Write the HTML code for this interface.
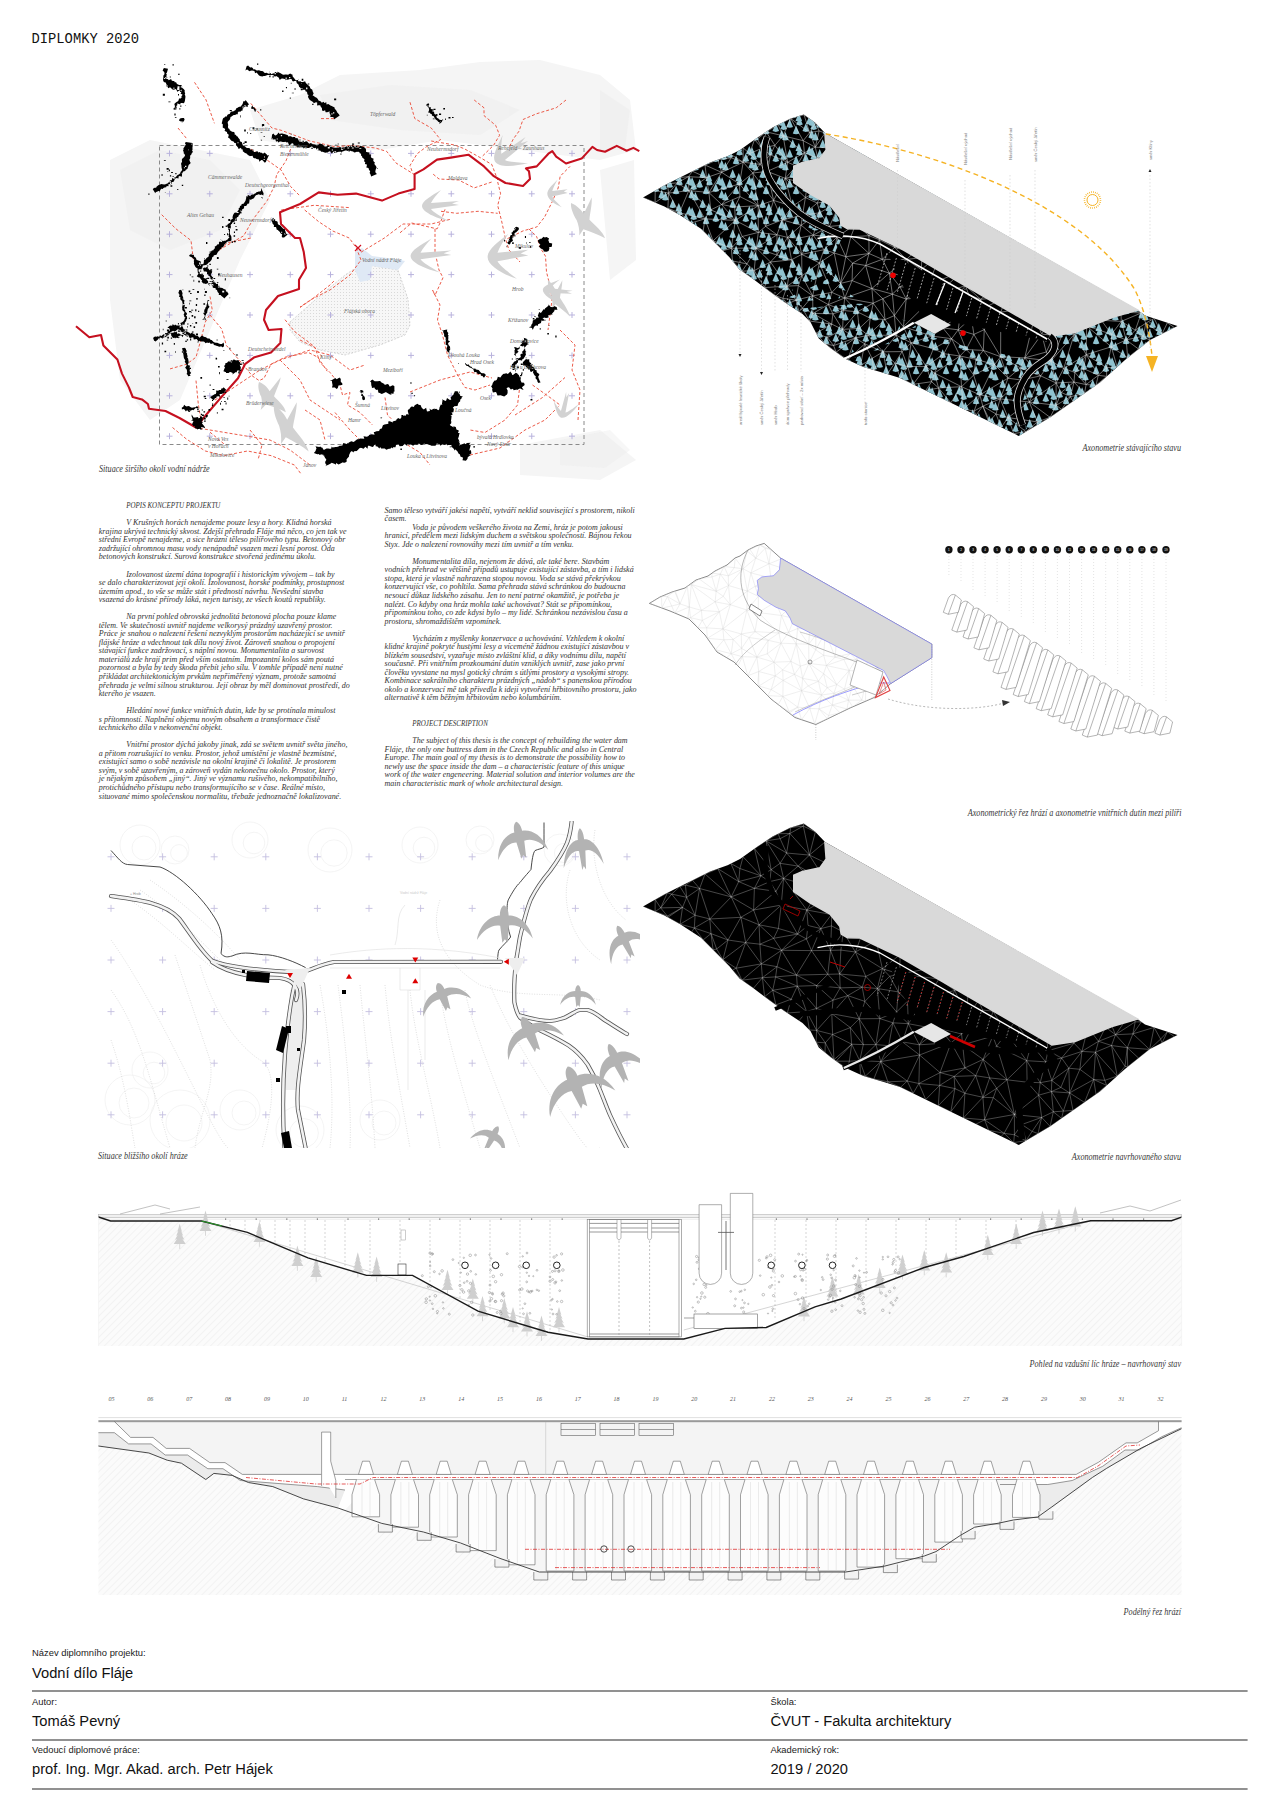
<!DOCTYPE html><html><head><meta charset="utf-8"><style>
html,body{margin:0;padding:0;background:#fff}
body{width:1280px;height:1812px;position:relative;overflow:hidden}
svg{position:absolute;left:0;top:0}
.t{font-family:"Liberation Serif",serif;font-style:italic;font-size:9.2px;fill:#333}
.cap{font-family:"Liberation Serif",serif;font-style:italic;font-size:9.4px;fill:#383838}
.lab{font-family:"Liberation Sans",sans-serif;font-size:9.4px;fill:#222}
.val{font-family:"Liberation Sans",sans-serif;font-size:14.7px;fill:#111}
</style></head><body>
<svg width="1280" height="1812" viewBox="0 0 1280 1812">
<text x="31.5" y="43.2" style="font-family:'Liberation Mono',monospace;font-size:13.8px;fill:#111">DIPLOMKY 2020</text>
<g fill="#f5f5f5">
<polygon points="250.0,110.0 300.0,95.0 340.0,75.0 420.0,70.0 480.0,62.0 540.0,60.0 600.0,75.0 630.0,100.0 636.0,150.0 600.0,160.0 520.0,150.0 440.0,140.0 380.0,150.0 320.0,150.0 260.0,140.0"/>
<polygon points="110.0,160.0 150.0,140.0 200.0,150.0 250.0,160.0 270.0,200.0 240.0,260.0 210.0,330.0 180.0,400.0 150.0,420.0 120.0,380.0 110.0,300.0"/>
<polygon points="600.0,170.0 634.0,160.0 636.0,260.0 610.0,280.0"/>
<polygon points="520.0,445.0 600.0,430.0 636.0,460.0 600.0,480.0 520.0,475.0"/>
</g>
<g fill="#ebebeb" opacity="0.4">
<polygon points="120.0,170.0 160.0,150.0 210.0,160.0 240.0,190.0 220.0,230.0 170.0,250.0 130.0,230.0"/>
<polygon points="320.0,95.0 390.0,85.0 470.0,90.0 520.0,110.0 480.0,135.0 400.0,130.0 330.0,120.0"/>
<polygon points="600.0,90.0 630.0,110.0 625.0,150.0 600.0,150.0"/>
<polygon points="560.0,440.0 610.0,430.0 630.0,450.0 605.0,468.0 560.0,465.0"/>
</g>
<defs><pattern id="dots" width="3" height="3" patternUnits="userSpaceOnUse"><rect width="3" height="3" fill="#f7f7f7"/><circle cx="1.5" cy="1.5" r="0.5" fill="#cfcfcf"/></pattern></defs>
<polygon points="290.0,322.0 315.0,300.0 345.0,275.0 362.0,264.0 398.0,270.0 408.0,299.0 410.0,325.0 405.0,335.0 380.0,345.0 345.0,355.0 320.0,350.0 300.0,342.0 290.0,330.0" fill="url(#dots)" stroke="#bbb" stroke-width="0.6" stroke-dasharray="2,1.5"/>
<polygon points="355.0,252.0 362.0,248.0 372.0,256.0 395.0,259.0 405.0,261.0 398.0,270.0 372.0,266.0 370.0,280.0 360.0,282.0 355.0,270.0" fill="#dfe9f5"/>
<g stroke="#b9b3dd" stroke-width="1">
<path d="M166.5,153.4h6M169.5,150.4v6"/>
<path d="M166.5,193.8h6M169.5,190.8v6"/>
<path d="M166.5,234.2h6M169.5,231.2v6"/>
<path d="M166.5,274.6h6M169.5,271.6v6"/>
<path d="M166.5,315.0h6M169.5,312.0v6"/>
<path d="M166.5,355.4h6M169.5,352.4v6"/>
<path d="M166.5,395.79999999999995h6M169.5,392.79999999999995v6"/>
<path d="M166.5,436.20000000000005h6M169.5,433.20000000000005v6"/>
<path d="M206.75,153.4h6M209.75,150.4v6"/>
<path d="M206.75,193.8h6M209.75,190.8v6"/>
<path d="M206.75,234.2h6M209.75,231.2v6"/>
<path d="M206.75,274.6h6M209.75,271.6v6"/>
<path d="M206.75,315.0h6M209.75,312.0v6"/>
<path d="M206.75,355.4h6M209.75,352.4v6"/>
<path d="M206.75,395.79999999999995h6M209.75,392.79999999999995v6"/>
<path d="M206.75,436.20000000000005h6M209.75,433.20000000000005v6"/>
<path d="M247.0,153.4h6M250.0,150.4v6"/>
<path d="M247.0,193.8h6M250.0,190.8v6"/>
<path d="M247.0,234.2h6M250.0,231.2v6"/>
<path d="M247.0,274.6h6M250.0,271.6v6"/>
<path d="M247.0,315.0h6M250.0,312.0v6"/>
<path d="M247.0,355.4h6M250.0,352.4v6"/>
<path d="M247.0,395.79999999999995h6M250.0,392.79999999999995v6"/>
<path d="M247.0,436.20000000000005h6M250.0,433.20000000000005v6"/>
<path d="M287.25,153.4h6M290.25,150.4v6"/>
<path d="M287.25,193.8h6M290.25,190.8v6"/>
<path d="M287.25,234.2h6M290.25,231.2v6"/>
<path d="M287.25,274.6h6M290.25,271.6v6"/>
<path d="M287.25,315.0h6M290.25,312.0v6"/>
<path d="M287.25,355.4h6M290.25,352.4v6"/>
<path d="M287.25,395.79999999999995h6M290.25,392.79999999999995v6"/>
<path d="M287.25,436.20000000000005h6M290.25,433.20000000000005v6"/>
<path d="M327.5,153.4h6M330.5,150.4v6"/>
<path d="M327.5,193.8h6M330.5,190.8v6"/>
<path d="M327.5,234.2h6M330.5,231.2v6"/>
<path d="M327.5,274.6h6M330.5,271.6v6"/>
<path d="M327.5,315.0h6M330.5,312.0v6"/>
<path d="M327.5,355.4h6M330.5,352.4v6"/>
<path d="M327.5,395.79999999999995h6M330.5,392.79999999999995v6"/>
<path d="M327.5,436.20000000000005h6M330.5,433.20000000000005v6"/>
<path d="M367.75,153.4h6M370.75,150.4v6"/>
<path d="M367.75,193.8h6M370.75,190.8v6"/>
<path d="M367.75,234.2h6M370.75,231.2v6"/>
<path d="M367.75,274.6h6M370.75,271.6v6"/>
<path d="M367.75,315.0h6M370.75,312.0v6"/>
<path d="M367.75,355.4h6M370.75,352.4v6"/>
<path d="M367.75,395.79999999999995h6M370.75,392.79999999999995v6"/>
<path d="M367.75,436.20000000000005h6M370.75,433.20000000000005v6"/>
<path d="M408.0,153.4h6M411.0,150.4v6"/>
<path d="M408.0,193.8h6M411.0,190.8v6"/>
<path d="M408.0,234.2h6M411.0,231.2v6"/>
<path d="M408.0,274.6h6M411.0,271.6v6"/>
<path d="M408.0,315.0h6M411.0,312.0v6"/>
<path d="M408.0,355.4h6M411.0,352.4v6"/>
<path d="M408.0,395.79999999999995h6M411.0,392.79999999999995v6"/>
<path d="M408.0,436.20000000000005h6M411.0,433.20000000000005v6"/>
<path d="M448.25,153.4h6M451.25,150.4v6"/>
<path d="M448.25,193.8h6M451.25,190.8v6"/>
<path d="M448.25,234.2h6M451.25,231.2v6"/>
<path d="M448.25,274.6h6M451.25,271.6v6"/>
<path d="M448.25,315.0h6M451.25,312.0v6"/>
<path d="M448.25,355.4h6M451.25,352.4v6"/>
<path d="M448.25,395.79999999999995h6M451.25,392.79999999999995v6"/>
<path d="M448.25,436.20000000000005h6M451.25,433.20000000000005v6"/>
<path d="M488.5,153.4h6M491.5,150.4v6"/>
<path d="M488.5,193.8h6M491.5,190.8v6"/>
<path d="M488.5,234.2h6M491.5,231.2v6"/>
<path d="M488.5,274.6h6M491.5,271.6v6"/>
<path d="M488.5,315.0h6M491.5,312.0v6"/>
<path d="M488.5,355.4h6M491.5,352.4v6"/>
<path d="M488.5,395.79999999999995h6M491.5,392.79999999999995v6"/>
<path d="M488.5,436.20000000000005h6M491.5,433.20000000000005v6"/>
<path d="M528.75,153.4h6M531.75,150.4v6"/>
<path d="M528.75,193.8h6M531.75,190.8v6"/>
<path d="M528.75,234.2h6M531.75,231.2v6"/>
<path d="M528.75,274.6h6M531.75,271.6v6"/>
<path d="M528.75,315.0h6M531.75,312.0v6"/>
<path d="M528.75,355.4h6M531.75,352.4v6"/>
<path d="M528.75,395.79999999999995h6M531.75,392.79999999999995v6"/>
<path d="M528.75,436.20000000000005h6M531.75,433.20000000000005v6"/>
<path d="M569.0,153.4h6M572.0,150.4v6"/>
<path d="M569.0,193.8h6M572.0,190.8v6"/>
<path d="M569.0,234.2h6M572.0,231.2v6"/>
<path d="M569.0,274.6h6M572.0,271.6v6"/>
<path d="M569.0,315.0h6M572.0,312.0v6"/>
<path d="M569.0,355.4h6M572.0,352.4v6"/>
<path d="M569.0,395.79999999999995h6M572.0,392.79999999999995v6"/>
<path d="M569.0,436.20000000000005h6M572.0,433.20000000000005v6"/>
</g>
<rect x="159.5" y="145.5" width="424.5" height="299" fill="none" stroke="#8a8a8a" stroke-width="1" stroke-dasharray="4,3"/>
<g fill="none" stroke="#ec5a48" stroke-width="1" stroke-dasharray="3,2">
<polyline points="194.5,82.3 206.0,99.8 214.4,123.3"/>
<polyline points="178.0,128.0 187.5,139.7"/>
<polyline points="250.8,103.4 271.9,128.0 281.2,130.3 309.4,140.9 335.0,146.7 351.5,145.5 375.0,147.9 386.7,151.4 396.0,163.0 405.5,169.0 414.8,174.8"/>
<polyline points="290.6,149.0 286.0,160.8 276.6,174.8 274.2,186.5 267.2,200.6 253.0,219.4 243.7,235.8 227.3,245.1 215.6,252.2"/>
<polyline points="250.8,149.0 264.8,158.4 281.2,170.1 290.6,186.5 300.0,196.0"/>
<polyline points="281.2,210.0 314.0,205.3 349.2,207.6"/>
<polyline points="304.7,210.0 318.7,221.7 332.8,231.0 349.2,238.0 356.2,247.5 361.0,260.0 350.0,275.0 330.0,290.0 312.0,299.0 300.0,307.0"/>
<polyline points="361.0,252.2 384.4,238.0 403.0,224.0 431.2,224.0 450.0,219.4"/>
<polyline points="410.0,102.2 414.8,118.6 431.2,128.0 440.6,139.7 426.5,146.7 417.2,153.7 410.0,165.5 412.5,172.5"/>
<polyline points="250.8,238.0 227.3,242.8 211.0,256.9"/>
<polyline points="161.7,214.7 175.8,228.7 191.0,240.5 193.4,260.0"/>
<polyline points="474.2,100.0 484.0,107.8 484.0,115.6 495.7,125.4 499.6,135.2 493.8,145.0 482.0,156.6"/>
<polyline points="566.0,100.0 556.2,107.8 536.7,113.7 523.0,119.5 519.0,131.2 513.3,139.0 509.4,146.9"/>
<polyline points="431.2,141.0 454.7,145.0 464.4,148.8 482.0,158.6 491.8,164.5 497.7,180.0"/>
<polyline points="433.2,174.2 439.0,179.0 458.6,180.0 474.2,187.9 491.8,182.0"/>
<polyline points="497.7,182.0 500.6,193.8 497.7,205.5 501.6,221.0 505.5,238.7 509.0,250.0 520.0,262.0"/>
<polyline points="441.0,211.3 456.6,213.3 478.1,211.3 497.7,213.3"/>
<polyline points="400.0,232.8 411.7,223.0 437.1,228.9 441.0,221.0 445.0,209.4"/>
<polyline points="435.0,228.9 435.0,252.3 439.0,270.0 443.0,277.7 435.0,295.3 432.5,290.0 440.0,305.0 437.5,320.0 442.5,335.0 447.5,355.0 457.5,375.0 465.0,387.5 475.0,390.0 490.0,385.0"/>
<polyline points="507.4,238.7 523.0,230.9 536.7,227.0 544.5,217.2 552.3,201.6 558.2,187.9 560.2,176.2 570.0,166.4"/>
<polyline points="528.9,228.9 536.7,236.7 540.6,248.4 545.5,256.2 546.5,271.9 550.4,287.5 552.0,300.0 548.0,330.0"/>
<polyline points="300.0,307.5 312.5,298.8 330.0,285.0 335.0,280.0"/>
<polyline points="300.0,340.0 315.0,347.5 320.0,362.5 330.0,372.5 340.0,385.0 342.5,395.0 350.0,392.5 347.5,405.0 360.0,412.5 372.5,425.0"/>
<polyline points="520.0,385.0 517.5,405.0 505.0,420.0 485.0,432.5 470.0,430.0"/>
<polyline points="515.0,415.0 542.5,397.5 565.0,377.5"/>
<polyline points="532.5,385.0 550.0,397.5 560.0,405.0"/>
<polyline points="385.0,397.5 387.5,415.0 392.5,420.0"/>
<polyline points="407.5,445.0 420.0,452.5 430.0,465.0"/>
<polyline points="305.0,410.0 320.0,420.0 325.0,440.0"/>
<polyline points="335.0,412.5 350.0,430.0 360.0,440.0"/>
<polyline points="195.0,427.5 240.0,435.0 270.0,440.0 290.0,450.0 310.0,465.0"/>
<polyline points="215.0,400.0 260.0,370.0 280.0,360.0 310.0,350.0 330.0,355.0 350.0,370.0 365.0,365.0"/>
<polyline points="280.0,360.0 300.0,380.0 310.0,400.0 340.0,420.0"/>
<polyline points="170.0,368.9 186.6,364.2 196.0,357.2 200.6,340.8 205.3,322.0 212.3,310.3 210.0,296.2"/>
<polyline points="196.0,380.6 198.3,404.0 200.6,418.1"/>
<polyline points="210.0,315.0 221.7,329.0 226.4,345.5 242.8,364.2 252.2,375.9 259.2,380.6 264.0,378.3 271.0,364.2 285.0,357.2 308.4,352.5 317.8,357.2 327.2,371.2"/>
<polyline points="285.0,319.7 294.4,331.4 313.0,345.5 322.5,357.2"/>
<polyline points="172.5,427.5 186.6,439.2 205.3,451.0 224.0,455.6 247.5,451.0 271.0,455.6 294.4,465.0 301.4,474.4"/>
<polyline points="210.0,432.2 224.0,443.9"/>
<polyline points="321.0,118.6 335.1,118.6"/>
<polyline points="410.0,392.0 440.0,380.0 470.0,372.0 492.0,378.0"/>
<polyline points="560.0,330.0 575.0,345.0 572.0,370.0 580.0,390.0 578.0,420.0"/>
<polyline points="470.0,455.0 500.0,448.0 525.0,430.0 545.0,420.0 560.0,405.0"/>
<polyline points="250.0,430.0 262.0,445.0 258.0,460.0"/>
</g>
<g>
<path d="M15,-16 C5,-10 -4,-5 -4,0 C-4,6 10,12 22.6,15 C14,10 7,6 5,3 L33,-1 L26,-2.5 L33,-5 L5,-3 C7,-7 11,-12 15,-16 Z" transform="translate(426,206) rotate(0) scale(1,1)" fill="#d2d2d2"/>
<path d="M15,-16 C5,-10 -4,-5 -4,0 C-4,6 10,12 22.6,15 C14,10 7,6 5,3 L33,-1 L26,-2.5 L33,-5 L5,-3 C7,-7 11,-12 15,-16 Z" transform="translate(415,256) rotate(0) scale(1.1,1.1)" fill="#d2d2d2"/>
<path d="M15,-16 C5,-10 -4,-5 -4,0 C-4,6 10,12 22.6,15 C14,10 7,6 5,3 L33,-1 L26,-2.5 L33,-5 L5,-3 C7,-7 11,-12 15,-16 Z" transform="translate(492,257) rotate(0) scale(1.1,1.45)" fill="#d2d2d2"/>
<path d="M15,-16 C5,-10 -4,-5 -4,0 C-4,6 10,12 22.6,15 C14,10 7,6 5,3 L33,-1 L26,-2.5 L33,-5 L5,-3 C7,-7 11,-12 15,-16 Z" transform="translate(498.6,159.4) rotate(-30) scale(1.05,1.2)" fill="#d2d2d2"/>
<path d="M15,-16 C5,-10 -4,-5 -4,0 C-4,6 10,12 22.6,15 C14,10 7,6 5,3 L33,-1 L26,-2.5 L33,-5 L5,-3 C7,-7 11,-12 15,-16 Z" transform="translate(549.5,193.8) rotate(0) scale(0.55,0.9)" fill="#d2d2d2"/>
<path d="M0,0 C3,4 6,12 6,20 L24,8 C20,16 12,24 8,30 C10,40 14,52 12,60 C8,52 2,44 -4,36 L-12,40 C-8,34 -6,28 -5,22 C-5,12 -3,4 0,0 Z" transform="translate(571,203) rotate(-32) scale(0.85,0.8)" fill="#d2d2d2"/>
<path d="M15,-16 C5,-10 -4,-5 -4,0 C-4,6 10,12 22.6,15 C14,10 7,6 5,3 L33,-1 L26,-2.5 L33,-5 L5,-3 C7,-7 11,-12 15,-16 Z" transform="translate(546,290) rotate(10) scale(0.8,0.8)" fill="#d2d2d2"/>
<path d="M0,0 C3,4 6,12 6,20 L24,8 C20,16 12,24 8,30 C10,40 14,52 12,60 C8,52 2,44 -4,36 L-12,40 C-8,34 -6,28 -5,22 C-5,12 -3,4 0,0 Z" transform="translate(548,280) rotate(-22) scale(0.55,0.7)" fill="#d2d2d2"/>
<path d="M0,0 C3,4 6,12 6,20 L24,8 C20,16 12,24 8,30 C10,40 14,52 12,60 C8,52 2,44 -4,36 L-12,40 C-8,34 -6,28 -5,22 C-5,12 -3,4 0,0 Z" transform="translate(259,382) rotate(-26) scale(0.9,0.65)" fill="#d2d2d2"/>
<path d="M0,0 C3,4 6,12 6,20 L24,8 C20,16 12,24 8,30 C10,40 14,52 12,60 C8,52 2,44 -4,36 L-12,40 C-8,34 -6,28 -5,22 C-5,12 -3,4 0,0 Z" transform="translate(274,405) rotate(-26) scale(0.9,0.95)" fill="#d2d2d2"/>
<path d="M15,-16 C5,-10 -4,-5 -4,0 C-4,6 10,12 22.6,15 C14,10 7,6 5,3 L33,-1 L26,-2.5 L33,-5 L5,-3 C7,-7 11,-12 15,-16 Z" transform="translate(562,415) rotate(-70) scale(0.7,0.8)" fill="#d2d2d2"/>
</g>
<polyline points="76.0,326.2 89.3,337.3 101.0,335.0 103.4,345.5 117.4,359.5 122.0,373.6 129.0,387.6 132.7,397.0 142.0,399.4 147.9,404.0 149.0,408.7 165.5,411.0 179.5,418.0 196.0,427.5 205.3,415.8 219.4,399.4 238.0,378.3 245.0,364.2 254.5,357.2 271.0,352.5 280.3,343.0 281.5,329.0 268.6,330.0 264.0,319.7 266.0,310.0 278.0,296.0 299.0,289.0 299.0,279.8 306.0,268.0 303.7,251.7 300.0,238.0 295.0,238.0 281.0,224.0 280.0,212.3 300.0,204.0 318.7,192.4 337.5,194.8 356.0,193.6 382.0,200.6 398.4,193.6 414.6,188.9 414.6,174.2 423.4,169.3 437.0,159.6 450.8,157.6 468.4,154.7 484.0,166.4 493.8,176.2 505.5,183.0 523.0,186.0 530.0,179.0 529.0,171.3 526.0,168.4 536.7,166.4 548.4,153.7 552.3,151.2 556.2,156.6 566.0,163.5 581.6,158.6 592.4,146.9 597.0,150.0 605.0,151.8 616.8,145.9 626.6,150.8 633.4,147.9 639.3,151.2" fill="none" stroke="#c5101f" stroke-width="2.1" stroke-linejoin="round"/>
<path d="M163.9,68.0L163.2,69.2L162.6,70.4L164.2,72.0L164.5,73.3L164.3,74.6L163.3,75.7L163.4,77.0L163.0,79.9L163.5,81.4L164.4,82.3L165.7,82.6L166.3,84.0L166.9,85.3L167.6,86.6L168.1,88.2L170.1,87.3L171.5,88.5L172.5,89.4L173.9,89.7L175.7,88.9L176.6,90.0L177.2,91.7L179.4,90.4L181.0,90.0L181.3,89.5L182.0,90.8L181.3,92.2L180.5,93.6L182.6,94.8L181.5,96.2L181.3,97.6L182.6,97.2L181.5,97.8L180.6,98.6L179.0,98.4L178.7,100.1L178.0,101.2L176.9,101.7L175.3,102.9L174.3,104.0L174.8,105.6L174.9,107.1L174.2,108.3L172.8,109.1L175.4,110.1L175.0,108.5L176.9,107.8L176.2,106.1L177.4,105.2L177.1,103.6L178.3,103.7L180.3,104.6L180.6,102.9L182.1,103.0L183.7,103.2L184.5,102.3L184.9,100.7L185.4,97.2L185.4,95.9L184.7,94.6L185.2,93.2L184.6,91.9L184.8,90.6L183.9,89.3L182.1,87.8L181.9,85.4L180.6,85.0L179.2,84.9L177.9,84.5L176.8,83.7L176.1,82.3L174.6,82.2L174.3,81.1L172.9,81.0L171.7,80.4L171.1,79.1L168.8,80.2L168.0,79.3L166.8,78.7L165.5,78.5L164.9,77.0L167.7,77.7L166.0,76.1L167.0,75.0L166.1,73.6L167.0,72.4L167.3,71.2L167.7,69.9L168.0,68.7ZM172.5,64.2h1.3v1.3h-1.3ZM164.4,64.1h0.8v0.8h-0.8ZM169.8,76.4h1.0v1.0h-1.0ZM164.0,78.0h0.9v0.9h-0.9ZM180.8,86.2h1.3v1.3h-1.3ZM166.5,85.2h1.2v1.2h-1.2ZM180.1,90.5h1.4v1.4h-1.4ZM185.0,105.4h0.6v0.6h-0.6ZM179.3,108.3h1.1v1.1h-1.1ZM180.2,105.6h1.2v1.2h-1.2ZM178.9,120.3L180.1,121.3L181.8,121.4L183.4,121.7L184.6,119.7L184.0,117.9L182.0,118.1L180.0,118.5ZM181.8,122.2h0.6v0.6h-0.6ZM245.4,70.4L247.0,69.4L248.1,70.0L249.1,71.3L250.6,70.7L252.0,70.4L253.2,70.7L254.4,71.1L255.1,73.2L256.6,72.6L257.6,73.8L258.8,75.3L259.9,76.0L261.1,76.2L262.3,76.5L263.6,75.9L264.9,75.9L266.2,75.5L267.6,75.0L268.8,75.0L270.0,75.5L271.3,74.9L272.5,75.1L273.7,75.4L274.9,76.7L276.2,76.1L277.4,76.7L278.6,77.6L279.8,79.9L281.1,78.8L282.3,78.5L283.6,78.8L284.8,79.1L286.0,80.3L285.2,80.4L286.9,79.8L288.5,79.5L290.0,79.1L291.5,78.9L292.1,80.5L293.0,81.4L294.5,81.1L296.1,80.7L296.6,82.4L297.0,83.4L298.1,84.0L298.7,85.3L299.1,86.8L300.1,87.6L300.9,88.5L302.0,89.1L303.0,89.9L303.2,89.7L305.3,89.8L305.4,91.2L306.8,91.8L307.3,92.9L307.3,94.3L308.6,95.0L307.9,96.9L308.6,97.9L309.0,99.1L309.9,99.9L311.0,100.7L313.0,102.0L313.8,103.3L315.9,102.3L317.2,102.6L317.1,105.4L318.7,105.3L320.2,105.3L320.9,107.1L321.9,107.9L322.1,110.4L323.3,111.0L325.1,110.3L325.6,112.2L327.1,112.2L328.8,111.7L329.4,111.0L329.5,112.5L329.9,113.9L330.6,115.1L330.3,117.0L332.5,117.1L334.0,117.7L333.9,119.4L339.7,115.4L338.9,114.3L338.0,113.3L337.1,112.2L336.6,111.0L335.8,109.8L334.8,108.9L334.6,107.4L331.7,105.9L330.4,105.5L329.4,104.7L328.3,103.9L326.5,104.6L326.3,102.2L324.4,103.0L323.5,101.7L321.8,102.7L320.9,101.5L319.7,101.0L318.5,100.5L317.8,99.1L316.8,98.1L315.8,97.3L316.3,97.5L314.9,96.9L314.0,96.0L312.6,95.4L313.7,93.3L313.0,92.3L312.6,91.1L312.3,89.8L311.3,89.0L310.2,88.2L310.0,86.9L309.2,86.0L307.3,84.5L306.4,83.6L305.6,82.6L305.1,81.2L303.0,81.9L301.4,81.9L300.3,81.2L298.6,81.4L297.8,80.1L296.4,80.2L295.3,79.7L294.4,78.6L293.6,77.5L292.7,76.6L292.4,74.5L291.2,74.2L290.2,73.5L288.1,74.8L286.3,74.5L285.1,74.4L283.8,74.7L282.6,74.6L281.4,73.7L280.2,72.9L278.9,72.4L277.7,71.8L276.4,72.2L275.2,72.1L274.2,73.3L272.8,73.6L271.5,74.3L270.5,73.0L269.1,73.8L267.9,73.6L266.8,72.7L265.5,73.1L264.3,72.8L263.3,71.5L262.1,71.1L260.9,71.1L259.7,70.6L258.7,70.2L257.2,70.6L256.0,70.3L255.0,69.2L253.6,69.4L252.7,68.1L251.6,67.3L250.2,67.6L249.1,66.6L248.1,65.5L246.6,66.2ZM257.0,63.4h1.3v1.3h-1.3ZM269.4,71.7h0.6v0.6h-0.6ZM274.6,73.1h1.2v1.2h-1.2ZM269.3,76.0h1.2v1.2h-1.2ZM272.5,76.3h1.3v1.3h-1.3ZM276.3,71.9h1.1v1.1h-1.1ZM289.1,77.1h1.2v1.2h-1.2ZM298.4,79.6h0.5v0.5h-0.5ZM301.3,83.1h0.5v0.5h-0.5ZM312.2,103.8h1.3v1.3h-1.3ZM333.0,112.3h1.3v1.3h-1.3ZM331.4,113.3h1.1v1.1h-1.1ZM245.6,99.9L245.0,101.2L243.3,101.2L243.0,102.8L242.5,104.3L241.6,105.3L241.0,106.5L239.5,106.8L238.2,107.2L237.2,107.9L236.0,108.4L235.7,109.9L234.7,110.6L233.6,111.2L232.3,111.5L230.8,111.6L230.2,112.9L229.6,113.9L228.3,114.3L227.3,115.0L226.8,116.4L225.2,116.5L224.5,117.5L223.3,118.1L222.7,119.3L221.7,123.5L222.8,124.3L222.8,125.9L222.7,127.5L224.0,128.2L225.2,128.9L224.6,130.7L225.8,131.4L227.0,132.1L227.1,133.6L228.4,134.2L228.7,135.6L228.0,137.5L229.4,138.2L230.1,139.2L231.4,140.8L232.7,141.2L233.9,141.8L234.4,143.1L236.1,143.2L235.9,145.1L236.8,146.0L238.0,147.6L238.6,149.0L241.0,147.7L241.4,149.2L242.7,149.5L242.9,151.4L244.0,151.9L244.8,152.9L246.1,153.2L247.0,154.1L247.9,154.9L249.8,156.0L251.1,156.0L252.6,155.7L253.1,157.6L254.1,158.3L255.5,158.2L256.5,159.0L257.7,159.2L259.0,159.4L259.2,161.8L261.3,160.0L262.6,160.3L263.5,161.3L264.3,162.5L265.7,162.3L269.0,154.9L267.3,155.6L266.6,154.3L265.6,153.4L264.8,152.4L262.9,153.7L261.9,152.7L260.6,152.7L259.6,151.9L258.1,152.4L257.3,151.1L255.5,152.1L254.2,152.1L253.3,151.0L252.6,149.7L251.7,149.7L250.4,149.4L249.7,148.2L248.3,148.1L246.9,147.9L245.8,147.3L245.0,146.3L243.8,145.9L242.8,145.2L242.3,143.7L241.9,142.2L241.0,141.8L239.9,141.2L239.8,139.5L238.9,138.6L238.1,137.6L237.6,136.4L236.3,135.9L236.2,135.1L234.6,134.6L234.7,133.0L234.0,132.0L232.0,131.8L231.0,131.0L229.7,130.3L229.5,128.9L228.2,128.2L228.0,126.8L228.2,125.0L227.9,123.7L227.7,122.2L227.5,120.8L225.2,120.8L225.8,123.2L227.2,123.0L227.9,121.8L228.7,120.8L229.6,119.9L230.2,118.7L230.5,117.0L231.6,116.5L232.6,115.7L233.7,115.1L235.2,115.0L236.2,114.2L237.8,114.3L237.8,112.4L238.8,111.6L240.4,111.7L241.3,110.8L242.6,110.4L242.6,108.6L243.8,108.1L244.4,106.8L245.5,106.2L247.7,106.9L247.8,104.9L249.1,104.5ZM242.5,106.6h1.1v1.1h-1.1ZM237.5,142.2h1.0v1.0h-1.0ZM243.3,142.8h1.2v1.2h-1.2ZM252.3,149.6h1.1v1.1h-1.1ZM263.6,158.9h1.1v1.1h-1.1ZM264.0,156.6h1.0v1.0h-1.0ZM185.8,142.1L184.9,143.3L185.9,144.7L184.9,145.8L184.4,147.0L183.4,148.2L183.5,149.4L183.0,150.7L183.8,152.0L183.6,153.3L184.5,154.1L185.1,155.6L184.3,156.8L183.4,157.8L182.2,158.8L181.8,160.1L182.1,161.5L181.5,162.7L181.0,163.7L181.4,165.2L181.5,166.7L181.6,168.1L182.2,169.8L181.5,171.0L180.5,172.0L180.3,173.3L179.7,173.7L178.8,174.6L177.6,175.0L176.6,175.9L176.0,177.1L175.2,178.2L174.1,178.9L172.0,178.1L171.9,180.2L170.3,180.1L169.5,181.1L168.7,182.3L168.0,183.3L166.6,183.7L165.5,184.2L164.2,184.6L162.6,184.3L161.0,184.1L160.0,184.8L158.7,185.1L157.7,185.7L156.7,186.4L156.1,187.7L154.6,187.7L153.6,188.3L152.8,189.3L155.3,193.3L155.9,192.0L157.2,191.8L158.1,191.0L159.8,191.3L160.4,189.9L161.1,188.7L162.6,188.9L163.5,188.0L164.5,187.4L166.2,187.3L166.7,186.0L168.5,186.2L168.5,184.1L170.1,184.2L171.6,184.1L171.7,182.1L173.2,182.0L174.1,181.1L174.5,179.4L175.5,178.7L176.6,178.1L178.5,178.6L178.6,176.5L179.7,175.9L181.9,176.7L182.0,174.0L182.5,172.8L183.2,171.6L185.2,171.0L185.8,169.8L187.4,169.0L187.7,167.7L188.2,166.5L188.6,164.9L189.8,163.9L190.7,162.9L189.8,161.2L189.3,159.7L190.1,158.5L190.2,157.2L190.1,155.8L191.5,154.2L191.8,153.0L193.0,151.9L192.1,150.5L192.6,149.3L192.4,148.0L192.6,146.7L192.7,145.5L192.6,144.2L192.5,142.9ZM191.2,143.8h0.7v0.7h-0.7ZM188.0,149.6h0.6v0.6h-0.6ZM183.9,167.3h1.0v1.0h-1.0ZM185.0,165.7h1.4v1.4h-1.4ZM181.6,173.2h0.5v0.5h-0.5ZM175.3,173.0h1.2v1.2h-1.2ZM167.4,171.3h0.8v0.8h-0.8ZM177.2,189.0h1.1v1.1h-1.1ZM164.9,192.4h0.7v0.7h-0.7ZM148.3,193.5h1.2v1.2h-1.2ZM271.5,139.3L272.7,139.0L273.9,139.7L275.2,139.1L276.1,141.7L277.4,141.1L278.4,142.5L279.8,141.5L281.1,141.4L281.6,141.7L282.8,142.0L284.2,141.9L285.5,141.8L286.6,142.5L288.0,142.3L288.7,144.4L289.6,145.5L291.5,143.6L293.0,143.2L293.7,145.0L294.8,145.6L296.0,146.0L297.7,147.4L299.0,146.7L300.2,146.8L301.5,146.7L302.6,147.3L303.7,148.4L305.1,147.2L306.2,147.7L307.4,147.9L308.6,147.9L309.9,147.4L311.3,146.6L312.5,146.7L313.0,147.6L314.1,148.2L315.7,147.8L316.5,149.3L317.6,150.2L318.9,150.4L320.2,150.5L321.2,151.7L322.6,151.7L325.2,152.8L326.5,152.6L327.7,152.6L328.9,151.4L330.2,151.2L331.6,153.4L332.8,152.5L333.9,151.2L335.2,152.2L336.5,152.5L337.7,152.0L339.0,151.8L340.2,151.8L341.5,151.8L342.7,151.4L344.0,151.1L345.2,150.5L346.4,150.5L347.7,151.1L348.9,150.0L349.5,150.1L350.6,151.0L351.8,151.2L353.1,151.6L354.2,152.4L355.5,152.2L356.8,151.7L358.1,151.3L359.3,152.0L359.2,150.4L359.3,151.9L359.7,153.2L361.1,153.8L361.0,155.5L362.0,156.3L362.4,157.7L363.5,158.5L364.6,159.3L364.2,160.0L364.2,161.4L365.3,162.3L364.9,163.9L366.9,164.4L366.8,165.8L366.3,167.4L368.5,167.9L368.8,169.2L369.3,170.3L370.2,171.3L369.6,173.0L370.3,174.0L370.8,175.2L371.1,176.4L377.0,173.9L375.9,173.0L375.3,171.9L375.5,170.4L375.9,168.9L376.6,167.2L375.9,166.1L375.2,165.0L374.3,164.0L374.9,162.4L373.7,161.5L373.2,160.3L373.7,158.7L371.9,158.1L370.9,157.2L370.9,154.6L369.1,154.3L369.6,152.4L367.6,152.2L366.0,151.8L366.1,150.1L365.8,148.7L364.8,147.8L363.7,147.0L360.3,145.8L358.8,147.3L357.7,145.9L356.3,146.9L355.0,147.4L354.0,145.8L352.7,146.0L351.3,146.9L350.2,145.8L348.7,146.9L347.5,147.0L346.2,146.2L345.0,147.2L343.7,147.3L342.5,147.4L341.2,147.4L339.9,146.9L338.7,147.6L337.5,147.6L336.2,147.8L335.0,147.8L333.7,147.6L332.4,147.3L331.1,146.5L329.9,146.9L328.6,145.6L327.3,145.6L326.1,146.7L324.8,146.2L324.5,146.4L323.4,145.6L322.5,144.3L321.2,143.9L320.0,143.4L318.1,144.8L317.1,144.0L315.4,144.8L314.2,144.3L312.8,144.3L311.8,143.4L310.6,143.1L309.3,143.7L308.2,142.8L307.1,141.5L305.9,141.2L304.6,142.1L303.4,141.8L302.1,142.3L301.0,141.4L299.7,141.8L298.7,140.5L298.1,139.1L297.2,137.9L295.8,138.2L294.8,137.1L293.5,136.9L292.1,137.2L291.1,136.3L289.8,136.3L288.4,136.5L287.6,135.0L286.4,134.7L285.2,134.3L284.0,133.9L282.2,133.6L280.9,133.5L279.7,133.9L278.6,132.6L277.1,134.6L275.7,135.4L274.5,135.0L273.5,133.5L272.1,134.5ZM276.7,138.4h1.0v1.0h-1.0ZM272.0,138.4h0.9v0.9h-0.9ZM280.8,135.0h1.3v1.3h-1.3ZM290.8,133.7h0.8v0.8h-0.8ZM299.4,139.5h1.1v1.1h-1.1ZM302.5,140.8h1.4v1.4h-1.4ZM299.4,146.6h0.9v0.9h-0.9ZM316.2,144.2h1.3v1.3h-1.3ZM311.4,147.7h1.3v1.3h-1.3ZM331.8,149.4h1.2v1.2h-1.2ZM335.6,144.6h0.7v0.7h-0.7ZM341.3,151.8h0.7v0.7h-0.7ZM352.2,145.1h0.9v0.9h-0.9ZM376.9,168.0h0.8v0.8h-0.8ZM261.0,187.9L261.0,190.7L260.1,191.5L258.7,191.5L257.6,192.1L256.4,192.3L255.6,193.3L254.4,193.7L253.5,194.6L252.1,194.6L251.0,195.1L250.2,196.2L248.3,195.1L246.3,196.4L246.2,197.9L245.9,199.3L245.6,200.6L244.9,201.7L244.2,202.8L243.5,203.8L241.7,204.0L241.3,205.4L239.9,205.9L240.0,207.6L238.7,208.1L238.8,209.8L237.9,210.7L237.4,211.8L236.1,212.4L234.5,212.8L233.8,213.7L233.2,214.8L232.8,215.9L232.5,217.2L232.8,218.8L231.5,219.4L230.4,220.1L230.6,221.7L230.1,222.8L228.0,224.0L227.1,225.3L227.3,226.5L228.0,227.8L228.0,229.1L229.0,230.4L229.0,231.6L229.4,232.9L228.4,234.2L228.8,235.5L228.6,236.7L229.5,237.8L228.4,238.3L227.6,239.4L226.6,240.1L225.5,240.8L223.9,240.8L222.8,241.5L221.9,242.3L220.8,242.9L220.1,244.1L218.5,244.2L217.2,244.5L216.2,246.0L214.7,246.4L215.0,248.3L213.9,249.0L213.4,250.2L211.9,250.5L211.1,251.5L210.5,252.6L209.6,253.4L208.8,254.3L208.8,256.0L208.2,257.0L207.1,257.6L206.1,258.4L205.5,259.5L204.0,259.7L203.9,261.4L203.7,262.9L203.2,264.2L201.3,264.1L201.0,265.5L199.9,266.2L198.7,266.8L200.7,268.7L201.7,267.9L202.5,267.0L202.8,265.5L204.4,265.3L205.7,264.9L207.0,264.4L207.9,263.5L208.7,262.5L209.8,261.9L210.6,261.0L211.6,259.8L212.0,258.5L212.2,257.2L213.5,256.6L213.8,255.2L215.5,255.0L216.8,254.5L217.2,253.2L217.8,252.2L218.6,251.2L219.4,250.2L219.6,248.8L221.1,249.3L221.4,247.6L222.6,247.2L223.6,246.5L224.1,245.1L224.9,244.1L225.8,243.2L226.7,242.2L227.6,241.4L229.2,241.3L230.6,241.1L231.5,240.2L231.4,236.7L230.8,235.5L230.0,234.2L230.0,232.9L230.0,231.6L230.0,230.4L230.0,229.1L230.8,227.8L230.9,226.5L230.6,225.3L231.4,224.0L231.8,223.9L232.3,222.8L233.1,222.0L234.7,221.6L234.8,220.2L236.3,219.7L236.5,218.4L237.0,217.3L238.3,216.8L238.6,215.5L239.6,214.7L240.0,213.6L241.8,213.3L241.1,211.4L242.1,210.8L242.2,209.3L243.6,208.7L244.1,207.5L244.2,206.0L246.1,205.9L246.9,204.9L247.5,203.7L249.1,203.4L249.3,202.0L249.5,200.4L249.8,199.1L250.7,200.0L251.7,199.3L252.8,198.7L253.9,198.3L254.6,196.9L255.4,195.7L256.4,195.0L257.6,194.8L258.7,194.2L260.4,194.9L261.5,194.5L263.3,195.4L263.6,193.2ZM261.5,197.1h0.9v0.9h-0.9ZM262.2,198.0h0.6v0.6h-0.6ZM247.0,195.7h0.7v0.7h-0.7ZM240.4,210.6h1.0v1.0h-1.0ZM233.7,222.5h1.4v1.4h-1.4ZM228.7,231.3h0.5v0.5h-0.5ZM224.1,234.0h1.0v1.0h-1.0ZM220.6,238.9h0.5v0.5h-0.5ZM209.6,251.4h1.3v1.3h-1.3ZM209.4,263.7h1.4v1.4h-1.4ZM204.1,258.3h0.7v0.7h-0.7ZM201.6,267.3h1.2v1.2h-1.2ZM251.3,106.9L251.4,109.0L253.6,108.8L254.1,110.4L255.4,111.1L256.4,110.1L255.3,109.1L254.5,107.8L253.2,107.0L252.4,105.7ZM254.7,110.9h0.9v0.9h-0.9ZM426.2,104.7L426.7,105.9L427.7,106.6L428.5,107.6L429.0,108.8L429.1,110.2L428.1,112.5L429.8,112.8L430.5,113.8L431.8,114.3L432.0,115.7L433.6,116.0L434.1,117.2L434.9,118.1L435.4,119.2L436.4,120.1L437.5,120.7L438.1,121.8L439.6,122.2L439.4,123.9L441.8,122.1L442.6,119.9L440.6,119.9L439.1,119.5L438.4,118.5L437.1,117.9L436.5,116.9L436.5,115.4L435.7,114.4L434.4,113.9L434.2,112.4L433.6,111.4L433.6,109.8L432.3,109.3L430.7,109.0L430.9,107.3L429.0,107.2L428.4,106.1L429.3,103.9L428.1,103.3ZM427.1,105.2h0.6v0.6h-0.6ZM426.8,114.7h0.9v0.9h-0.9ZM440.1,121.0h0.6v0.6h-0.6ZM271.4,219.5L271.4,221.1L272.2,222.0L272.5,223.4L273.2,224.3L274.0,225.3L273.8,227.0L275.9,226.9L276.4,228.1L276.6,229.5L277.9,230.0L278.7,230.9L279.7,231.7L280.2,232.8L281.0,233.8L282.2,234.3L281.7,236.3L282.3,237.5L284.1,237.5L287.7,234.6L286.6,234.0L285.9,232.9L285.5,231.6L285.0,230.4L284.8,229.1L283.2,228.8L282.4,227.8L281.6,226.9L280.9,226.0L279.9,225.2L278.6,224.7L277.8,223.7L277.7,222.2L277.1,221.2L275.2,221.1L275.2,219.5L273.8,219.1L273.5,217.8ZM272.6,219.3h1.2v1.2h-1.2ZM281.1,231.7h1.1v1.1h-1.1ZM284.3,233.1h1.3v1.3h-1.3ZM284.8,233.0h0.9v0.9h-0.9ZM213.7,255.4L214.7,254.6L214.4,252.5L215.3,251.6L216.1,250.6L217.7,250.4L219.6,250.5L220.0,249.1L220.9,248.2L221.7,247.2L222.3,246.0L223.1,245.0L224.0,244.1L224.4,242.7L221.6,239.9L222.2,242.3L219.7,241.6L218.9,242.6L219.0,244.5L217.8,245.1L217.0,246.1L215.8,246.7L215.5,248.2L215.1,249.6L214.0,250.3L212.3,250.4L212.6,252.5L211.2,252.9ZM221.1,246.2h0.7v0.7h-0.7ZM189.1,255.3L189.7,256.4L191.2,256.9L192.3,257.7L193.2,258.5L194.2,259.4L193.8,261.1L194.1,262.4L193.8,264.0L194.5,265.0L195.0,266.2L195.7,267.2L196.6,268.1L198.0,268.7L198.7,269.7L198.4,271.3L199.7,272.0L199.6,273.4L201.0,274.8L201.9,275.7L203.2,276.1L203.3,277.6L204.5,278.2L205.7,278.8L206.4,279.7L207.5,280.4L208.2,281.4L208.0,283.4L209.8,283.3L210.9,283.9L211.9,284.6L212.7,285.5L212.6,287.3L213.7,288.0L215.5,287.9L215.7,289.5L217.0,289.9L217.3,291.3L218.0,292.4L218.9,293.2L218.8,295.0L220.6,295.0L221.5,295.9L222.4,296.7L223.4,297.5L224.2,298.4L228.7,293.9L227.8,293.0L227.4,291.7L225.9,291.5L225.8,289.8L224.6,289.3L223.4,288.7L222.4,287.9L220.9,287.7L219.4,287.5L218.9,286.2L218.0,285.5L218.0,283.7L216.1,283.9L215.5,282.8L214.2,282.3L214.1,280.7L213.1,280.0L211.7,279.6L210.5,279.1L210.4,277.5L209.8,276.3L208.7,275.7L208.3,274.4L207.0,274.0L207.1,272.2L206.1,271.4L204.3,271.5L203.4,271.1L204.1,269.2L202.8,268.5L202.9,267.0L201.4,266.5L200.2,265.8L200.1,264.4L200.8,262.5L200.5,261.3L199.0,260.8L197.5,260.2L196.3,259.6L196.1,258.2L195.3,257.2L194.0,256.6L194.0,255.2L192.9,254.4L192.1,253.5ZM191.6,254.0h1.1v1.1h-1.1ZM200.4,264.1h0.6v0.6h-0.6ZM197.9,265.2h0.9v0.9h-0.9ZM212.8,281.0h1.1v1.1h-1.1ZM217.9,286.4h1.1v1.1h-1.1ZM218.1,285.7h1.3v1.3h-1.3ZM229.5,297.5h0.7v0.7h-0.7ZM154.1,340.8L155.7,341.5L156.7,340.6L157.7,339.8L158.6,338.6L159.6,337.7L160.9,337.6L162.7,338.8L163.1,336.4L164.3,336.1L166.1,337.4L166.7,335.4L168.1,335.6L168.9,334.3L170.1,333.9L171.4,333.8L172.4,333.0L173.6,332.6L174.8,332.1L176.2,332.3L176.9,331.3L177.3,334.1L178.9,333.2L179.9,334.0L181.0,334.8L182.2,335.0L183.7,334.5L184.8,335.0L185.9,335.7L187.1,335.8L188.6,335.2L189.2,337.6L190.3,338.1L191.8,337.5L193.2,337.2L193.8,339.4L195.2,339.2L196.6,338.9L197.5,340.0L198.4,341.4L199.9,340.7L200.9,341.6L202.2,341.4L203.5,341.6L204.6,342.1L205.5,343.3L207.1,342.4L208.2,343.0L209.6,342.4L210.5,343.7L211.8,343.7L213.2,343.3L213.9,345.1L215.1,345.3L216.3,345.7L217.4,346.0L218.6,346.4L219.8,346.8L221.2,346.3L222.2,347.2L223.5,347.1L224.1,345.2L223.6,342.5L221.9,343.9L220.6,344.1L219.4,343.8L218.3,343.2L217.2,342.8L215.9,342.7L214.7,342.4L213.6,342.0L212.6,341.0L211.6,340.0L210.4,339.8L209.5,338.6L208.3,338.4L207.0,338.2L206.1,337.2L204.8,337.1L203.6,336.8L202.8,335.4L201.3,336.0L199.5,337.7L198.5,336.7L197.7,335.4L196.4,335.4L195.1,335.3L194.3,333.7L193.0,333.7L192.1,332.6L190.4,333.8L189.4,332.7L188.3,332.3L187.2,331.5L185.9,331.4L184.8,330.9L183.6,330.5L182.4,330.3L181.0,330.6L179.9,329.9L178.8,329.4L177.4,329.6L175.7,331.1L174.5,331.4L173.0,330.8L171.9,331.4L170.7,331.9L169.9,333.3L168.7,333.5L167.5,333.9L166.4,334.5L165.2,335.0L163.7,334.3L162.6,334.9L161.7,336.1L160.1,335.5L159.3,336.9L157.8,336.3L156.6,336.7L155.2,336.5L154.1,337.0L153.1,338.0ZM163.2,336.6h1.1v1.1h-1.1ZM181.9,335.1h0.6v0.6h-0.6ZM186.8,339.2h1.3v1.3h-1.3ZM197.5,341.6h1.0v1.0h-1.0ZM216.6,339.5h1.0v1.0h-1.0ZM223.6,387.2L222.9,388.3L221.4,388.6L221.0,390.0L219.3,390.1L218.1,390.7L216.1,390.6L216.3,392.5L215.8,393.9L214.5,394.3L213.4,395.1L212.2,395.7L211.1,396.4L210.0,397.1L213.2,400.3L214.4,399.6L214.8,398.3L216.2,397.9L216.7,396.6L218.3,396.3L220.2,396.4L219.5,394.0L221.4,394.0L222.7,393.5L224.0,393.0L224.5,391.7L225.4,390.8L226.4,390.0ZM212.1,403.6h1.1v1.1h-1.1ZM181.9,409.4L183.2,408.9L184.5,409.6L185.9,411.6L187.1,409.9L188.5,412.1L189.6,410.6L190.9,410.7L192.1,409.8L193.4,410.2L194.6,408.9L195.8,408.1L197.1,408.2L198.4,408.4L198.3,407.3L196.9,406.0L195.7,407.3L194.5,407.2L193.2,407.6L192.0,407.7L190.7,407.2L189.3,406.3L188.1,406.0L186.8,406.4L185.5,406.1L184.2,404.7L183.1,407.1L181.8,407.5ZM189.2,411.1h0.9v0.9h-0.9ZM197.2,408.8h1.4v1.4h-1.4ZM182.0,348.2L182.4,349.4L182.6,350.6L182.8,351.8L183.0,353.0L183.3,354.3L183.5,355.5L183.7,356.7L183.9,357.9L184.4,359.1L185.4,360.2L184.7,361.6L185.4,362.7L186.0,363.9L186.8,365.0L186.0,366.4L185.1,367.8L186.4,368.9L186.9,370.1L187.0,371.3L187.2,372.5L186.6,373.9L187.8,374.9L188.0,376.2L190.7,375.7L189.6,374.6L191.2,373.1L190.4,372.0L189.6,370.9L189.9,369.5L189.7,368.3L189.6,367.1L190.3,365.7L187.7,364.9L188.3,363.5L188.7,362.2L188.5,360.9L188.3,359.7L188.1,358.5L187.2,357.4L187.7,356.0L187.1,354.9L187.1,353.6L186.2,352.5L186.8,351.1L186.1,350.0L185.9,348.8L184.5,347.7ZM189.7,367.7h1.3v1.3h-1.3ZM443.2,330.3L443.2,331.5L443.4,332.7L444.0,333.8L444.2,335.0L444.0,336.2L445.5,337.2L445.8,338.4L445.6,339.6L445.9,340.8L445.6,342.1L445.8,343.3L445.6,344.5L447.3,345.4L447.3,346.6L446.6,348.0L446.6,349.2L446.7,350.4L447.4,351.5L448.5,352.5L450.1,352.3L449.0,351.2L449.9,349.9L450.6,348.5L450.0,347.4L449.8,346.2L448.7,345.2L448.2,344.1L448.1,342.9L450.1,341.3L448.2,340.4L448.2,339.2L448.4,338.0L448.2,336.8L448.6,335.5L447.8,334.4L448.4,333.1L447.4,332.0L447.0,330.9L447.2,329.6ZM442.3,329.9h0.7v0.7h-0.7ZM445.2,338.8h0.9v0.9h-0.9ZM449.8,348.2h0.8v0.8h-0.8ZM464.8,364.1L465.9,364.7L466.6,366.0L468.0,366.0L468.9,366.9L469.9,367.5L471.2,368.0L472.2,368.6L473.3,369.3L473.8,370.7L474.3,372.3L475.9,372.1L477.0,372.7L477.6,374.0L479.2,373.9L480.6,373.9L480.9,375.8L482.4,375.8L483.2,376.9L484.0,377.8L485.9,374.9L485.0,373.9L484.0,373.2L482.5,373.3L481.3,372.9L480.3,372.1L479.5,371.0L478.7,369.9L477.4,369.7L476.0,369.5L475.2,368.5L473.6,368.8L472.5,368.1L471.5,367.4L470.6,366.5L469.5,365.9L468.9,364.6L467.3,364.8L466.2,364.1L465.5,363.0ZM458.1,363.0h0.7v0.7h-0.7ZM471.1,366.8h0.6v0.6h-0.6ZM523.7,337.8L524.2,339.3L523.5,340.4L522.3,341.2L521.4,342.2L522.0,343.8L520.7,344.6L520.1,345.7L519.7,346.9L519.8,348.3L518.8,349.2L517.1,349.9L518.6,351.8L517.4,352.7L517.2,353.3L515.5,353.7L516.1,355.5L515.8,356.7L515.5,358.0L516.5,360.0L516.0,361.1L514.4,361.5L513.5,362.4L513.1,363.6L511.8,364.3L512.3,366.0L510.2,366.1L514.8,368.9L514.9,367.5L515.3,366.4L515.1,364.8L516.6,364.3L517.0,363.1L518.1,362.4L517.9,360.8L517.8,359.4L518.4,358.3L519.8,357.7L520.9,356.9L520.4,355.2L520.7,354.0L522.8,353.4L521.9,351.7L523.2,350.9L523.7,349.8L524.8,348.8L524.3,347.3L525.8,346.6L526.4,345.5L527.3,344.5L528.1,343.4L527.3,341.8L527.5,340.6L527.1,339.1ZM522.0,339.8h0.5v0.5h-0.5ZM524.8,340.6h1.1v1.1h-1.1ZM527.2,343.6h1.1v1.1h-1.1ZM525.7,357.4h0.8v0.8h-0.8ZM511.8,358.5h1.1v1.1h-1.1ZM522.8,362.2L523.1,363.8L523.1,365.5L525.0,365.4L525.8,366.5L526.7,367.4L527.6,368.3L528.3,369.4L530.0,369.5L530.1,371.3L531.2,372.0L533.6,370.6L532.9,372.2L533.4,373.3L534.0,374.4L534.7,375.4L535.8,376.3L535.5,377.7L535.9,378.9L537.1,379.7L537.3,381.0L537.6,382.1L538.5,383.1L540.7,382.2L539.8,381.3L539.4,380.1L538.9,379.0L538.5,377.8L538.2,376.6L539.4,374.8L538.9,373.7L537.7,372.9L536.6,372.0L536.8,370.6L535.3,369.9L534.4,368.8L534.1,367.3L532.5,367.1L532.0,365.7L531.4,364.5L531.0,363.1L529.8,362.4L529.2,361.3L529.3,359.3L527.4,359.4L526.0,359.0ZM534.7,368.5h0.5v0.5h-0.5ZM532.3,368.0h0.8v0.8h-0.8ZM360.4,390.2L359.3,391.8L361.2,392.7L361.6,393.9L360.9,395.4L362.5,396.3L362.1,397.8L362.3,399.0L363.0,400.2L364.8,399.7L365.0,398.3L364.7,397.1L364.0,396.0L362.8,394.9L362.9,393.6L363.4,392.1L363.2,390.8L361.5,389.9ZM359.5,391.0h0.9v0.9h-0.9ZM361.7,392.6h1.4v1.4h-1.4ZM509.7,244.6L510.4,243.6L510.8,242.3L512.1,241.5L513.0,240.5L512.2,238.8L512.7,237.6L513.2,236.5L515.3,236.0L514.4,234.2L514.7,233.0L516.2,232.2L517.2,231.3L518.2,230.3L518.9,229.2L518.8,227.8L516.6,226.8L515.0,227.5L514.7,228.8L514.8,230.2L512.9,230.8L512.8,232.1L511.3,232.8L512.3,234.7L510.5,235.3L510.1,236.5L509.7,237.7L509.3,238.9L508.7,240.0L508.6,241.4L507.3,242.2L508.0,243.9ZM509.4,239.9h0.6v0.6h-0.6ZM514.1,227.9h1.4v1.4h-1.4ZM179.1,290.2L178.9,291.5L178.3,292.9L179.2,294.0L179.5,295.2L178.9,296.6L180.5,297.5L180.2,298.9L180.8,300.0L182.1,301.0L182.3,302.2L182.6,303.5L182.8,304.7L182.4,306.0L182.1,307.4L182.3,308.6L182.3,309.9L183.2,311.0L184.4,312.0L184.3,313.3L183.6,314.7L184.2,315.8L184.3,317.1L185.6,317.7L184.6,318.5L184.4,319.8L183.8,320.8L182.9,321.7L181.7,322.4L180.3,322.9L181.1,324.8L180.4,325.8L179.5,326.7L178.7,327.5L177.3,328.1L177.2,329.5L178.3,330.2L178.9,329.2L180.3,328.6L180.7,327.4L181.4,326.5L181.6,325.2L182.2,324.2L184.8,324.4L184.7,322.9L185.3,321.9L186.2,321.0L186.3,319.7L187.1,318.7L187.0,316.5L185.9,315.5L187.2,313.9L186.5,312.8L185.3,311.8L185.3,310.5L184.5,309.4L184.3,308.2L184.6,306.8L185.0,305.5L184.6,304.3L184.1,303.1L184.2,301.8L184.6,300.5L183.3,299.5L183.2,298.2L183.1,297.0L182.4,295.8L182.3,294.6L182.6,293.3L182.1,292.1L181.8,290.9L181.1,289.8ZM182.5,289.4h0.8v0.8h-0.8ZM182.7,298.5h0.8v0.8h-0.8ZM183.2,303.9h1.3v1.3h-1.3ZM188.8,317.7h1.1v1.1h-1.1ZM207.7,299.9L207.5,301.2L207.2,302.4L207.0,303.7L206.5,304.9L206.5,306.2L205.6,307.3L205.3,308.6L204.4,309.7L204.2,310.9L204.2,312.2L203.2,313.3L204.4,314.9L204.5,316.2L204.2,317.4L203.6,318.6L202.2,319.6L205.5,320.3L205.8,319.1L204.9,317.6L205.6,316.4L205.8,315.2L206.1,313.9L207.2,312.8L207.3,311.6L207.6,310.3L207.8,309.1L208.6,307.9L209.6,306.8L208.2,305.2L208.0,303.9L207.8,302.6L208.1,301.3L209.6,300.3ZM207.9,304.5h0.7v0.7h-0.7ZM204.3,311.9h0.6v0.6h-0.6ZM204.6,315.5h0.9v0.9h-0.9ZM203.7,318.6h1.1v1.1h-1.1ZM207.2,268.2h1.0v1.9h-1.0ZM211.8,281.0h1.5v1.6h-1.5ZM211.9,283.9h1.4v2.0h-1.4ZM224.8,278.6h0.9v1.9h-0.9ZM189.8,274.3h0.9v1.1h-0.9ZM216.9,282.2h1.5v0.9h-1.5ZM206.2,278.1h0.9v1.5h-0.9ZM193.5,279.8h0.7v1.9h-0.7ZM218.0,273.5h1.8v2.0h-1.8ZM212.4,280.0h0.7v1.9h-0.7ZM201.3,274.1h1.3v1.8h-1.3ZM201.1,273.7h2.1v0.7h-2.1ZM216.9,257.0h1.8v2.1h-1.8ZM199.5,273.9h1.4v1.8h-1.4ZM205.9,267.2h2.1v0.7h-2.1ZM202.7,275.1h1.2v2.2h-1.2ZM222.2,290.7h2.0v1.7h-2.0ZM213.5,278.1h1.7v0.8h-1.7ZM204.0,278.4h1.9v2.1h-1.9ZM216.8,268.8h1.5v0.7h-1.5ZM191.6,276.6h1.8v0.6h-1.8ZM208.4,275.2h2.1v0.8h-2.1ZM198.0,280.8h2.0v0.8h-2.0ZM204.0,288.7h0.7v0.9h-0.7ZM224.9,278.2h1.0v1.4h-1.0ZM188.6,290.6h1.7v1.6h-1.7ZM198.7,275.4h1.9v0.8h-1.9ZM200.2,270.4h1.0v1.3h-1.0ZM209.0,284.9h0.7v0.6h-0.7ZM207.2,277.7h2.0v1.4h-2.0ZM199.0,262.5h0.9v2.1h-0.9ZM198.4,280.9h1.4v1.7h-1.4ZM205.6,269.8h1.9v1.3h-1.9ZM204.9,291.0h2.0v2.0h-2.0ZM197.1,290.9h1.8v2.2h-1.8ZM206.0,242.1h1.4v1.8h-1.4ZM206.9,265.4h1.4v1.2h-1.4ZM210.3,269.3h1.8v1.5h-1.8ZM203.2,268.4h0.7v1.7h-0.7ZM209.6,281.0h1.9v0.7h-1.9ZM193.6,326.3h1.5v1.7h-1.5ZM182.4,332.6h1.8v1.5h-1.8ZM165.7,320.6h1.0v0.9h-1.0ZM184.2,331.5h1.4v1.6h-1.4ZM184.9,331.1h1.7v0.7h-1.7ZM164.0,335.2h2.0v0.7h-2.0ZM179.9,327.5h1.2v2.2h-1.2ZM182.8,329.4h0.6v0.7h-0.6ZM180.6,329.8h1.9v1.9h-1.9ZM191.6,314.9h1.6v1.9h-1.6ZM162.8,328.8h0.7v1.5h-0.7ZM191.9,331.5h1.7v0.9h-1.7ZM165.1,333.1h1.8v1.1h-1.8ZM172.4,333.0h1.5v2.1h-1.5ZM166.7,339.7h1.5v0.9h-1.5ZM177.3,326.8h1.6v2.2h-1.6ZM173.8,343.1h1.1v1.6h-1.1ZM185.1,340.8h1.9v0.9h-1.9ZM174.8,336.5h0.9v1.7h-0.9ZM187.2,323.5h1.3v1.1h-1.3ZM181.9,351.1h1.4v1.7h-1.4ZM178.7,336.8h0.6v1.1h-0.6ZM167.3,336.7h1.6v1.7h-1.6ZM195.4,321.9h1.7v1.9h-1.7ZM166.9,329.6h2.1v2.0h-2.1ZM161.8,342.6h1.3v1.8h-1.3ZM195.9,333.6h2.1v1.3h-2.1ZM192.5,323.2h0.6v0.7h-0.6ZM164.5,350.7h1.7v1.6h-1.7ZM187.1,326.3h0.8v1.3h-0.8ZM186.0,329.4h1.4v1.1h-1.4ZM176.7,334.8h2.1v1.0h-2.1ZM181.8,327.2h1.3v0.6h-1.3ZM167.8,327.0h1.3v0.9h-1.3ZM177.9,330.4h2.1v1.4h-2.1ZM170.3,326.6h0.6v0.6h-0.6ZM177.9,322.9h1.0v1.5h-1.0ZM189.9,325.1h1.4v1.5h-1.4ZM182.1,330.6h1.7v1.5h-1.7ZM178.5,327.3h1.9v1.9h-1.9ZM175.0,351.2h0.7v1.5h-0.7ZM186.6,334.7h1.6v1.7h-1.6ZM171.1,332.8h1.5v1.3h-1.5ZM170.8,337.5h1.3v1.2h-1.3ZM190.1,338.5h1.1v1.9h-1.1ZM242.7,362.3h1.1v1.4h-1.1ZM229.6,360.7h1.9v0.7h-1.9ZM240.0,363.5h1.8v1.6h-1.8ZM234.9,359.9h0.7v0.9h-0.7ZM229.4,347.8h1.0v1.4h-1.0ZM231.3,360.0h1.0v1.8h-1.0ZM235.4,368.6h1.6v1.4h-1.6ZM238.7,362.8h1.3v0.9h-1.3ZM231.0,363.2h0.6v1.2h-0.6ZM232.1,360.7h1.3v0.7h-1.3ZM226.5,379.0h2.0v0.8h-2.0ZM238.6,363.1h0.8v1.2h-0.8ZM234.9,364.1h1.8v2.1h-1.8ZM241.6,359.9h2.1v0.8h-2.1ZM223.1,350.5h1.4v0.6h-1.4ZM227.8,371.3h1.3v1.8h-1.3ZM230.4,365.6h1.7v2.2h-1.7ZM218.0,365.9h1.7v1.7h-1.7ZM230.5,363.6h1.7v1.3h-1.7ZM219.1,372.1h0.8v2.1h-0.8ZM235.8,354.5h2.1v0.9h-2.1ZM215.6,357.8h1.5v1.7h-1.5ZM239.4,370.4h0.6v1.4h-0.6ZM236.8,365.9h0.8v1.0h-0.8ZM238.3,371.6h1.4v1.8h-1.4ZM203.5,411.2h1.6v1.4h-1.6ZM200.8,413.7h1.2v1.2h-1.2ZM204.1,420.6h1.6v1.2h-1.6ZM197.6,421.2h0.8v2.0h-0.8ZM201.8,414.6h2.1v1.5h-2.1ZM200.0,416.5h2.1v1.3h-2.1ZM201.4,421.7h0.7v0.6h-0.7ZM201.8,409.5h1.0v1.1h-1.0ZM203.7,417.7h2.0v1.9h-2.0ZM194.4,423.6h1.2v1.2h-1.2ZM197.4,411.3h2.2v0.8h-2.2ZM197.3,426.9h1.9v2.2h-1.9ZM201.1,417.6h1.8v0.9h-1.8ZM197.9,421.0h0.6v1.3h-0.6ZM203.6,416.6h0.6v1.7h-0.6ZM199.5,422.5h0.9v2.0h-0.9ZM205.7,415.9h1.4v1.7h-1.4ZM196.7,424.9h1.8v1.7h-1.8ZM205.9,414.9h1.9v1.9h-1.9ZM200.7,428.6h1.5v0.9h-1.5ZM191.1,309.8h2.1v0.7h-2.1ZM204.3,294.5h1.2v1.6h-1.2ZM189.4,302.8h0.6v1.8h-0.6ZM190.9,311.8h1.1v0.6h-1.1ZM184.8,307.0h2.1v1.4h-2.1ZM196.0,298.2h1.9v1.4h-1.9ZM203.4,303.2h1.7v1.5h-1.7ZM189.3,300.5h2.0v0.7h-2.0ZM198.1,310.8h1.1v1.1h-1.1ZM189.0,311.1h1.9v1.1h-1.9ZM195.2,309.3h1.2v2.0h-1.2ZM195.8,304.0h1.3v1.9h-1.3ZM194.1,316.3h1.5v1.9h-1.5ZM192.5,288.9h1.8v0.8h-1.8ZM190.1,293.1h1.5v0.9h-1.5ZM224.6,391.7h1.6v1.4h-1.6ZM212.6,388.9h1.8v1.2h-1.8ZM200.4,376.9h1.7v1.8h-1.7ZM203.7,395.8h2.1v1.4h-2.1ZM223.4,397.1h1.4v0.6h-1.4ZM225.6,402.5h0.9v2.1h-0.9ZM221.2,400.9h0.7v1.2h-0.7ZM228.7,395.8h0.8v0.8h-0.8ZM212.0,398.9h1.0v2.1h-1.0ZM208.5,409.1h1.7v1.7h-1.7ZM204.7,398.1h1.6v0.8h-1.6ZM219.5,396.3h0.6v1.3h-0.6ZM224.2,400.9h1.5v1.0h-1.5ZM209.6,384.4h1.1v1.4h-1.1ZM227.3,397.6h0.9v2.1h-0.9ZM203.5,390.9h0.9v0.7h-0.9ZM220.1,402.8h0.9v2.0h-0.9ZM211.9,405.0h1.2v1.2h-1.2ZM221.6,408.7h1.9v1.5h-1.9ZM216.9,412.0h0.7v1.7h-0.7ZM341.0,149.0h2.2v0.7h-2.2ZM340.6,153.3h0.7v1.8h-0.7ZM359.3,148.0h2.0v0.7h-2.0ZM356.1,146.3h1.2v1.1h-1.2ZM337.7,143.4h0.9v1.0h-0.9ZM317.0,148.6h1.4v1.6h-1.4ZM357.8,142.4h2.0v1.2h-2.0ZM349.2,146.2h0.9v0.7h-0.9ZM355.6,146.0h1.4v1.1h-1.4ZM348.5,150.1h1.3v1.4h-1.3ZM327.8,146.9h2.0v1.5h-2.0ZM341.0,147.3h1.2v1.1h-1.2ZM347.8,146.0h1.4v1.0h-1.4ZM357.2,146.4h1.5v1.1h-1.5ZM347.4,147.5h1.8v1.1h-1.8ZM334.0,151.3h2.1v1.5h-2.1ZM343.6,147.7h0.9v0.9h-0.9ZM351.8,147.4h1.9v1.1h-1.9ZM352.0,143.5h2.1v1.2h-2.1ZM357.3,151.3h1.6v0.8h-1.6ZM240.3,115.2h0.6v2.2h-0.6ZM244.6,141.3h2.1v1.6h-2.1ZM262.2,124.1h2.0v1.8h-2.0ZM244.2,129.6h1.6v1.9h-1.6ZM263.6,136.2h1.3v0.9h-1.3ZM260.8,139.8h1.3v0.7h-1.3ZM250.2,133.1h1.0v0.9h-1.0ZM247.2,132.0h0.6v1.7h-0.6ZM261.9,124.3h0.8v2.1h-0.8ZM260.1,109.2h1.2v1.4h-1.2ZM229.7,110.0h2.1v1.1h-2.1ZM260.6,131.9h1.8v0.7h-1.8ZM252.6,127.3h1.7v1.9h-1.7ZM256.4,128.6h1.4v0.8h-1.4ZM244.0,105.4h2.1v0.6h-2.1ZM334.1,98.5h2.1v1.8h-2.1ZM301.7,78.7h1.6v2.0h-1.6ZM285.9,86.9h1.1v1.3h-1.1ZM290.8,82.8h0.8v1.0h-0.8ZM306.1,87.4h1.3v1.8h-1.3ZM282.1,90.5h1.4v1.5h-1.4ZM307.7,83.5h1.6v1.1h-1.6ZM291.8,92.7h2.2v0.6h-2.2ZM289.8,97.5h0.9v1.3h-0.9ZM300.8,88.2h1.7v2.0h-1.7ZM285.6,77.5h1.1v2.0h-1.1ZM294.3,88.6h1.6v0.9h-1.6ZM177.5,86.2h2.0v1.6h-2.0ZM178.0,93.9h1.0v1.6h-1.0ZM175.4,107.8h1.0v1.7h-1.0ZM178.0,73.8h1.7v0.9h-1.7ZM174.9,117.2h1.6v0.8h-1.6ZM172.9,87.8h1.8v0.7h-1.8ZM177.2,87.8h2.2v2.1h-2.2ZM174.4,113.5h1.2v2.1h-1.2ZM168.4,101.5h2.1v0.7h-2.1ZM162.8,93.7h2.1v2.1h-2.1ZM433.5,108.8h2.0v1.3h-2.0ZM448.5,117.0h2.0v1.4h-2.0ZM439.0,113.6h2.1v1.4h-2.1ZM442.1,119.4h1.0v1.2h-1.0ZM432.8,118.5h1.9v0.7h-1.9ZM432.4,110.4h1.1v1.1h-1.1ZM445.2,118.4h0.8v1.6h-0.8ZM452.0,117.0h1.6v0.9h-1.6ZM436.1,114.1h1.3v1.9h-1.3ZM443.3,107.9h1.7v1.5h-1.7ZM540.0,245.2h0.8v1.8h-0.8ZM504.1,239.7h1.0v1.8h-1.0ZM524.9,236.0h1.1v2.0h-1.1ZM512.2,242.3h1.5v1.8h-1.5ZM543.0,241.3h1.3v0.6h-1.3ZM512.7,235.7h1.2v1.5h-1.2ZM529.9,246.1h1.1v1.7h-1.1ZM518.8,246.9h2.2v1.9h-2.2ZM514.6,234.8h0.8v1.6h-0.8ZM506.6,245.7h0.6v1.5h-0.6ZM529.3,241.9h1.2v1.2h-1.2ZM526.2,242.4h0.8v1.0h-0.8ZM540.3,313.7h2.0v1.2h-2.0ZM544.1,319.8h1.5v0.8h-1.5ZM538.6,315.4h1.2v2.0h-1.2ZM539.8,328.1h0.8v1.7h-0.8ZM532.8,317.9h1.6v1.6h-1.6ZM553.0,307.0h1.6v1.6h-1.6ZM540.2,320.2h0.8v1.5h-0.8ZM545.7,309.3h1.2v1.0h-1.2ZM541.8,318.9h2.1v1.9h-2.1ZM547.3,333.1h1.6v1.3h-1.6ZM555.3,335.6h1.3v1.8h-1.3ZM548.7,325.3h0.8v0.8h-0.8ZM538.6,309.5h1.4v0.6h-1.4ZM545.7,308.8h0.6v1.2h-0.6ZM534.3,316.0h1.3v0.8h-1.3ZM520.8,363.6h2.0v1.3h-2.0ZM522.8,368.9h1.0v1.8h-1.0ZM521.0,373.7h1.2v1.9h-1.2ZM516.4,357.9h1.4v1.4h-1.4ZM517.6,378.0h1.0v1.5h-1.0ZM530.5,364.3h2.1v1.0h-2.1ZM512.5,368.9h2.0v1.0h-2.0ZM515.3,369.6h0.6v2.0h-0.6ZM517.2,375.8h2.0v0.8h-2.0ZM521.2,372.6h1.6v1.0h-1.6ZM530.5,399.1h1.9v1.3h-1.9ZM517.1,366.4h1.7v1.8h-1.7ZM509.4,375.7h1.1v0.7h-1.1ZM520.0,375.0h1.6v1.2h-1.6ZM520.6,359.7h1.5v0.8h-1.5ZM401.4,414.9h1.6v2.2h-1.6ZM411.3,392.8h1.6v1.0h-1.6ZM443.5,429.0h0.8v0.6h-0.8ZM473.3,446.3h1.7v1.3h-1.7ZM410.1,425.5h1.4v1.5h-1.4ZM427.9,421.8h1.0v1.3h-1.0ZM458.9,391.4h0.7v1.9h-0.7ZM422.8,438.3h1.9v1.3h-1.9ZM414.0,395.3h1.1v1.0h-1.1ZM449.7,416.7h1.0v0.7h-1.0ZM393.2,426.9h1.9v0.8h-1.9ZM428.2,412.0h1.5v2.2h-1.5ZM401.9,423.2h1.5v0.7h-1.5ZM446.0,435.7h1.1v1.5h-1.1ZM413.4,442.3h0.7v0.7h-0.7ZM418.2,438.2h1.6v1.7h-1.6ZM426.4,431.6h1.9v2.0h-1.9ZM380.5,417.4h1.6v0.9h-1.6ZM426.4,414.1h0.8v1.8h-0.8ZM444.0,403.5h1.8v1.1h-1.8ZM390.6,437.1h1.2v0.8h-1.2ZM417.5,427.0h1.1v1.0h-1.1ZM414.1,426.2h2.1v0.8h-2.1ZM400.4,448.5h1.5v1.4h-1.5ZM410.4,382.3h1.1v1.5h-1.1ZM456.3,441.0h1.3v0.8h-1.3ZM445.7,441.0h1.8v0.8h-1.8ZM454.9,445.2h1.5v2.0h-1.5ZM456.6,435.5h0.7v0.9h-0.7ZM456.4,443.8h0.8v1.0h-0.8ZM466.2,454.0h2.2v1.6h-2.2ZM461.3,445.7h2.2v2.0h-2.2ZM448.0,440.9h2.1v1.7h-2.1ZM452.2,431.5h1.2v1.3h-1.2ZM449.7,446.5h1.7v0.7h-1.7ZM235.4,218.6h1.5v2.1h-1.5ZM227.1,234.1h0.9v1.1h-0.9ZM225.7,225.6h1.2v1.5h-1.2ZM236.4,212.0h2.2v1.0h-2.2ZM235.3,226.3h1.4v0.7h-1.4ZM228.3,218.9h1.8v2.0h-1.8ZM233.6,235.2h1.5v1.5h-1.5ZM231.6,241.3h1.2v1.8h-1.2ZM227.0,233.1h0.9v0.7h-0.9ZM228.4,227.9h1.3v0.9h-1.3ZM222.1,216.7h1.5v1.4h-1.5ZM234.0,240.7h1.7v1.6h-1.7ZM222.1,226.1h1.3v1.9h-1.3ZM235.7,229.1h1.8v1.3h-1.8ZM233.9,231.5h1.1v1.5h-1.1ZM174.6,176.9h0.8v1.9h-0.8ZM169.4,180.7h1.4v1.7h-1.4ZM166.6,168.1h2.1v1.7h-2.1ZM163.9,159.9h1.9v0.9h-1.9ZM181.8,184.7h1.4v1.4h-1.4ZM172.5,176.0h1.3v0.8h-1.3ZM161.6,174.1h0.9v1.8h-0.9ZM170.0,182.7h1.1v1.8h-1.1ZM171.1,172.1h1.8v1.0h-1.8ZM170.5,185.3h1.8v1.5h-1.8ZM168.8,169.5h1.1v1.7h-1.1ZM169.9,175.2h1.3v1.4h-1.3ZM315.3,445.8L315.2,446.2L319.3,446.9L320.2,446.5L321.4,447.5L322.2,447.6L323.8,449.9L326.5,448.4L328.8,448.6L328.8,448.8L331.1,448.7L331.7,446.5L332.5,447.5L335.7,447.1L336.4,447.1L339.0,446.4L338.3,446.0L342.5,445.4L342.5,444.7L343.4,443.1L346.8,444.0L348.2,442.4L348.3,443.8L348.9,442.6L351.3,441.2L353.7,441.9L354.0,441.7L357.2,439.2L358.7,439.2L358.5,438.5L358.8,439.0L360.4,438.6L364.3,438.7L363.5,436.3L367.0,436.8L368.9,435.8L369.0,435.4L369.0,435.1L371.8,434.2L374.6,434.7L373.7,432.1L374.8,432.0L376.4,431.2L379.4,430.9L379.2,430.0L380.6,428.8L381.8,428.4L382.2,427.2L382.9,425.2L384.5,424.5L385.9,424.3L388.4,423.8L388.2,421.4L389.8,421.2L393.0,422.4L392.6,421.6L396.1,420.4L396.8,418.9L398.5,418.0L399.2,418.7L400.5,418.8L402.3,415.7L404.7,415.6L405.7,415.8L406.6,414.1L408.7,414.7L407.7,410.8L408.5,409.3L409.0,409.4L411.0,406.8L412.2,406.6L413.8,407.0L414.7,405.2L417.4,403.8L418.7,404.8L420.9,405.2L420.9,406.1L421.9,408.1L423.8,409.6L426.1,407.8L427.0,411.4L429.9,411.1L429.6,408.5L431.1,410.1L434.9,408.2L434.1,409.2L436.2,408.7L438.2,410.3L439.2,409.5L439.5,407.4L440.8,404.5L442.6,404.9L441.9,404.3L442.5,400.2L442.0,399.2L445.5,401.0L446.2,400.5L447.0,398.0L449.9,399.9L451.3,399.5L450.6,397.8L450.6,397.6L453.7,394.2L453.9,392.9L454.2,392.9L454.8,391.2L457.5,391.2L458.3,392.3L458.1,392.8L460.3,395.1L459.9,395.7L462.9,396.4L461.5,397.8L461.6,398.6L460.3,399.5L460.1,401.6L459.1,402.0L458.2,403.6L457.5,405.9L454.1,406.2L454.0,406.7L452.8,407.4L453.9,409.0L453.4,412.2L451.4,412.4L452.8,414.2L450.4,415.9L451.6,416.0L451.4,418.0L450.9,421.4L451.4,421.3L451.2,423.3L449.7,425.1L450.9,425.8L453.8,427.6L453.2,426.2L455.8,426.9L456.4,429.5L458.8,430.6L458.6,431.6L457.9,432.9L459.6,433.1L459.1,435.1L458.6,437.4L457.9,437.9L459.7,441.9L458.4,441.3L459.9,443.3L459.0,445.6L462.0,444.2L463.5,443.8L464.5,443.2L465.5,444.3L466.9,443.0L470.7,442.7L469.0,444.2L470.8,445.4L470.4,446.3L469.4,449.9L469.7,450.7L470.9,450.0L471.4,453.4L469.1,454.7L470.8,455.1L468.6,456.4L466.9,458.5L468.2,458.1L465.9,460.8L462.5,460.3L463.2,457.1L463.2,457.8L460.4,456.6L460.0,454.4L458.0,453.2L458.7,453.7L457.2,451.0L455.0,449.3L454.7,450.7L453.7,448.7L451.5,446.8L451.4,444.7L450.9,445.0L448.2,445.1L447.8,445.6L446.0,443.8L445.1,444.9L442.4,444.2L440.4,445.7L439.7,444.2L436.8,443.6L435.0,446.4L435.6,445.8L431.9,445.7L431.1,445.7L431.2,445.6L429.1,444.8L427.7,444.3L425.5,444.0L423.4,443.6L424.0,443.8L421.9,445.0L420.4,444.8L419.0,443.6L417.1,444.7L415.3,444.5L414.4,444.8L413.1,445.8L410.2,443.9L409.6,444.4L407.4,444.1L407.2,446.1L404.5,443.7L402.7,446.1L402.7,446.1L399.7,446.2L398.5,444.4L396.1,444.8L395.5,447.2L392.8,447.2L393.2,448.4L391.3,447.4L390.4,448.7L388.9,448.7L386.2,449.7L385.4,448.9L384.7,448.5L381.1,448.5L380.2,447.0L379.4,448.5L377.4,446.6L375.6,446.2L375.6,444.3L374.3,444.9L373.0,447.1L371.7,446.7L369.2,445.8L368.0,445.8L367.5,448.7L365.4,446.7L363.6,448.7L360.9,447.8L358.9,448.4L359.0,448.8L356.5,451.2L356.3,450.9L354.1,451.3L353.3,452.6L351.9,450.9L350.5,451.9L349.1,455.1L349.0,456.6L348.6,457.1L346.3,459.6L346.7,459.6L346.6,461.7L345.2,462.6L343.3,463.1L343.4,462.0L341.5,463.0L338.6,464.4L336.1,463.1L335.8,464.8L334.9,463.9L331.7,462.7L331.4,463.1L330.7,463.4L328.9,464.4L325.1,466.2L326.5,465.1L325.5,463.8L325.1,461.9L326.4,459.7L325.2,458.1L324.3,456.5L323.9,454.2L323.5,456.0L322.2,454.2L318.9,454.9L319.3,454.1L317.3,454.3L313.9,453.0L316.2,450.2L315.4,450.8L316.5,448.5ZM492.7,382.9L494.2,380.9L494.6,380.5L495.9,380.4L497.0,379.4L497.8,376.8L500.4,377.4L502.4,374.4L503.0,375.1L502.8,374.0L505.9,373.4L505.7,373.0L507.9,374.0L510.3,371.5L512.3,374.2L511.9,374.9L513.0,375.1L515.8,372.7L517.9,373.8L517.2,373.7L518.8,374.9L520.0,377.8L521.0,376.8L520.5,380.1L521.5,382.4L524.1,382.7L524.2,383.3L524.7,384.9L521.9,387.2L523.6,389.9L521.6,389.2L520.3,388.6L519.2,388.7L516.7,390.2L517.1,389.5L513.6,390.2L513.0,388.8L510.8,389.4L509.0,387.2L507.6,387.5L506.5,388.4L507.6,390.2L507.6,393.0L507.0,394.5L504.2,396.4L503.6,396.7L504.3,396.6L502.7,396.0L500.6,395.2L497.5,395.4L496.7,393.6L496.5,392.7L495.7,392.0L492.9,392.4L492.1,389.7L492.5,388.4L491.0,386.0L492.0,385.5L492.7,383.3ZM371.4,380.1L371.8,380.3L372.4,379.4L374.7,381.3L377.5,381.2L379.7,380.9L380.5,381.1L380.7,381.9L384.4,384.0L384.7,385.1L387.4,384.1L388.6,384.4L389.6,386.5L390.1,386.5L392.7,385.3L394.3,386.1L394.4,386.7L394.4,390.3L394.8,391.6L393.9,391.2L393.5,393.4L396.4,395.1L394.1,393.7L390.6,393.5L391.7,394.7L390.0,394.6L386.5,392.5L386.0,392.0L384.0,392.9L381.8,393.9L379.7,393.1L378.3,392.5L377.9,389.3L377.2,390.3L375.0,388.9L374.4,387.5L371.9,388.1L371.9,387.0L371.3,385.2L371.1,382.2L370.1,381.7ZM329.6,380.4L331.6,380.3L335.3,377.9L335.5,378.2L336.7,379.2L339.5,377.4L340.1,378.6L340.8,378.6L340.7,381.5L342.8,384.2L342.5,384.3L341.8,384.9L338.5,385.5L337.8,388.1L336.6,389.0L334.9,387.5L331.9,387.4L332.5,385.7L332.5,384.7L332.1,382.8L331.9,381.1ZM528.9,327.3L531.9,326.1L530.9,325.5L531.9,324.0L532.5,323.3L532.8,320.6L536.3,318.8L535.5,317.8L536.3,317.7L538.9,317.6L537.8,315.8L539.0,312.6L539.3,312.0L540.9,313.1L543.4,309.4L544.0,309.1L544.3,309.9L545.0,308.5L548.7,305.4L548.1,306.8L548.6,304.6L550.7,306.9L553.9,307.3L553.8,306.1L557.2,307.2L556.6,307.5L557.5,309.8L554.5,309.8L554.4,311.1L552.0,313.7L552.7,315.1L552.3,314.3L548.3,315.2L548.6,317.6L546.0,318.1L544.0,317.5L543.3,318.2L541.8,319.4L541.1,322.2L541.0,323.1L538.1,324.2L537.7,325.7L537.3,326.1L536.1,325.2L534.1,326.8L532.9,329.7L532.2,328.9L532.1,328.1ZM538.0,240.2L540.8,238.5L540.8,239.2L543.6,236.7L544.8,237.4L546.6,237.0L548.2,237.9L549.1,238.6L547.8,241.3L548.6,240.3L549.1,242.8L552.2,243.6L551.8,246.7L549.0,247.2L549.5,249.3L549.2,249.1L548.6,251.0L546.4,251.7L543.6,251.6L543.4,250.0L542.4,249.3L541.3,248.7L540.8,248.5L538.6,246.0L540.9,245.5L539.6,244.0L538.1,241.8ZM196.8,268.1L197.7,269.0L199.4,269.2L201.5,269.3L204.3,267.6L206.5,267.9L208.0,268.2L209.5,270.0L210.3,270.5L211.9,271.2L212.3,271.7L210.8,274.8L212.3,277.0L213.3,276.8L212.5,278.7L212.7,281.6L215.1,282.1L212.5,281.1L211.8,283.3L208.3,284.7L207.7,283.1L206.0,284.1L203.5,283.3L203.9,284.0L201.6,281.7L202.1,280.1L201.5,280.0L199.6,277.6L198.1,277.2L196.8,276.3L198.6,273.5L197.9,273.0L197.6,270.5L197.4,268.3ZM170.4,325.4L172.1,325.8L172.8,324.1L174.2,325.6L175.1,324.5L176.6,325.5L179.7,325.5L181.7,324.9L183.1,322.6L182.1,324.7L182.4,326.5L183.7,329.3L183.7,329.3L186.0,329.8L184.0,331.2L186.8,334.8L184.9,333.7L183.9,334.1L182.6,337.2L181.2,335.2L178.2,336.2L178.7,338.2L175.7,337.4L173.1,337.9L172.1,336.8L171.3,335.8L171.0,333.5L167.0,334.3L166.9,333.6L167.6,332.3L169.9,330.2L168.6,326.4ZM225.1,363.4L227.1,362.7L228.3,361.3L231.6,362.5L233.2,360.8L232.5,360.9L233.8,359.2L235.7,360.6L238.6,359.9L238.9,361.2L240.4,362.8L239.9,363.5L240.0,366.5L240.9,366.5L240.5,369.9L241.8,369.5L240.6,371.2L239.1,370.4L237.3,370.5L236.5,372.5L235.9,372.1L232.4,374.6L232.8,373.1L230.5,372.0L229.4,372.3L226.0,373.0L226.1,372.2L223.4,371.3L224.8,367.7L225.0,367.2L223.9,366.1L225.3,365.0ZM191.7,414.5L193.6,417.5L195.1,417.4L198.3,417.0L198.0,418.3L201.9,417.4L202.1,416.9L202.8,420.0L201.2,422.1L203.3,421.8L201.9,423.2L205.0,427.2L205.0,428.0L201.4,427.1L200.7,429.7L198.9,428.2L197.4,429.7L197.3,429.1L194.8,428.0L194.8,426.1L193.7,426.5L192.0,424.2L193.5,421.1L191.0,420.3L192.8,419.4L191.6,416.3ZM514.2,347.1L514.9,346.9L517.6,348.1L519.1,347.4L520.1,345.8L523.1,346.5L523.0,344.4L523.2,345.8L524.9,347.2L525.4,350.9L526.4,352.0L525.4,352.5L526.0,354.4L525.1,356.3L524.8,356.7L523.1,359.2L523.9,358.6L521.8,359.7L519.1,360.2L517.0,359.9L516.0,360.0L515.6,359.0L515.8,356.6L516.5,356.2L513.9,354.6L514.7,353.9L514.5,349.8L515.2,350.2Z" fill="#000"/>
<path d="M355,245 l6,6 M361,245 l-6,6" stroke="#d01020" stroke-width="1.2"/>
<g style="font-family:'Liberation Serif',serif;font-style:italic;font-size:5.5px;fill:#666">
<text x="370" y="116">Töpferwald</text>
<text x="249" y="131">Clausnitz</text>
<text x="280" y="148">Reichenberg</text>
<text x="280" y="156">Bienenmühle</text>
<text x="427" y="151">Neuhermsdorf</text>
<text x="498" y="150">Rehefeld – Zaunhaus</text>
<text x="208" y="179">Cämmerswalde</text>
<text x="245" y="187">Deutschgeorgenthal</text>
<text x="187" y="217">Altes Gehau</text>
<text x="240" y="222">Neuwernsdorf</text>
<text x="318" y="212">Český Jiřetín</text>
<text x="218" y="277">Neuhausen</text>
<text x="344" y="313">Flájská obora</text>
<text x="448" y="357">Dlouhá Louka</text>
<text x="470" y="364">Hrad Osek</text>
<text x="510" y="343">Domaslavice</text>
<text x="510" y="369">Háj u Duchcova</text>
<text x="508" y="322">Křižanov</text>
<text x="512" y="291">Hrob</text>
<text x="515" y="248">Mikulov</text>
<text x="320" y="359">Klíny</text>
<text x="383" y="372">Meziboří</text>
<text x="355" y="407">Šumná</text>
<text x="381" y="410">Litvínov</text>
<text x="455" y="412">Loučná</text>
<text x="480" y="400">Osek</text>
<text x="248" y="351">Deutscheinsiedel</text>
<text x="248" y="371">Brandov</text>
<text x="246" y="405">Brüderwiese</text>
<text x="208" y="441">Nová Ves</text>
<text x="208" y="448">v Horách</text>
<text x="210" y="457">Mikulovice</text>
<text x="348" y="422">Hamr</text>
<text x="303" y="467">Janov</text>
<text x="407" y="458">Louka u Litvínova</text>
<text x="477" y="439">bývalá Hrdlovka</text>
<text x="487" y="446">Nový Dvůr</text>
<text x="448" y="180">Moldava</text>
<text x="362" y="262">Vodní nádrž Fláje</text>
</g>
<defs><clipPath id="siteclip"><rect x="100" y="821" width="540" height="327"/></clipPath></defs><g clip-path="url(#siteclip)">
<g fill="none" stroke="#efefef" stroke-width="0.7">
<circle cx="140" cy="845" r="20"/><circle cx="144" cy="848" r="12.0"/>
<circle cx="175" cy="850" r="14"/><circle cx="179" cy="853" r="8.4"/>
<circle cx="250" cy="840" r="18"/><circle cx="254" cy="843" r="10.8"/>
<circle cx="330" cy="850" r="22"/><circle cx="334" cy="853" r="13.2"/>
<circle cx="420" cy="845" r="18"/><circle cx="424" cy="848" r="10.8"/>
<circle cx="480" cy="840" r="14"/><circle cx="484" cy="843" r="8.4"/>
<circle cx="560" cy="850" r="16"/><circle cx="564" cy="853" r="9.6"/>
<circle cx="130" cy="1100" r="25"/><circle cx="134" cy="1103" r="15.0"/>
<circle cx="180" cy="1120" r="30"/><circle cx="184" cy="1123" r="18.0"/>
<circle cx="240" cy="1110" r="20"/><circle cx="244" cy="1113" r="12.0"/>
<circle cx="300" cy="1130" r="24"/><circle cx="304" cy="1133" r="14.4"/>
<circle cx="380" cy="1120" r="20"/><circle cx="384" cy="1123" r="12.0"/>
<circle cx="150" cy="1070" r="18"/><circle cx="154" cy="1073" r="10.8"/>
</g>
<g fill="none" stroke="#c9c9c9" stroke-width="0.6" stroke-dasharray="1,1.5">
<path d="M111,940 C140,980 170,1040 200,1100 S230,1150 240,1150"/>
<path d="M111,990 C140,1030 150,1080 170,1148"/>
<path d="M111,1040 C125,1080 130,1120 135,1148"/>
<path d="M200,965 C210,1000 230,1040 260,1060 C280,1070 270,1120 262,1148"/>
<path d="M175,955 C190,1000 200,1030 210,1060 C215,1090 200,1110 195,1148"/>
<path d="M320,985 C330,1040 335,1100 330,1148"/>
<path d="M338,985 C345,1040 352,1100 350,1148"/>
<path d="M360,985 C365,1040 372,1090 375,1148"/>
<path d="M385,985 C390,1040 400,1090 410,1148"/>
<path d="M410,990 C415,1040 430,1090 440,1148"/>
<path d="M440,990 C445,1030 460,1080 480,1148"/>
<path d="M465,990 C470,1020 490,1070 520,1148"/>
<path d="M490,985 C500,1010 520,1050 560,1110 S590,1148 600,1148"/>
<path d="M440,900 C430,930 440,960 480,985 C520,1000 560,990 600,1000"/>
<path d="M570,870 C560,900 570,940 600,960"/>
<path d="M595,830 C590,860 600,900 626,920"/>
<path d="M150,880 C180,900 215,930 240,960"/>
<path d="M140,890 C170,910 200,940 225,965"/>
<path d="M130,900 C160,920 190,950 215,970"/>
</g>
<g stroke="#c4c0e0" stroke-width="0.9">
<path d="M107.5,856.8h7M111.0,853.3v7"/>
<path d="M107.5,908.4h7M111.0,904.9v7"/>
<path d="M107.5,960.0h7M111.0,956.5v7"/>
<path d="M107.5,1011.6h7M111.0,1008.1v7"/>
<path d="M107.5,1063.2h7M111.0,1059.7v7"/>
<path d="M107.5,1114.8h7M111.0,1111.3v7"/>
<path d="M159.1,856.8h7M162.6,853.3v7"/>
<path d="M159.1,908.4h7M162.6,904.9v7"/>
<path d="M159.1,960.0h7M162.6,956.5v7"/>
<path d="M159.1,1011.6h7M162.6,1008.1v7"/>
<path d="M159.1,1063.2h7M162.6,1059.7v7"/>
<path d="M159.1,1114.8h7M162.6,1111.3v7"/>
<path d="M210.7,856.8h7M214.2,853.3v7"/>
<path d="M210.7,908.4h7M214.2,904.9v7"/>
<path d="M210.7,960.0h7M214.2,956.5v7"/>
<path d="M210.7,1011.6h7M214.2,1008.1v7"/>
<path d="M210.7,1063.2h7M214.2,1059.7v7"/>
<path d="M210.7,1114.8h7M214.2,1111.3v7"/>
<path d="M262.3,856.8h7M265.8,853.3v7"/>
<path d="M262.3,908.4h7M265.8,904.9v7"/>
<path d="M262.3,960.0h7M265.8,956.5v7"/>
<path d="M262.3,1011.6h7M265.8,1008.1v7"/>
<path d="M262.3,1063.2h7M265.8,1059.7v7"/>
<path d="M262.3,1114.8h7M265.8,1111.3v7"/>
<path d="M313.9,856.8h7M317.4,853.3v7"/>
<path d="M313.9,908.4h7M317.4,904.9v7"/>
<path d="M313.9,960.0h7M317.4,956.5v7"/>
<path d="M313.9,1011.6h7M317.4,1008.1v7"/>
<path d="M313.9,1063.2h7M317.4,1059.7v7"/>
<path d="M313.9,1114.8h7M317.4,1111.3v7"/>
<path d="M365.5,856.8h7M369.0,853.3v7"/>
<path d="M365.5,908.4h7M369.0,904.9v7"/>
<path d="M365.5,960.0h7M369.0,956.5v7"/>
<path d="M365.5,1011.6h7M369.0,1008.1v7"/>
<path d="M365.5,1063.2h7M369.0,1059.7v7"/>
<path d="M365.5,1114.8h7M369.0,1111.3v7"/>
<path d="M417.1,856.8h7M420.6,853.3v7"/>
<path d="M417.1,908.4h7M420.6,904.9v7"/>
<path d="M417.1,960.0h7M420.6,956.5v7"/>
<path d="M417.1,1011.6h7M420.6,1008.1v7"/>
<path d="M417.1,1063.2h7M420.6,1059.7v7"/>
<path d="M417.1,1114.8h7M420.6,1111.3v7"/>
<path d="M468.7,856.8h7M472.2,853.3v7"/>
<path d="M468.7,908.4h7M472.2,904.9v7"/>
<path d="M468.7,960.0h7M472.2,956.5v7"/>
<path d="M468.7,1011.6h7M472.2,1008.1v7"/>
<path d="M468.7,1063.2h7M472.2,1059.7v7"/>
<path d="M468.7,1114.8h7M472.2,1111.3v7"/>
<path d="M520.3,856.8h7M523.8,853.3v7"/>
<path d="M520.3,908.4h7M523.8,904.9v7"/>
<path d="M520.3,960.0h7M523.8,956.5v7"/>
<path d="M520.3,1011.6h7M523.8,1008.1v7"/>
<path d="M520.3,1063.2h7M523.8,1059.7v7"/>
<path d="M520.3,1114.8h7M523.8,1111.3v7"/>
<path d="M571.9,856.8h7M575.4,853.3v7"/>
<path d="M571.9,908.4h7M575.4,904.9v7"/>
<path d="M571.9,960.0h7M575.4,956.5v7"/>
<path d="M571.9,1011.6h7M575.4,1008.1v7"/>
<path d="M571.9,1063.2h7M575.4,1059.7v7"/>
<path d="M571.9,1114.8h7M575.4,1111.3v7"/>
<path d="M623.5,856.8h7M627.0,853.3v7"/>
<path d="M623.5,908.4h7M627.0,904.9v7"/>
<path d="M623.5,960.0h7M627.0,956.5v7"/>
<path d="M623.5,1011.6h7M627.0,1008.1v7"/>
<path d="M623.5,1063.2h7M627.0,1059.7v7"/>
<path d="M623.5,1114.8h7M627.0,1111.3v7"/>
</g>
<path d="M111,850.5 C118,858 122,864 127.5,864.5 L160,867 C175,872 200,895 212,913.7 C220,925 224,935 221,953.6 C225,958 228,957 232,956 C245,950 255,955 268,954.8 C280,956 295,962 305.6,967.6" fill="none" stroke="#333" stroke-width="0.9"/>
<path d="M497.5,959.4 C498,955 498,952 499,950 C503,945 508,941 510.6,937 C508,930 507,920 507,912 C507,905 507.5,901 508.75,899 C512,893 516,886 520,882.5 C525,876 529,872 531,869.4 C532,860 533,853 535,850.6 C538,849 542,849 544,847 C544,838 544,830 544,822.5" fill="none" stroke="#333" stroke-width="0.9"/>
<path d="M290,990 C288,1030 284,1070 286,1090 L298,1090 C300,1060 306,1030 303,990Z" fill="#eeeeee"/>
<g fill="none" stroke-linecap="round">
<path d="M111,896 C140,900 165,903 179,918.4 C188,930 200,950 212,960.6 C230,968 270,971 301,972.3 C312,970 318,965 334,962 L501,961.8" stroke="#555" stroke-width="4.2"/>
<path d="M516,961 C518,950 519,942 520,937 C524,920 527,908 531,899 C538,885 544,878 550,871 C558,860 564,850 567,843 C570,835 571,828 571.6,822" stroke="#555" stroke-width="4.2"/>
<path d="M516,961 C514,980 514,995 514.4,1002.5 C516,1010 518,1015 520,1017.5 C528,1024 535,1028 540.6,1030.6 C552,1036 560,1040 568.75,1045.6 C578,1052 583,1058 587.5,1064.4 C592,1072 596,1080 598.75,1087 C603,1097 606,1106 610,1115 C616,1128 622,1140 627,1148.75" stroke="#555" stroke-width="4.2"/>
<path d="M520,1015.6 C535,1020 545,1021 550,1021 C556,1021 560,1019 565,1017.5 C572,1014 577,1010 580,1010 L587.5,1010 C595,1012 600,1017 606,1021 C614,1026 620,1030 627,1034" stroke="#555" stroke-width="4.2"/>
<path d="M296,979 C290,1000 287,1030 285,1054 C283,1080 282,1110 284.5,1148" stroke="#555" stroke-width="4.2"/>
<path d="M303,984 C305,1000 305.6,1020 304,1040 C300,1070 296,1090 298,1110 L305.6,1148" stroke="#555" stroke-width="4.2"/>
<path d="M212,962 C230,975 260,978 280,978 C295,980 300,990 296,1000" stroke="#555" stroke-width="4.2"/>
<path d="M111,896 C140,900 165,903 179,918.4 C188,930 200,950 212,960.6 C230,968 270,971 301,972.3 C312,970 318,965 334,962 L501,961.8" stroke="#f2f2f2" stroke-width="2.6"/>
<path d="M516,961 C518,950 519,942 520,937 C524,920 527,908 531,899 C538,885 544,878 550,871 C558,860 564,850 567,843 C570,835 571,828 571.6,822" stroke="#f2f2f2" stroke-width="2.6"/>
<path d="M516,961 C514,980 514,995 514.4,1002.5 C516,1010 518,1015 520,1017.5 C528,1024 535,1028 540.6,1030.6 C552,1036 560,1040 568.75,1045.6 C578,1052 583,1058 587.5,1064.4 C592,1072 596,1080 598.75,1087 C603,1097 606,1106 610,1115 C616,1128 622,1140 627,1148.75" stroke="#f2f2f2" stroke-width="2.6"/>
<path d="M520,1015.6 C535,1020 545,1021 550,1021 C556,1021 560,1019 565,1017.5 C572,1014 577,1010 580,1010 L587.5,1010 C595,1012 600,1017 606,1021 C614,1026 620,1030 627,1034" stroke="#f2f2f2" stroke-width="2.6"/>
<path d="M296,979 C290,1000 287,1030 285,1054 C283,1080 282,1110 284.5,1148" stroke="#f2f2f2" stroke-width="2.6"/>
<path d="M303,984 C305,1000 305.6,1020 304,1040 C300,1070 296,1090 298,1110 L305.6,1148" stroke="#f2f2f2" stroke-width="2.6"/>
<path d="M212,962 C230,975 260,978 280,978 C295,980 300,990 296,1000" stroke="#f2f2f2" stroke-width="2.6"/>
</g>
<path d="M285,970 L310,968 L300,990 Z M505,958 L525,958 L517,975Z" fill="#eee"/>
<g fill="none" stroke="#ddd" stroke-width="0.6">
<path d="M330,968 L500,968 M400,968 V990 M420,968 V990 M400,990 H420 M408,990 V1090 M425,990 V1060"/>
<path d="M330,955 C360,950 420,942 500,958 M395,945 C400,930 395,915 405,905"/>
</g>
<g fill="#000">
<polygon points="247,971 270,973 269,983 246,981"/>
<rect x="242" y="970" width="3" height="3"/>
<polygon points="282,1026 289,1029 283,1053 276,1050"/>
<rect x="286" y="1026" width="5" height="7"/>
<rect x="297" y="1048" width="3" height="3"/>
<rect x="276" y="1078" width="4" height="4"/>
<polygon points="281,1133 289,1131 292,1148 284,1148"/>
<rect x="342" y="990" width="4" height="4"/>
</g>
<g fill="#d00">
<path d="M-3,-2 L3,-2 L0,3Z" transform="translate(290,975) rotate(0)"/>
<path d="M-3,-2 L3,-2 L0,3Z" transform="translate(349,976.7) rotate(180)"/>
<path d="M-3,-2 L3,-2 L0,3Z" transform="translate(415.3,959.5) rotate(0)"/>
<path d="M-3,-2 L3,-2 L0,3Z" transform="translate(415.3,981.3) rotate(180)"/>
<path d="M-3,-2 L3,-2 L0,3Z" transform="translate(506.8,961.8) rotate(90)"/>
</g>
<g>
<path d="M0,-22 C4,-20 5,-14 5,-10 C15,-10 28,-2 32,18 C24,6 14,0 5,2 L3,22 L0,18 L-3,22 L-5,2 C-14,0 -24,6 -32,18 C-28,-2 -15,-10 -5,-10 C-5,-14 -4,-20 0,-22 Z" transform="translate(520,840) rotate(-12) scale(0.8,0.85)" fill="#b3b3b3"/>
<path d="M0,-22 C4,-20 5,-14 5,-10 C15,-10 28,-2 32,18 C24,6 14,0 5,2 L3,22 L0,18 L-3,22 L-5,2 C-14,0 -24,6 -32,18 C-28,-2 -15,-10 -5,-10 C-5,-14 -4,-20 0,-22 Z" transform="translate(582,849) rotate(-6) scale(0.63,0.95)" fill="#b3b3b3"/>
<path d="M0,-22 C4,-20 5,-14 5,-10 C15,-10 28,-2 32,18 C24,6 14,0 5,2 L3,22 L0,18 L-3,22 L-5,2 C-14,0 -24,6 -32,18 C-28,-2 -15,-10 -5,-10 C-5,-14 -4,-20 0,-22 Z" transform="translate(504.5,924) rotate(-1.5) scale(0.875,0.85)" fill="#b3b3b3"/>
<path d="M0,-22 C4,-20 5,-14 5,-10 C15,-10 28,-2 32,18 C24,6 14,0 5,2 L3,22 L0,18 L-3,22 L-5,2 C-14,0 -24,6 -32,18 C-28,-2 -15,-10 -5,-10 C-5,-14 -4,-20 0,-22 Z" transform="translate(625,941.5) rotate(-26) scale(0.7,0.8)" fill="#b3b3b3"/>
<path d="M0,-22 C4,-20 5,-14 5,-10 C15,-10 28,-2 32,18 C24,6 14,0 5,2 L3,22 L0,18 L-3,22 L-5,2 C-14,0 -24,6 -32,18 C-28,-2 -15,-10 -5,-10 C-5,-14 -4,-20 0,-22 Z" transform="translate(443,996.5) rotate(-21) scale(0.8,0.66)" fill="#b3b3b3"/>
<path d="M0,-22 C4,-20 5,-14 5,-10 C15,-10 28,-2 32,18 C24,6 14,0 5,2 L3,22 L0,18 L-3,22 L-5,2 C-14,0 -24,6 -32,18 C-28,-2 -15,-10 -5,-10 C-5,-14 -4,-20 0,-22 Z" transform="translate(578,996) rotate(0) scale(0.56,0.5)" fill="#b3b3b3"/>
<path d="M0,-22 C4,-20 5,-14 5,-10 C15,-10 28,-2 32,18 C24,6 14,0 5,2 L3,22 L0,18 L-3,22 L-5,2 C-14,0 -24,6 -32,18 C-28,-2 -15,-10 -5,-10 C-5,-14 -4,-20 0,-22 Z" transform="translate(530,1034) rotate(-24) scale(0.95,0.85)" fill="#b3b3b3"/>
<path d="M0,-22 C4,-20 5,-14 5,-10 C15,-10 28,-2 32,18 C24,6 14,0 5,2 L3,22 L0,18 L-3,22 L-5,2 C-14,0 -24,6 -32,18 C-28,-2 -15,-10 -5,-10 C-5,-14 -4,-20 0,-22 Z" transform="translate(617.5,1063) rotate(-25) scale(0.8,0.95)" fill="#b3b3b3"/>
<path d="M0,-22 C4,-20 5,-14 5,-10 C15,-10 28,-2 32,18 C24,6 14,0 5,2 L3,22 L0,18 L-3,22 L-5,2 C-14,0 -24,6 -32,18 C-28,-2 -15,-10 -5,-10 C-5,-14 -4,-20 0,-22 Z" transform="translate(576,1087) rotate(-22) scale(1.1,1.0)" fill="#b3b3b3"/>
<path d="M0,-22 C4,-20 5,-14 5,-10 C15,-10 28,-2 32,18 C24,6 14,0 5,2 L3,22 L0,18 L-3,22 L-5,2 C-14,0 -24,6 -32,18 C-28,-2 -15,-10 -5,-10 C-5,-14 -4,-20 0,-22 Z" transform="translate(492,1138) rotate(28) scale(0.6,0.6)" fill="#b3b3b3"/>
</g>
<g style="font-family:'Liberation Sans',sans-serif;font-size:3.5px;fill:#888"><text x="130" y="895">+ Hrob</text><text x="400" y="894" fill="#ccc">Vodní nádrž Fláje</text></g>
</g>
<defs><pattern id="hatch" width="5" height="5" patternUnits="userSpaceOnUse" patternTransform="rotate(-45)"><rect width="5" height="5" fill="#fbfbfb"/><path d="M0,0.5H5" stroke="#ececec" stroke-width="0.6"/></pattern></defs>
<polygon points="98.5,1217.0 110.6,1221.0 201.4,1221.0 247.4,1232.4 308.0,1257.8 366.5,1275.4 412.5,1275.4 478.0,1311.2 548.0,1332.2 588.0,1339.0 683.8,1339.0 725.0,1328.4 766.2,1327.5 815.0,1306.9 841.2,1299.0 924.3,1267.5 963.7,1256.5 1033.7,1232.5 1090.6,1220.7 1171.5,1220.7 1181.6,1217.2 1181.6,1346.0 98.5,1346.0" fill="url(#hatch)"/>
<rect x="98.5" y="1214.3" width="1083" height="3.4" fill="#f0f0f0" stroke="#aaa" stroke-width="0.5"/>
<path d="M98.5,1219.2H1181.6" stroke="#ddd" stroke-width="0.6"/>
<path d="M120,1214 L155,1205 L170,1209 M160,1214 L200,1207 M1100,1213 L1130,1206 L1150,1211 L1181,1200" stroke="#999" stroke-width="0.6" fill="none"/>
<g fill="#666">
<rect x="225.0" y="1218.5" width="1.2" height="1.2"/>
<rect x="255.6" y="1218.5" width="1.2" height="1.2"/>
<rect x="286.2" y="1218.5" width="1.2" height="1.2"/>
<rect x="316.8" y="1218.5" width="1.2" height="1.2"/>
<rect x="347.4" y="1218.5" width="1.2" height="1.2"/>
<rect x="378.0" y="1218.5" width="1.2" height="1.2"/>
<rect x="408.6" y="1218.5" width="1.2" height="1.2"/>
<rect x="439.2" y="1218.5" width="1.2" height="1.2"/>
<rect x="469.8" y="1218.5" width="1.2" height="1.2"/>
<rect x="500.4" y="1218.5" width="1.2" height="1.2"/>
<rect x="531.0" y="1218.5" width="1.2" height="1.2"/>
<rect x="561.6" y="1218.5" width="1.2" height="1.2"/>
<rect x="775.8" y="1218.5" width="1.2" height="1.2"/>
<rect x="806.4" y="1218.5" width="1.2" height="1.2"/>
<rect x="837.0" y="1218.5" width="1.2" height="1.2"/>
<rect x="867.6" y="1218.5" width="1.2" height="1.2"/>
<rect x="898.2" y="1218.5" width="1.2" height="1.2"/>
<rect x="928.8" y="1218.5" width="1.2" height="1.2"/>
<rect x="959.4" y="1218.5" width="1.2" height="1.2"/>
<rect x="990.0" y="1218.5" width="1.2" height="1.2"/>
<rect x="1020.6" y="1218.5" width="1.2" height="1.2"/>
<rect x="1051.2" y="1218.5" width="1.2" height="1.2"/>
<rect x="1081.8" y="1218.5" width="1.2" height="1.2"/>
<rect x="1112.4" y="1218.5" width="1.2" height="1.2"/>
<rect x="1143.0" y="1218.5" width="1.2" height="1.2"/>
</g>
<g stroke="#bbb" stroke-width="0.6" stroke-dasharray="2,2">
<path d="M230,1220V1228"/>
<path d="M245,1220V1232"/>
<path d="M260,1220V1238"/>
<path d="M275,1220V1244"/>
<path d="M290,1220V1250"/>
<path d="M305,1220V1256"/>
<path d="M325,1220V1262"/>
<path d="M345,1220V1268"/>
<path d="M370,1220V1274"/>
<path d="M400,1220V1274"/>
<path d="M430,1220V1285"/>
<path d="M460,1220V1300"/>
<path d="M490,1220V1312"/>
<path d="M520,1220V1322"/>
<path d="M550,1220V1332"/>
<path d="M775,1220V1320"/>
<path d="M806,1220V1310"/>
<path d="M836,1220V1298"/>
<path d="M866,1220V1290"/>
<path d="M896,1220V1278"/>
<path d="M926,1220V1266"/>
<path d="M956,1220V1258"/>
<path d="M986,1220V1248"/>
<path d="M1016,1220V1238"/>
</g>
<path d="M201.4,1221 L588,1337 M683.75,1330 L1090.6,1221" stroke="#aaa" stroke-width="0.5" fill="none"/>
<g>
<polygon points="179.7,1223.7 180.9,1227.8 180.4,1226.6 182.1,1231.9 181.0,1230.7 183.3,1235.9 181.7,1234.7 184.5,1240.0 182.3,1238.8 185.7,1244.1 185.7,1244.1 173.7,1244.1 173.7,1244.1 177.1,1238.8 174.9,1240.0 177.7,1234.7 176.1,1235.9 178.4,1230.7 177.3,1231.9 179.0,1226.6 178.5,1227.8" fill="#cfcfcf"/><path d="M179.7,1244.1000000000001v4.8" stroke="#cfcfcf" stroke-width="0.8"/>
<polygon points="205.5,1210.6 206.7,1214.7 206.2,1213.5 207.9,1218.8 206.8,1217.6 209.1,1222.8 207.5,1221.6 210.3,1226.9 208.1,1225.7 211.5,1231.0 211.5,1231.0 199.5,1231.0 199.5,1231.0 202.9,1225.7 200.7,1226.9 203.5,1221.6 201.9,1222.8 204.2,1217.6 203.1,1218.8 204.8,1213.5 204.3,1214.7" fill="#cfcfcf"/><path d="M205.5,1231.0v4.8" stroke="#cfcfcf" stroke-width="0.8"/>
<polygon points="259.4,1221.6 260.6,1225.7 260.1,1224.5 261.8,1229.8 260.7,1228.6 263.0,1233.8 261.4,1232.6 264.2,1237.9 262.0,1236.7 265.4,1242.0 265.4,1242.0 253.4,1242.0 253.4,1242.0 256.8,1236.7 254.6,1237.9 257.4,1232.6 255.8,1233.8 258.1,1228.6 257.0,1229.8 258.7,1224.5 258.2,1225.7" fill="#cfcfcf"/><path d="M259.4,1242.0v4.8" stroke="#cfcfcf" stroke-width="0.8"/>
<polygon points="297.4,1245.6 298.6,1249.7 298.1,1248.5 299.8,1253.8 298.7,1252.6 301.0,1257.8 299.4,1256.6 302.2,1261.9 300.0,1260.7 303.4,1266.0 303.4,1266.0 291.4,1266.0 291.4,1266.0 294.8,1260.7 292.6,1261.9 295.4,1256.6 293.8,1257.8 296.1,1252.6 295.0,1253.8 296.7,1248.5 296.2,1249.7" fill="#cfcfcf"/><path d="M297.4,1266.0v4.8" stroke="#cfcfcf" stroke-width="0.8"/>
<polygon points="316.2,1256.6 317.4,1260.7 316.9,1259.5 318.6,1264.8 317.5,1263.6 319.8,1268.8 318.2,1267.6 321.0,1272.9 318.8,1271.7 322.2,1277.0 322.2,1277.0 310.2,1277.0 310.2,1277.0 313.6,1271.7 311.4,1272.9 314.2,1267.6 312.6,1268.8 314.9,1263.6 313.8,1264.8 315.5,1259.5 315.0,1260.7" fill="#cfcfcf"/><path d="M316.2,1277.0v4.8" stroke="#cfcfcf" stroke-width="0.8"/>
<polygon points="357.8,1252.2 359.0,1256.3 358.5,1255.1 360.2,1260.4 359.1,1259.2 361.4,1264.4 359.8,1263.2 362.6,1268.5 360.4,1267.3 363.8,1272.6 363.8,1272.6 351.8,1272.6 351.8,1272.6 355.2,1267.3 353.0,1268.5 355.8,1263.2 354.2,1264.4 356.5,1259.2 355.4,1260.4 357.1,1255.1 356.6,1256.3" fill="#cfcfcf"/><path d="M357.8,1272.6000000000001v4.8" stroke="#cfcfcf" stroke-width="0.8"/>
<polygon points="376.6,1256.6 377.8,1260.7 377.3,1259.5 379.0,1264.8 377.9,1263.6 380.2,1268.8 378.6,1267.6 381.4,1272.9 379.2,1271.7 382.6,1277.0 382.6,1277.0 370.6,1277.0 370.6,1277.0 374.0,1271.7 371.8,1272.9 374.6,1267.6 373.0,1268.8 375.3,1263.6 374.2,1264.8 375.9,1259.5 375.4,1260.7" fill="#cfcfcf"/><path d="M376.6,1277.0v4.8" stroke="#cfcfcf" stroke-width="0.8"/>
<polygon points="447.5,1269.7 448.7,1273.8 448.2,1272.6 449.9,1277.9 448.8,1276.7 451.1,1281.9 449.5,1280.7 452.3,1286.0 450.1,1284.8 453.5,1290.1 453.5,1290.1 441.5,1290.1 441.5,1290.1 444.9,1284.8 442.7,1286.0 445.5,1280.7 443.9,1281.9 446.2,1276.7 445.1,1277.9 446.8,1272.6 446.3,1273.8" fill="#cfcfcf"/><path d="M447.5,1290.1000000000001v4.8" stroke="#cfcfcf" stroke-width="0.8"/>
<polygon points="472.8,1278.4 474.0,1282.5 473.5,1281.3 475.2,1286.6 474.1,1285.4 476.4,1290.6 474.8,1289.4 477.6,1294.7 475.4,1293.5 478.8,1298.8 478.8,1298.8 466.8,1298.8 466.8,1298.8 470.2,1293.5 468.0,1294.7 470.8,1289.4 469.2,1290.6 471.5,1285.4 470.4,1286.6 472.1,1281.3 471.6,1282.5" fill="#cfcfcf"/><path d="M472.8,1298.8000000000002v4.8" stroke="#cfcfcf" stroke-width="0.8"/>
<polygon points="482.5,1295.9 483.7,1300.0 483.2,1298.8 484.9,1304.1 483.8,1302.9 486.1,1308.1 484.5,1306.9 487.3,1312.2 485.1,1311.0 488.5,1316.3 488.5,1316.3 476.5,1316.3 476.5,1316.3 479.9,1311.0 477.7,1312.2 480.5,1306.9 478.9,1308.1 481.2,1302.9 480.1,1304.1 481.8,1298.8 481.3,1300.0" fill="#cfcfcf"/><path d="M482.5,1316.3000000000002v4.8" stroke="#cfcfcf" stroke-width="0.8"/>
<polygon points="504.3,1298.1 505.5,1302.2 505.0,1301.0 506.7,1306.3 505.6,1305.1 507.9,1310.3 506.3,1309.1 509.1,1314.4 506.9,1313.2 510.3,1318.5 510.3,1318.5 498.3,1318.5 498.3,1318.5 501.7,1313.2 499.5,1314.4 502.3,1309.1 500.7,1310.3 503.0,1305.1 501.9,1306.3 503.6,1301.0 503.1,1302.2" fill="#cfcfcf"/><path d="M504.3,1318.5v4.8" stroke="#cfcfcf" stroke-width="0.8"/>
<polygon points="513.0,1306.9 514.2,1311.0 513.7,1309.8 515.4,1315.1 514.3,1313.9 516.6,1319.1 515.0,1317.9 517.8,1323.2 515.6,1322.0 519.0,1327.3 519.0,1327.3 507.0,1327.3 507.0,1327.3 510.4,1322.0 508.2,1323.2 511.0,1317.9 509.4,1319.1 511.7,1313.9 510.6,1315.1 512.3,1309.8 511.8,1311.0" fill="#cfcfcf"/><path d="M513,1327.3000000000002v4.8" stroke="#cfcfcf" stroke-width="0.8"/>
<polygon points="527.0,1311.2 528.2,1315.3 527.7,1314.1 529.4,1319.4 528.3,1318.2 530.6,1323.4 529.0,1322.2 531.8,1327.5 529.6,1326.3 533.0,1331.6 533.0,1331.6 521.0,1331.6 521.0,1331.6 524.4,1326.3 522.2,1327.5 525.0,1322.2 523.4,1323.4 525.7,1318.2 524.6,1319.4 526.3,1314.1 525.8,1315.3" fill="#cfcfcf"/><path d="M527,1331.6000000000001v4.8" stroke="#cfcfcf" stroke-width="0.8"/>
<polygon points="541.5,1315.6 542.7,1319.7 542.2,1318.5 543.9,1323.8 542.8,1322.6 545.1,1327.8 543.5,1326.6 546.3,1331.9 544.1,1330.7 547.5,1336.0 547.5,1336.0 535.5,1336.0 535.5,1336.0 538.9,1330.7 536.7,1331.9 539.5,1326.6 537.9,1327.8 540.2,1322.6 539.1,1323.8 540.8,1318.5 540.3,1319.7" fill="#cfcfcf"/><path d="M541.5,1336.0v4.8" stroke="#cfcfcf" stroke-width="0.8"/>
<polygon points="559.0,1306.9 560.2,1311.0 559.7,1309.8 561.4,1315.1 560.3,1313.9 562.6,1319.1 561.0,1317.9 563.8,1323.2 561.6,1322.0 565.0,1327.3 565.0,1327.3 553.0,1327.3 553.0,1327.3 556.4,1322.0 554.2,1323.2 557.0,1317.9 555.4,1319.1 557.7,1313.9 556.6,1315.1 558.3,1309.8 557.8,1311.0" fill="#cfcfcf"/><path d="M559,1327.3000000000002v4.8" stroke="#cfcfcf" stroke-width="0.8"/>
<polygon points="804.0,1296.0 805.2,1300.1 804.7,1298.9 806.4,1304.2 805.3,1303.0 807.6,1308.2 806.0,1307.0 808.8,1312.3 806.6,1311.1 810.0,1316.4 810.0,1316.4 798.0,1316.4 798.0,1316.4 801.4,1311.1 799.2,1312.3 802.0,1307.0 800.4,1308.2 802.7,1303.0 801.6,1304.2 803.3,1298.9 802.8,1300.1" fill="#cfcfcf"/><path d="M804,1316.4v4.8" stroke="#cfcfcf" stroke-width="0.8"/>
<polygon points="832.5,1276.0 833.7,1280.1 833.2,1278.9 834.9,1284.2 833.8,1283.0 836.1,1288.2 834.5,1287.0 837.3,1292.3 835.1,1291.1 838.5,1296.4 838.5,1296.4 826.5,1296.4 826.5,1296.4 829.9,1291.1 827.7,1292.3 830.5,1287.0 828.9,1288.2 831.2,1283.0 830.1,1284.2 831.8,1278.9 831.3,1280.1" fill="#cfcfcf"/><path d="M832.5,1296.4v4.8" stroke="#cfcfcf" stroke-width="0.8"/>
<polygon points="858.7,1274.0 859.9,1278.1 859.4,1276.9 861.1,1282.2 860.0,1281.0 862.3,1286.2 860.7,1285.0 863.5,1290.3 861.3,1289.1 864.7,1294.4 864.7,1294.4 852.7,1294.4 852.7,1294.4 856.1,1289.1 853.9,1290.3 856.7,1285.0 855.1,1286.2 857.4,1281.0 856.3,1282.2 858.0,1276.9 857.5,1278.1" fill="#cfcfcf"/><path d="M858.7,1294.4v4.8" stroke="#cfcfcf" stroke-width="0.8"/>
<polygon points="879.7,1267.5 880.9,1271.6 880.4,1270.4 882.1,1275.7 881.0,1274.5 883.3,1279.7 881.7,1278.5 884.5,1283.8 882.3,1282.6 885.7,1287.9 885.7,1287.9 873.7,1287.9 873.7,1287.9 877.1,1282.6 874.9,1283.8 877.7,1278.5 876.1,1279.7 878.4,1274.5 877.3,1275.7 879.0,1270.4 878.5,1271.6" fill="#cfcfcf"/><path d="M879.7,1287.9v4.8" stroke="#cfcfcf" stroke-width="0.8"/>
<polygon points="902.5,1254.4 903.7,1258.5 903.2,1257.3 904.9,1262.6 903.8,1261.4 906.1,1266.6 904.5,1265.4 907.3,1270.7 905.1,1269.5 908.5,1274.8 908.5,1274.8 896.5,1274.8 896.5,1274.8 899.9,1269.5 897.7,1270.7 900.5,1265.4 898.9,1266.6 901.2,1261.4 900.1,1262.6 901.8,1257.3 901.3,1258.5" fill="#cfcfcf"/><path d="M902.5,1274.8000000000002v4.8" stroke="#cfcfcf" stroke-width="0.8"/>
<polygon points="924.3,1250.0 925.5,1254.1 925.0,1252.9 926.7,1258.2 925.6,1257.0 927.9,1262.2 926.3,1261.0 929.1,1266.3 926.9,1265.1 930.3,1270.4 930.3,1270.4 918.3,1270.4 918.3,1270.4 921.7,1265.1 919.5,1266.3 922.3,1261.0 920.7,1262.2 923.0,1257.0 921.9,1258.2 923.6,1252.9 923.1,1254.1" fill="#cfcfcf"/><path d="M924.3,1270.4v4.8" stroke="#cfcfcf" stroke-width="0.8"/>
<polygon points="946.2,1252.2 947.4,1256.3 946.9,1255.1 948.6,1260.4 947.5,1259.2 949.8,1264.4 948.2,1263.2 951.0,1268.5 948.8,1267.3 952.2,1272.6 952.2,1272.6 940.2,1272.6 940.2,1272.6 943.6,1267.3 941.4,1268.5 944.2,1263.2 942.6,1264.4 944.9,1259.2 943.8,1260.4 945.5,1255.1 945.0,1256.3" fill="#cfcfcf"/><path d="M946.2,1272.6000000000001v4.8" stroke="#cfcfcf" stroke-width="0.8"/>
<polygon points="987.8,1234.7 989.0,1238.8 988.5,1237.6 990.2,1242.9 989.1,1241.7 991.4,1246.9 989.8,1245.7 992.6,1251.0 990.4,1249.8 993.8,1255.1 993.8,1255.1 981.8,1255.1 981.8,1255.1 985.2,1249.8 983.0,1251.0 985.8,1245.7 984.2,1246.9 986.5,1241.7 985.4,1242.9 987.1,1237.6 986.6,1238.8" fill="#cfcfcf"/><path d="M987.8,1255.1000000000001v4.8" stroke="#cfcfcf" stroke-width="0.8"/>
<polygon points="1016.2,1223.7 1017.4,1227.8 1016.9,1226.6 1018.6,1231.9 1017.5,1230.7 1019.8,1235.9 1018.2,1234.7 1021.0,1240.0 1018.8,1238.8 1022.2,1244.1 1022.2,1244.1 1010.2,1244.1 1010.2,1244.1 1013.6,1238.8 1011.4,1240.0 1014.2,1234.7 1012.6,1235.9 1014.9,1230.7 1013.8,1231.9 1015.5,1226.6 1015.0,1227.8" fill="#cfcfcf"/><path d="M1016.2,1244.1000000000001v4.8" stroke="#cfcfcf" stroke-width="0.8"/>
<polygon points="1042.5,1210.6 1043.7,1214.7 1043.2,1213.5 1044.9,1218.8 1043.8,1217.6 1046.1,1222.8 1044.5,1221.6 1047.3,1226.9 1045.1,1225.7 1048.5,1231.0 1048.5,1231.0 1036.5,1231.0 1036.5,1231.0 1039.9,1225.7 1037.7,1226.9 1040.5,1221.6 1038.9,1222.8 1041.2,1217.6 1040.1,1218.8 1041.8,1213.5 1041.3,1214.7" fill="#cfcfcf"/><path d="M1042.5,1231.0v4.8" stroke="#cfcfcf" stroke-width="0.8"/>
<polygon points="1059.0,1208.4 1060.2,1212.5 1059.7,1211.3 1061.4,1216.6 1060.3,1215.4 1062.6,1220.6 1061.0,1219.4 1063.8,1224.7 1061.6,1223.5 1065.0,1228.8 1065.0,1228.8 1053.0,1228.8 1053.0,1228.8 1056.4,1223.5 1054.2,1224.7 1057.0,1219.4 1055.4,1220.6 1057.7,1215.4 1056.6,1216.6 1058.3,1211.3 1057.8,1212.5" fill="#cfcfcf"/><path d="M1059,1228.8000000000002v4.8" stroke="#cfcfcf" stroke-width="0.8"/>
<polygon points="1075.3,1206.2 1076.5,1210.3 1076.0,1209.1 1077.7,1214.4 1076.6,1213.2 1078.9,1218.4 1077.3,1217.2 1080.1,1222.5 1077.9,1221.3 1081.3,1226.6 1081.3,1226.6 1069.3,1226.6 1069.3,1226.6 1072.7,1221.3 1070.5,1222.5 1073.3,1217.2 1071.7,1218.4 1074.0,1213.2 1072.9,1214.4 1074.6,1209.1 1074.1,1210.3" fill="#cfcfcf"/><path d="M1075.3,1226.6000000000001v4.8" stroke="#cfcfcf" stroke-width="0.8"/>
</g>
<g fill="none" stroke="#888" stroke-width="0.5">
<circle cx="426.1" cy="1302.3" r="1.3"/>
<circle cx="426.3" cy="1298.9" r="1.2"/>
<circle cx="437.5" cy="1311.5" r="1.1"/>
<circle cx="433.0" cy="1308.9" r="0.7"/>
<circle cx="428.3" cy="1286.7" r="1.0"/>
<circle cx="432.7" cy="1253.8" r="0.8"/>
<circle cx="429.9" cy="1300.5" r="0.7"/>
<circle cx="442.9" cy="1302.4" r="0.7"/>
<circle cx="430.1" cy="1253.1" r="1.2"/>
<circle cx="430.2" cy="1266.0" r="0.8"/>
<circle cx="442.1" cy="1270.9" r="1.3"/>
<circle cx="430.9" cy="1286.4" r="1.1"/>
<circle cx="435.3" cy="1295.8" r="1.3"/>
<circle cx="443.4" cy="1308.4" r="0.8"/>
<circle cx="430.1" cy="1262.0" r="0.6"/>
<circle cx="434.3" cy="1271.7" r="1.0"/>
<circle cx="439.5" cy="1273.9" r="0.8"/>
<circle cx="432.2" cy="1303.7" r="0.9"/>
<circle cx="429.7" cy="1296.7" r="0.6"/>
<circle cx="437.2" cy="1313.5" r="0.6"/>
<circle cx="432.0" cy="1254.1" r="1.2"/>
<circle cx="422.3" cy="1275.7" r="1.0"/>
<circle cx="466.5" cy="1264.2" r="1.3"/>
<circle cx="465.1" cy="1265.2" r="1.1"/>
<circle cx="475.8" cy="1274.4" r="0.8"/>
<circle cx="459.9" cy="1285.5" r="1.1"/>
<circle cx="471.5" cy="1302.4" r="1.2"/>
<circle cx="470.2" cy="1255.3" r="1.3"/>
<circle cx="468.8" cy="1290.9" r="1.2"/>
<circle cx="467.5" cy="1274.1" r="1.2"/>
<circle cx="460.8" cy="1272.6" r="0.7"/>
<circle cx="463.8" cy="1257.8" r="0.7"/>
<circle cx="458.7" cy="1263.0" r="0.6"/>
<circle cx="449.3" cy="1314.2" r="1.0"/>
<circle cx="461.9" cy="1289.8" r="1.2"/>
<circle cx="467.1" cy="1281.3" r="0.9"/>
<circle cx="475.5" cy="1255.0" r="0.9"/>
<circle cx="468.8" cy="1305.0" r="0.7"/>
<circle cx="463.6" cy="1292.1" r="1.2"/>
<circle cx="452.9" cy="1259.6" r="0.9"/>
<circle cx="470.7" cy="1271.3" r="0.9"/>
<circle cx="472.8" cy="1315.0" r="1.2"/>
<circle cx="470.4" cy="1283.3" r="1.1"/>
<circle cx="464.2" cy="1282.7" r="0.8"/>
<circle cx="493.3" cy="1276.4" r="1.3"/>
<circle cx="497.2" cy="1312.5" r="1.0"/>
<circle cx="491.1" cy="1258.5" r="0.8"/>
<circle cx="495.6" cy="1301.5" r="1.2"/>
<circle cx="489.9" cy="1301.0" r="1.1"/>
<circle cx="502.3" cy="1294.2" r="1.1"/>
<circle cx="490.5" cy="1270.4" r="0.9"/>
<circle cx="501.5" cy="1300.7" r="1.1"/>
<circle cx="492.3" cy="1293.3" r="1.0"/>
<circle cx="507.2" cy="1253.7" r="1.0"/>
<circle cx="495.6" cy="1281.7" r="1.2"/>
<circle cx="503.1" cy="1293.1" r="1.2"/>
<circle cx="491.5" cy="1298.7" r="1.2"/>
<circle cx="501.5" cy="1274.7" r="1.2"/>
<circle cx="500.8" cy="1313.5" r="1.3"/>
<circle cx="490.0" cy="1285.1" r="1.0"/>
<circle cx="500.4" cy="1311.1" r="0.9"/>
<circle cx="503.8" cy="1295.9" r="1.1"/>
<circle cx="495.2" cy="1301.4" r="1.0"/>
<circle cx="492.6" cy="1294.3" r="0.9"/>
<circle cx="489.4" cy="1292.5" r="1.1"/>
<circle cx="489.5" cy="1254.7" r="0.7"/>
<circle cx="519.4" cy="1266.6" r="1.1"/>
<circle cx="528.8" cy="1292.1" r="0.6"/>
<circle cx="522.7" cy="1256.4" r="0.7"/>
<circle cx="526.8" cy="1272.7" r="0.7"/>
<circle cx="526.7" cy="1281.9" r="0.9"/>
<circle cx="527.5" cy="1290.9" r="1.0"/>
<circle cx="527.0" cy="1253.0" r="0.9"/>
<circle cx="537.0" cy="1270.3" r="0.9"/>
<circle cx="533.3" cy="1276.2" r="0.6"/>
<circle cx="532.4" cy="1291.0" r="0.7"/>
<circle cx="521.8" cy="1289.0" r="1.3"/>
<circle cx="524.9" cy="1303.7" r="0.9"/>
<circle cx="529.0" cy="1275.9" r="0.7"/>
<circle cx="519.6" cy="1289.9" r="1.0"/>
<circle cx="538.8" cy="1290.7" r="0.8"/>
<circle cx="522.7" cy="1308.4" r="0.6"/>
<circle cx="531.2" cy="1291.1" r="0.7"/>
<circle cx="530.3" cy="1292.0" r="1.2"/>
<circle cx="522.4" cy="1267.0" r="0.8"/>
<circle cx="529.9" cy="1313.3" r="0.9"/>
<circle cx="536.9" cy="1289.9" r="0.8"/>
<circle cx="523.5" cy="1313.8" r="0.9"/>
<circle cx="553.0" cy="1314.0" r="0.9"/>
<circle cx="559.0" cy="1270.8" r="0.9"/>
<circle cx="561.8" cy="1280.5" r="0.8"/>
<circle cx="561.6" cy="1301.5" r="1.2"/>
<circle cx="562.9" cy="1270.0" r="1.3"/>
<circle cx="557.3" cy="1301.5" r="0.8"/>
<circle cx="556.5" cy="1314.3" r="0.8"/>
<circle cx="559.7" cy="1290.7" r="0.9"/>
<circle cx="552.6" cy="1299.1" r="0.7"/>
<circle cx="551.4" cy="1300.1" r="0.8"/>
<circle cx="552.4" cy="1271.4" r="1.0"/>
<circle cx="555.9" cy="1281.8" r="0.9"/>
<circle cx="556.6" cy="1255.3" r="0.8"/>
<circle cx="550.1" cy="1281.2" r="1.2"/>
<circle cx="561.6" cy="1253.9" r="1.1"/>
<circle cx="552.7" cy="1279.5" r="1.0"/>
<circle cx="555.0" cy="1282.9" r="1.2"/>
<circle cx="550.0" cy="1276.9" r="0.9"/>
<circle cx="558.8" cy="1271.4" r="1.2"/>
<circle cx="554.1" cy="1257.1" r="1.2"/>
<circle cx="555.0" cy="1270.8" r="1.1"/>
<circle cx="551.8" cy="1309.5" r="0.7"/>
<circle cx="693.7" cy="1283.9" r="0.8"/>
<circle cx="700.9" cy="1262.5" r="1.0"/>
<circle cx="700.7" cy="1267.3" r="1.2"/>
<circle cx="698.3" cy="1302.1" r="1.1"/>
<circle cx="707.9" cy="1313.7" r="1.3"/>
<circle cx="701.3" cy="1296.5" r="0.6"/>
<circle cx="701.9" cy="1293.0" r="1.3"/>
<circle cx="697.1" cy="1297.2" r="0.7"/>
<circle cx="697.0" cy="1262.3" r="1.0"/>
<circle cx="710.8" cy="1278.7" r="0.7"/>
<circle cx="698.9" cy="1259.7" r="0.9"/>
<circle cx="699.0" cy="1257.5" r="0.6"/>
<circle cx="692.7" cy="1307.5" r="0.7"/>
<circle cx="696.2" cy="1279.8" r="0.8"/>
<circle cx="695.3" cy="1311.2" r="0.9"/>
<circle cx="696.6" cy="1256.5" r="1.1"/>
<circle cx="704.1" cy="1284.4" r="1.2"/>
<circle cx="705.7" cy="1287.4" r="1.0"/>
<circle cx="699.5" cy="1268.8" r="1.1"/>
<circle cx="706.3" cy="1285.1" r="0.7"/>
<circle cx="700.5" cy="1298.7" r="0.7"/>
<circle cx="704.8" cy="1297.2" r="1.1"/>
<circle cx="747.4" cy="1258.7" r="0.7"/>
<circle cx="744.8" cy="1289.8" r="0.8"/>
<circle cx="745.1" cy="1273.0" r="1.2"/>
<circle cx="737.0" cy="1254.8" r="1.1"/>
<circle cx="743.7" cy="1312.0" r="1.1"/>
<circle cx="741.9" cy="1266.8" r="0.7"/>
<circle cx="748.3" cy="1303.9" r="0.7"/>
<circle cx="739.7" cy="1291.7" r="0.8"/>
<circle cx="741.4" cy="1291.1" r="0.8"/>
<circle cx="745.5" cy="1276.9" r="0.7"/>
<circle cx="744.5" cy="1302.9" r="0.9"/>
<circle cx="734.7" cy="1305.8" r="1.0"/>
<circle cx="735.5" cy="1298.9" r="0.9"/>
<circle cx="737.4" cy="1259.0" r="0.6"/>
<circle cx="741.4" cy="1308.1" r="0.9"/>
<circle cx="742.4" cy="1300.1" r="0.6"/>
<circle cx="730.7" cy="1291.4" r="0.9"/>
<circle cx="743.0" cy="1281.9" r="0.7"/>
<circle cx="742.7" cy="1276.2" r="0.9"/>
<circle cx="743.4" cy="1307.6" r="0.7"/>
<circle cx="740.9" cy="1263.0" r="0.8"/>
<circle cx="745.0" cy="1267.6" r="0.9"/>
<circle cx="782.3" cy="1275.9" r="1.3"/>
<circle cx="773.5" cy="1295.6" r="1.1"/>
<circle cx="759.3" cy="1260.3" r="1.1"/>
<circle cx="773.3" cy="1271.0" r="1.1"/>
<circle cx="770.8" cy="1265.5" r="0.6"/>
<circle cx="768.2" cy="1267.3" r="0.7"/>
<circle cx="760.2" cy="1275.6" r="0.8"/>
<circle cx="779.0" cy="1282.0" r="0.8"/>
<circle cx="770.3" cy="1263.1" r="0.8"/>
<circle cx="763.3" cy="1294.7" r="1.3"/>
<circle cx="768.0" cy="1313.5" r="0.6"/>
<circle cx="767.0" cy="1256.8" r="1.1"/>
<circle cx="769.9" cy="1287.0" r="1.3"/>
<circle cx="772.0" cy="1285.2" r="0.8"/>
<circle cx="772.8" cy="1308.7" r="0.9"/>
<circle cx="772.3" cy="1311.0" r="0.6"/>
<circle cx="771.3" cy="1277.6" r="0.6"/>
<circle cx="772.8" cy="1268.8" r="0.9"/>
<circle cx="770.6" cy="1255.3" r="1.3"/>
<circle cx="772.7" cy="1264.1" r="1.0"/>
<circle cx="766.2" cy="1258.2" r="0.8"/>
<circle cx="774.7" cy="1259.7" r="1.0"/>
<circle cx="807.8" cy="1306.1" r="0.8"/>
<circle cx="798.7" cy="1254.1" r="1.0"/>
<circle cx="795.4" cy="1276.4" r="1.0"/>
<circle cx="802.4" cy="1298.0" r="1.2"/>
<circle cx="800.0" cy="1304.2" r="0.8"/>
<circle cx="807.0" cy="1260.2" r="0.8"/>
<circle cx="809.2" cy="1303.8" r="0.8"/>
<circle cx="806.4" cy="1261.0" r="0.7"/>
<circle cx="802.0" cy="1279.6" r="1.0"/>
<circle cx="804.0" cy="1268.2" r="0.6"/>
<circle cx="801.4" cy="1265.4" r="0.8"/>
<circle cx="800.4" cy="1276.2" r="0.7"/>
<circle cx="798.1" cy="1299.6" r="1.0"/>
<circle cx="804.0" cy="1308.6" r="1.1"/>
<circle cx="802.3" cy="1280.4" r="1.2"/>
<circle cx="795.4" cy="1293.6" r="1.3"/>
<circle cx="800.8" cy="1269.6" r="1.2"/>
<circle cx="794.2" cy="1276.7" r="0.7"/>
<circle cx="804.7" cy="1269.3" r="1.1"/>
<circle cx="803.1" cy="1270.7" r="0.6"/>
<circle cx="802.5" cy="1254.7" r="0.6"/>
<circle cx="795.5" cy="1261.1" r="0.9"/>
<circle cx="840.3" cy="1290.9" r="0.8"/>
<circle cx="823.1" cy="1279.6" r="0.9"/>
<circle cx="832.1" cy="1289.2" r="1.2"/>
<circle cx="833.2" cy="1298.1" r="0.7"/>
<circle cx="829.5" cy="1297.0" r="0.9"/>
<circle cx="831.9" cy="1311.2" r="1.2"/>
<circle cx="835.7" cy="1309.7" r="0.9"/>
<circle cx="835.5" cy="1279.9" r="0.9"/>
<circle cx="833.8" cy="1286.0" r="1.3"/>
<circle cx="820.8" cy="1290.0" r="0.7"/>
<circle cx="834.5" cy="1256.2" r="1.3"/>
<circle cx="827.7" cy="1255.0" r="1.0"/>
<circle cx="822.2" cy="1277.3" r="0.8"/>
<circle cx="833.7" cy="1270.2" r="0.7"/>
<circle cx="828.2" cy="1299.6" r="0.8"/>
<circle cx="830.7" cy="1274.8" r="0.8"/>
<circle cx="842.0" cy="1305.7" r="1.0"/>
<circle cx="831.4" cy="1277.9" r="0.7"/>
<circle cx="835.3" cy="1255.3" r="0.7"/>
<circle cx="827.4" cy="1259.1" r="1.1"/>
<circle cx="835.2" cy="1302.4" r="0.8"/>
<circle cx="830.5" cy="1295.3" r="1.2"/>
<circle cx="855.6" cy="1276.3" r="0.6"/>
<circle cx="855.7" cy="1284.7" r="1.0"/>
<circle cx="864.0" cy="1272.7" r="0.6"/>
<circle cx="866.6" cy="1272.3" r="0.9"/>
<circle cx="854.3" cy="1277.7" r="1.3"/>
<circle cx="863.2" cy="1303.6" r="1.2"/>
<circle cx="859.4" cy="1286.3" r="1.2"/>
<circle cx="855.0" cy="1275.5" r="1.0"/>
<circle cx="859.4" cy="1270.6" r="0.7"/>
<circle cx="856.5" cy="1258.4" r="0.8"/>
<circle cx="854.6" cy="1297.3" r="0.8"/>
<circle cx="857.9" cy="1310.6" r="0.8"/>
<circle cx="861.6" cy="1299.7" r="1.1"/>
<circle cx="860.1" cy="1312.3" r="1.2"/>
<circle cx="858.4" cy="1298.8" r="1.0"/>
<circle cx="853.2" cy="1265.9" r="1.0"/>
<circle cx="864.9" cy="1313.4" r="1.0"/>
<circle cx="859.8" cy="1277.4" r="0.6"/>
<circle cx="859.6" cy="1293.5" r="1.2"/>
<circle cx="864.0" cy="1309.4" r="1.0"/>
<circle cx="860.2" cy="1295.7" r="1.0"/>
<circle cx="863.6" cy="1297.3" r="0.9"/>
<circle cx="894.6" cy="1271.9" r="0.8"/>
<circle cx="889.7" cy="1291.6" r="1.2"/>
<circle cx="895.5" cy="1300.5" r="0.8"/>
<circle cx="898.1" cy="1256.9" r="1.0"/>
<circle cx="897.0" cy="1298.1" r="0.9"/>
<circle cx="883.0" cy="1279.4" r="1.0"/>
<circle cx="895.5" cy="1270.4" r="1.0"/>
<circle cx="889.6" cy="1312.9" r="0.7"/>
<circle cx="894.4" cy="1287.9" r="1.0"/>
<circle cx="892.5" cy="1264.4" r="0.7"/>
<circle cx="886.0" cy="1295.8" r="1.1"/>
<circle cx="888.0" cy="1256.8" r="0.9"/>
<circle cx="898.4" cy="1272.7" r="1.2"/>
<circle cx="881.2" cy="1293.0" r="1.2"/>
<circle cx="893.0" cy="1305.1" r="0.9"/>
<circle cx="899.7" cy="1259.2" r="0.7"/>
<circle cx="893.2" cy="1262.4" r="1.0"/>
<circle cx="893.8" cy="1259.5" r="1.1"/>
<circle cx="891.2" cy="1302.8" r="1.1"/>
<circle cx="882.8" cy="1310.3" r="1.3"/>
<circle cx="882.8" cy="1259.4" r="0.7"/>
<circle cx="882.8" cy="1257.0" r="0.7"/>
</g>
<g fill="#fff" stroke="#222" stroke-width="1">
<circle cx="465" cy="1265.3" r="3.3"/>
<circle cx="495.6" cy="1265.3" r="3.3"/>
<circle cx="526.2" cy="1265.3" r="3.3"/>
<circle cx="556.8" cy="1265.3" r="3.3"/>
<circle cx="771.2" cy="1265.3" r="3.3"/>
<circle cx="801.9" cy="1265.3" r="3.3"/>
<circle cx="832.5" cy="1265.3" r="3.3"/>
</g>
<rect x="401" y="1230" width="4.5" height="10" fill="none" stroke="#999" stroke-width="0.5"/><rect x="398" y="1264" width="8" height="11" fill="#fff" stroke="#333" stroke-width="0.6"/>
<g fill="#fff" stroke="#777" stroke-width="0.6">
<rect x="587.2" y="1219.7" width="94.3" height="117.2"/>
<rect x="589.6" y="1219.7" width="89.4" height="117.2" fill="none"/>
</g>
<path d="M589.6,1223.4H679 M589.6,1228H679 M589.6,1232H679 M589.6,1334H679" stroke="#555" stroke-width="0.6"/>
<path d="M619,1241V1335 M649.6,1241V1335" stroke="#999" stroke-width="0.6" stroke-dasharray="2,2"/>
<path d="M617,1220V1238Q619,1242 621,1238V1220 M647.6,1220V1238Q649.6,1242 651.6,1238V1220" stroke="#777" stroke-width="0.5" fill="#fff"/>
<path d="M699.1,1204.7H721.6V1273.2A11.25,11.25 0 0 1 699.1,1273.2Z M730.3,1193.4H752.8V1273.2A11.25,11.25 0 0 1 730.3,1273.2Z" fill="#fff" stroke="#777" stroke-width="0.6"/>
<path d="M726,1221V1270 M718,1232.4H734" stroke="#555" stroke-width="0.8"/>
<rect x="694" y="1314" width="63.3" height="14.4" fill="#fff" stroke="#666" stroke-width="0.6"/><path d="M684,1318H694" stroke="#666" stroke-width="0.6"/>
<polyline points="98.5,1217.0 110.6,1221.0 201.4,1221.0 247.4,1232.4 308.0,1257.8 366.5,1275.4 412.5,1275.4 478.0,1311.2 548.0,1332.2 588.0,1339.0 683.8,1339.0 725.0,1328.4 766.2,1327.5 815.0,1306.9 841.2,1299.0 924.3,1267.5 963.7,1256.5 1033.7,1232.5 1090.6,1220.7 1171.5,1220.7 1181.6,1217.2" fill="none" stroke="#1a1a1a" stroke-width="1.4"/>
<path d="M201.4,1221 L222,1226" stroke="#2a9a2a" stroke-width="1.2"/>
<path d="M98.5,1217V1346 M1181.6,1217V1346" stroke="#eee" stroke-width="0.5"/>
<g style="font-family:'Liberation Serif',serif;font-style:italic;font-size:6px;fill:#555" text-anchor="middle">
<text x="111.5" y="1400.8">05</text>
<text x="150.3" y="1400.8">06</text>
<text x="189.2" y="1400.8">07</text>
<text x="228.1" y="1400.8">08</text>
<text x="266.9" y="1400.8">09</text>
<text x="305.8" y="1400.8">10</text>
<text x="344.6" y="1400.8">11</text>
<text x="383.4" y="1400.8">12</text>
<text x="422.3" y="1400.8">13</text>
<text x="461.2" y="1400.8">14</text>
<text x="500.0" y="1400.8">15</text>
<text x="538.9" y="1400.8">16</text>
<text x="577.7" y="1400.8">17</text>
<text x="616.5" y="1400.8">18</text>
<text x="655.4" y="1400.8">19</text>
<text x="694.2" y="1400.8">20</text>
<text x="733.1" y="1400.8">21</text>
<text x="772.0" y="1400.8">22</text>
<text x="810.8" y="1400.8">23</text>
<text x="849.6" y="1400.8">24</text>
<text x="888.5" y="1400.8">25</text>
<text x="927.4" y="1400.8">26</text>
<text x="966.2" y="1400.8">27</text>
<text x="1005.1" y="1400.8">28</text>
<text x="1043.9" y="1400.8">29</text>
<text x="1082.8" y="1400.8">30</text>
<text x="1121.6" y="1400.8">31</text>
<text x="1160.5" y="1400.8">32</text>
</g>
<polygon points="98.4,1446.0 148.9,1453.0 167.2,1460.2 181.4,1463.2 205.8,1479.5 213.9,1473.4 232.2,1475.4 248.4,1482.5 272.8,1486.6 293.1,1494.7 303.3,1498.8 338.0,1508.0 381.8,1523.4 423.4,1532.0 460.6,1543.0 500.0,1558.4 539.3,1572.0 845.6,1572.0 885.0,1566.0 924.3,1556.0 936.0,1551.6 960.5,1535.3 974.7,1527.2 999.0,1523.1 1013.3,1520.0 1037.7,1517.0 1051.9,1506.9 1092.5,1477.4 1106.7,1468.3 1141.3,1448.0 1181.5,1428.7 1181.6,1595.0 98.4,1595.0" fill="url(#hatch)"/>
<polygon points="98.4,1421.5 1181.6,1421.5 1158.5,1421.5 1158.5,1430.7 1137.2,1442.9 1126.0,1442.9 1098.6,1462.2 1076.2,1474.4 1035.6,1474.4 373.0,1474.4 321.6,1474.4 242.3,1474.4 225.0,1462.6 209.8,1462.6 189.5,1448.4 166.2,1448.4 153.0,1437.4 130.6,1437.4 114.4,1421.5" fill="#f4f4f4"/>
<polygon points="98.4,1432.7 114.4,1432.7 128.6,1443.9 151.0,1443.9 165.2,1455.0 187.5,1455.0 207.8,1468.7 223.0,1468.7 240.3,1480.5 317.5,1486.6 345.0,1490.0 338.0,1508.0 303.3,1498.8 293.1,1494.7 272.8,1486.6 248.4,1482.5 232.2,1475.4 213.9,1473.4 205.8,1479.5 181.4,1463.2 167.2,1460.2 148.9,1453.0 98.4,1446.0" fill="#ececec"/>
<polygon points="1181.5,1427.7 1161.6,1436.8 1139.2,1450.0 1125.0,1450.0 1102.7,1466.3 1072.2,1480.5 1047.8,1484.5 1000.0,1484.5 1000.0,1523.1 1013.3,1520.0 1037.7,1517.0 1051.9,1506.9 1092.5,1477.4 1106.7,1468.3 1141.3,1448.0 1181.5,1428.7" fill="#ececec"/>
<polygon points="373.0,1480.0 1035.0,1480.0 1035.0,1517.0 1013.3,1520.0 999.0,1523.1 974.7,1527.2 960.5,1535.3 936.0,1551.6 924.3,1556.0 885.0,1566.0 845.6,1572.0 539.3,1572.0 500.0,1558.4 460.6,1543.0 423.4,1532.0 381.8,1523.4 345.0,1510.0" fill="#f6f6f6"/>
<path d="M98.4,1417.6H1181.6" stroke="#d8d8d8" stroke-width="0.8"/>
<rect x="98.4" y="1420.2" width="1083.2" height="2" fill="#9a9a9a"/>
<polyline points="114.4,1421.5 130.6,1437.4 153,1437.4 166.2,1448.4 189.5,1448.4 209.8,1462.6 225,1462.6 242.3,1474.4 321.6,1474.4" fill="none" stroke="#555" stroke-width="0.6"/>
<polyline points="98.4,1432.7 114.4,1432.7 128.6,1443.9 151.0,1443.9 165.2,1455.0 187.5,1455.0 207.8,1468.7 223.0,1468.7 240.3,1480.5 317.5,1486.6 345.0,1490.0" fill="none" stroke="#555" stroke-width="0.6"/>
<polyline points="1158.5,1421.5 1158.5,1430.7 1137.2,1442.9 1126,1442.9 1098.6,1462.2 1076.2,1474.4 1035.6,1474.4" fill="none" stroke="#555" stroke-width="0.6"/>
<polyline points="1181.5,1427.7 1161.6,1436.8 1139.2,1450.0 1125.0,1450.0 1102.7,1466.3 1072.2,1480.5 1047.8,1484.5 1000.0,1484.5" fill="none" stroke="#555" stroke-width="0.6"/>
<path d="M330,1474.4H1036 M345,1479.5H1036" stroke="#666" stroke-width="0.6"/>
<g fill="#fff" stroke="#555" stroke-width="0.55">
<polygon points="358.5,1474.4 362.5,1461.2 369.5,1461.2 373.5,1474.4"/>
<polygon points="397.4,1474.4 401.4,1461.2 408.4,1461.2 412.4,1474.4"/>
<polygon points="436.2,1474.4 440.2,1461.2 447.2,1461.2 451.2,1474.4"/>
<polygon points="475.1,1474.4 479.1,1461.2 486.1,1461.2 490.1,1474.4"/>
<polygon points="513.9,1474.4 517.9,1461.2 524.9,1461.2 528.9,1474.4"/>
<polygon points="552.8,1474.4 556.8,1461.2 563.8,1461.2 567.8,1474.4"/>
<polygon points="591.6,1474.4 595.6,1461.2 602.6,1461.2 606.6,1474.4"/>
<polygon points="630.5,1474.4 634.5,1461.2 641.5,1461.2 645.5,1474.4"/>
<polygon points="669.3,1474.4 673.3,1461.2 680.3,1461.2 684.3,1474.4"/>
<polygon points="708.2,1474.4 712.2,1461.2 719.2,1461.2 723.2,1474.4"/>
<polygon points="747.0,1474.4 751.0,1461.2 758.0,1461.2 762.0,1474.4"/>
<polygon points="785.9,1474.4 789.9,1461.2 796.9,1461.2 800.9,1474.4"/>
<polygon points="824.7,1474.4 828.7,1461.2 835.7,1461.2 839.7,1474.4"/>
<polygon points="863.5,1474.4 867.5,1461.2 874.5,1461.2 878.5,1474.4"/>
<polygon points="902.4,1474.4 906.4,1461.2 913.4,1461.2 917.4,1474.4"/>
<polygon points="941.2,1474.4 945.2,1461.2 952.2,1461.2 956.2,1474.4"/>
<polygon points="980.1,1474.4 984.1,1461.2 991.1,1461.2 995.1,1474.4"/>
<polygon points="1019.0,1474.4 1023.0,1461.2 1030.0,1461.2 1034.0,1474.4"/>
</g>
<g fill="#fdfdfd" stroke="#555" stroke-width="0.55">
<path d="M356.5,1479.5 L352.0,1494.7 V1516.8 H379.6 V1494.7 L374.6,1479.5"/>
<path d="M395.4,1479.5 L390.9,1494.7 V1527.2 H418.5 V1494.7 L413.5,1479.5"/>
<path d="M434.2,1479.5 L429.7,1494.7 V1537.0 H457.3 V1494.7 L452.3,1479.5"/>
<path d="M473.1,1479.5 L468.6,1494.7 V1550.6 H496.2 V1494.7 L491.2,1479.5"/>
<path d="M511.9,1479.5 L507.4,1494.7 V1564.8 H535.0 V1494.7 L530.0,1479.5"/>
<path d="M550.8,1479.5 L546.2,1494.7 V1571.0 H573.9 V1494.7 L568.9,1479.5"/>
<path d="M589.6,1479.5 L585.1,1494.7 V1571.0 H612.7 V1494.7 L607.7,1479.5"/>
<path d="M628.5,1479.5 L624.0,1494.7 V1571.0 H651.6 V1494.7 L646.6,1479.5"/>
<path d="M667.3,1479.5 L662.8,1494.7 V1571.0 H690.4 V1494.7 L685.4,1479.5"/>
<path d="M706.2,1479.5 L701.7,1494.7 V1571.0 H729.3 V1494.7 L724.3,1479.5"/>
<path d="M745.0,1479.5 L740.5,1494.7 V1571.0 H768.1 V1494.7 L763.1,1479.5"/>
<path d="M783.9,1479.5 L779.4,1494.7 V1571.0 H807.0 V1494.7 L802.0,1479.5"/>
<path d="M822.7,1479.5 L818.2,1494.7 V1571.0 H845.8 V1494.7 L840.8,1479.5"/>
<path d="M861.5,1479.5 L857.0,1494.7 V1567.1 H884.6 V1494.7 L879.6,1479.5"/>
<path d="M900.4,1479.5 L895.9,1494.7 V1558.7 H923.5 V1494.7 L918.5,1479.5"/>
<path d="M939.2,1479.5 L934.8,1494.7 V1542.1 H962.4 V1494.7 L957.4,1479.5"/>
<path d="M978.1,1479.5 L973.6,1494.7 V1524.0 H1001.2 V1494.7 L996.2,1479.5"/>
<path d="M1017.0,1479.5 L1012.5,1494.7 V1517.4 H1040.0 V1494.7 L1035.0,1479.5"/>
</g>
<g stroke="#d0d0d0" stroke-width="0.4">
<path d="M362.0,1482V1515.8M370.0,1482V1515.8"/>
<path d="M400.9,1482V1526.2M408.9,1482V1526.2"/>
<path d="M439.7,1482V1536.0M447.7,1482V1536.0"/>
<path d="M478.6,1482V1549.6M486.6,1482V1549.6"/>
<path d="M517.4,1482V1563.8M525.4,1482V1563.8"/>
<path d="M556.2,1482V1570.0M564.2,1482V1570.0"/>
<path d="M595.1,1482V1570.0M603.1,1482V1570.0"/>
<path d="M634.0,1482V1570.0M642.0,1482V1570.0"/>
<path d="M672.8,1482V1570.0M680.8,1482V1570.0"/>
<path d="M711.7,1482V1570.0M719.7,1482V1570.0"/>
<path d="M750.5,1482V1570.0M758.5,1482V1570.0"/>
<path d="M789.4,1482V1570.0M797.4,1482V1570.0"/>
<path d="M828.2,1482V1570.0M836.2,1482V1570.0"/>
<path d="M867.0,1482V1566.1M875.0,1482V1566.1"/>
<path d="M905.9,1482V1557.7M913.9,1482V1557.7"/>
<path d="M944.8,1482V1541.1M952.8,1482V1541.1"/>
<path d="M983.6,1482V1523.0M991.6,1482V1523.0"/>
<path d="M1022.5,1482V1516.4M1030.5,1482V1516.4"/>
</g>
<g fill="#f2f2f2" stroke="#444" stroke-width="0.55">
<path d="M378.4,1524.1V1532.1H392.4V1524.1"/>
<path d="M417.2,1532.3V1540.3H431.2V1532.3"/>
<path d="M456.1,1544.0V1552.0H470.1V1544.0"/>
<path d="M494.9,1559.1V1567.1H508.9V1559.1"/>
<path d="M533.8,1572.0V1580.0H547.8V1572.0"/>
<path d="M572.6,1572.0V1580.0H586.6V1572.0"/>
<path d="M611.5,1572.0V1580.0H625.5V1572.0"/>
<path d="M650.4,1572.0V1580.0H664.4V1572.0"/>
<path d="M689.2,1572.0V1580.0H703.2V1572.0"/>
<path d="M728.1,1572.0V1580.0H742.1V1572.0"/>
<path d="M766.9,1572.0V1580.0H780.9V1572.0"/>
<path d="M805.8,1572.0V1580.0H819.8V1572.0"/>
<path d="M844.6,1571.1V1579.1H858.6V1571.1"/>
<path d="M883.4,1564.6V1572.6H897.4V1564.6"/>
<path d="M922.3,1554.1V1562.1H936.3V1554.1"/>
<path d="M961.1,1530.9V1538.9H975.1V1530.9"/>
<path d="M1000.0,1521.4V1529.4H1014.0V1521.4"/>
<path d="M1038.9,1511.2V1519.2H1052.9V1511.2"/>
</g>
<path d="M321.6,1474.4V1432.1H330.7V1461.2L335.8,1480.5V1498M321.6,1474.4V1486" fill="#fff" stroke="#555" stroke-width="0.55"/>
<g fill="none" stroke="#555" stroke-width="0.55">
<rect x="561" y="1423.4" width="34.5" height="12.1"/><path d="M561,1429.5h34.5"/>
<rect x="600" y="1423.4" width="34.5" height="12.1"/><path d="M600,1429.5h34.5"/>
<rect x="639" y="1423.4" width="34.5" height="12.1"/><path d="M639,1429.5h34.5"/>
</g>
<path d="M545.7,1422V1475" stroke="#bbb" stroke-width="0.5"/>
<g fill="none" stroke="#e03030" stroke-width="0.8" stroke-dasharray="4,1.5,1,1.5">
<polyline points="246,1477.5 316,1484 360,1484 373,1477.5 1077.4,1477.5 1098,1466 1126,1446 1140,1445"/>
<path d="M525,1549.3H950 M555,1567.6H820"/>
</g>
<circle cx="604" cy="1549" r="3.2" fill="none" stroke="#222" stroke-width="0.8"/><circle cx="631" cy="1549" r="3.2" fill="none" stroke="#222" stroke-width="0.8"/>
<polyline points="98.4,1446.0 148.9,1453.0 167.2,1460.2 181.4,1463.2 205.8,1479.5 213.9,1473.4 232.2,1475.4 248.4,1482.5 272.8,1486.6 293.1,1494.7 303.3,1498.8 338.0,1508.0 381.8,1523.4 423.4,1532.0 460.6,1543.0 500.0,1558.4 539.3,1572.0 845.6,1572.0 885.0,1566.0 924.3,1556.0 936.0,1551.6 960.5,1535.3 974.7,1527.2 999.0,1523.1 1013.3,1520.0 1037.7,1517.0 1051.9,1506.9 1092.5,1477.4 1106.7,1468.3 1141.3,1448.0 1181.5,1428.7" fill="none" stroke="#333" stroke-width="0.9"/>
<defs><clipPath id="midclip"><polygon points="649.4,603.4 660.0,597.0 672.0,592.0 685.0,588.0 696.0,580.0 708.0,576.0 715.0,571.0 727.0,565.0 735.0,558.0 740.0,556.0 748.0,550.0 756.0,546.0 764.2,543.4 780.6,558.1 931.8,644.1 931.8,657.7 890.8,683.5 874.0,697.6 850.0,708.0 815.8,724.5 795.0,717.5 771.0,699.0 750.0,678.0 734.0,662.0 717.0,652.0 705.0,635.0 689.0,619.0 670.0,611.0"/></clipPath></defs>
<polygon points="649.4,603.4 660.0,597.0 672.0,592.0 685.0,588.0 696.0,580.0 708.0,576.0 715.0,571.0 727.0,565.0 735.0,558.0 740.0,556.0 748.0,550.0 756.0,546.0 764.2,543.4 780.6,558.1 931.8,644.1 931.8,657.7 890.8,683.5 874.0,697.6 850.0,708.0 815.8,724.5 795.0,717.5 771.0,699.0 750.0,678.0 734.0,662.0 717.0,652.0 705.0,635.0 689.0,619.0 670.0,611.0" fill="#fff" stroke="#555" stroke-width="0.7"/>
<g clip-path="url(#midclip)"><path d="M774.0 662.2L775.3 675.9M781.3 567.8L793.8 565.6M808.9 663.4L818.4 681.3M675.4 591.2L674.5 591.2M890.5 670.0L900.0 677.7M731.2 653.7L715.4 649.7M768.5 589.7L775.5 602.0M870.0 653.1L861.6 647.5M799.7 600.3L788.0 577.1M750.9 572.9L743.1 568.8M749.9 549.4L747.0 550.8M836.8 684.6L823.6 673.7M808.2 685.9L802.6 678.3M836.8 684.6L826.4 665.5M691.3 584.5L689.3 607.0M690.5 617.7L687.7 618.5M917.1 646.6L900.9 645.7M808.9 663.4L808.7 644.2M865.8 682.3L865.5 701.3M689.3 607.0L687.4 586.2M886.5 686.8L865.8 682.3M755.7 558.2L759.6 544.9M667.4 596.6L674.5 591.2M843.8 659.4L855.9 659.5M876.7 631.8L877.5 614.3M801.6 690.7L782.9 696.4M712.0 576.9L711.9 573.2M722.9 628.9L706.7 627.9M649.4 603.4L661.5 596.4M781.4 615.5L789.8 607.6M770.9 578.0L750.9 572.9M728.5 585.5L730.3 604.7M758.9 686.0L757.7 685.7M805.3 612.9L797.6 628.5M859.5 625.7L876.7 631.8M728.3 575.9L724.1 566.5M827.4 718.9L814.7 724.1M808.9 591.2L799.7 600.3M758.4 596.3L758.3 612.5M896.8 638.0L911.4 633.3M828.6 715.5L832.3 705.0M702.3 620.4L701.4 610.4M702.3 620.4L706.7 627.9M917.1 646.6L925.7 645.4M768.5 589.7L758.4 596.3M769.0 563.8L781.3 567.8M848.5 700.2L844.5 689.1M755.0 631.6L768.2 640.3M731.2 653.7L726.6 657.7M770.9 578.0L781.0 592.4M728.5 585.5L747.3 591.1M781.4 615.5L788.6 632.3M716.2 591.3L699.2 578.9M836.8 684.6L844.5 689.1M767.3 653.8L768.2 640.3M767.3 653.8L781.0 643.2M870.0 653.1L877.9 667.3M808.9 663.4L802.6 678.3M680.0 603.9L674.5 591.2M671.7 606.0L680.0 603.9M778.9 633.0L758.3 612.5M756.9 657.1L742.4 656.7M861.9 700.1L865.8 682.3M886.5 686.8L880.4 692.0M702.3 620.4L690.5 617.7M865.8 682.3L877.6 694.5M917.1 646.6L911.4 633.3M801.6 690.7L794.5 674.4M758.7 671.5L775.3 675.9M755.1 586.3L750.9 572.9M755.7 558.2L747.0 550.8M728.3 575.9L743.1 568.8M722.9 628.9L746.9 610.0M712.0 576.9L699.2 578.9M734.3 567.6L735.1 558.0M702.3 620.4L697.9 627.9M799.2 571.1L793.8 565.6M877.5 614.3L879.0 614.0M860.6 608.0L843.7 625.2M844.5 689.1L833.9 693.3M917.1 646.6L902.6 654.2M852.3 685.8L861.9 700.1M741.6 648.4L733.2 639.4M852.3 685.8L864.5 671.8M742.4 656.7L747.8 675.8M823.7 655.3L826.4 665.5M880.4 692.0L877.6 694.5M789.8 607.6L794.4 618.5M722.9 628.9L730.3 604.7M770.9 578.0L755.1 586.3M731.2 653.7L737.9 665.9M755.0 631.6L778.9 633.0M853.8 633.5L850.4 653.5M723.9 639.8L707.3 638.3M756.9 657.1L747.8 675.8M830.6 593.4L830.3 586.4M818.1 579.4L830.3 586.4M911.4 633.3L915.5 634.8M722.9 628.9L707.3 638.3M896.8 638.0L888.1 652.6M774.0 662.2L781.0 643.2M876.7 631.8L891.1 621.0M843.5 606.5L842.5 593.3M769.0 563.8L750.9 572.9M890.5 670.0L911.8 664.7M830.6 593.4L816.4 600.8M859.5 625.7L866.9 615.5M741.3 634.0L749.0 637.5M821.5 695.0L801.6 690.7M815.7 649.8L823.7 655.3M891.1 621.0L903.3 627.9M823.7 655.3L835.1 657.2M747.3 591.1L758.4 596.3M800.4 666.1L802.6 678.3M783.1 680.4L771.2 689.6M734.3 567.6L724.1 566.5M781.4 615.5L778.9 633.0M903.3 627.9L915.5 634.8M832.3 705.0L833.9 693.3M813.3 616.1L816.4 600.8M819.0 708.8L832.3 705.0M797.7 707.1L782.9 696.4M877.5 614.3L866.8 607.1M808.2 685.9L801.6 690.7M808.9 663.4L796.2 643.8M756.9 657.1L767.3 653.8M888.1 652.6L900.9 645.7M911.8 664.7L900.0 677.7M691.3 584.5L699.2 578.9M722.9 628.9L741.3 634.0M888.4 685.5L877.6 694.5M788.0 577.1L793.8 565.6M769.0 563.8L771.0 549.5M877.9 667.3L888.4 685.5M800.4 666.1L790.9 661.5M877.5 614.3L866.9 615.5M836.8 684.6L827.2 687.7M816.4 600.8L808.9 591.2M743.1 568.8L735.1 558.0M715.1 601.8L691.3 584.5M796.2 643.8L808.7 644.2M823.6 673.7L826.4 665.5M876.7 631.8L879.1 650.6M778.9 633.0L788.6 632.3M843.5 606.5L850.3 602.1M715.1 601.8L716.2 591.3M770.9 578.0L788.0 577.1M847.0 709.0L852.7 706.8M813.3 616.1L820.7 610.1M712.0 576.9L720.3 574.1M821.5 695.0L827.2 687.7M861.9 700.1L852.7 706.8M734.3 567.6L743.1 568.8M723.9 639.8L733.2 639.4M828.6 715.5L827.4 718.9M866.9 615.5L866.8 607.1M706.7 627.9L697.9 627.9M728.3 575.9L734.3 567.6M802.6 678.3L794.5 674.4M667.4 596.6L661.8 608.0M836.8 684.6L849.1 670.5M781.0 592.4L788.0 577.1M805.3 612.9L799.7 600.3M848.5 700.2L852.7 706.8M728.5 585.5L743.1 568.8M722.9 628.9L733.2 639.4M715.1 601.8L701.4 610.4M778.9 633.0L781.0 643.2M788.6 632.3L794.4 618.5M852.3 685.8L848.5 700.2M661.5 596.4L661.8 608.0M800.4 666.1L796.2 643.8M815.7 649.8L825.3 632.2M691.3 584.5L687.4 586.2M712.0 576.9L716.2 591.3M720.3 574.1L711.9 573.2M818.8 580.4L830.3 586.4M816.4 600.8L818.8 580.4M853.8 633.5L837.3 630.2M796.2 643.8L788.6 632.3M758.7 671.5L757.7 685.7M843.8 659.4L826.4 665.5M775.5 602.0L758.3 612.5M816.4 600.8L799.7 600.3M864.5 671.8L877.9 667.3M843.5 606.5L820.7 610.1M819.0 708.8L814.7 724.1M801.5 719.7L789.3 713.1M771.2 689.6L775.3 675.9M860.6 608.0L854.6 600.2M723.3 596.3L716.2 591.3M859.5 625.7L843.7 625.2M769.0 563.8L755.7 558.2M861.9 700.1L865.5 701.3M747.3 591.1L730.3 604.7M759.6 544.9L771.0 549.5M877.5 614.3L884.5 618.8M701.4 610.4L719.4 611.7M828.6 715.5L840.0 712.8M819.0 708.8L809.8 708.4M849.1 670.5L864.5 671.8M706.7 627.9L707.3 638.3M781.0 592.4L775.5 602.0M796.2 643.8L781.0 643.2M796.2 643.8L790.9 661.5M726.6 657.7L715.4 649.7M843.8 659.4L835.1 657.2M782.9 696.4L778.2 704.6M661.5 596.4L674.5 591.2M723.3 596.3L715.1 601.8M797.7 707.1L789.3 713.1M807.5 579.2L799.2 571.1M890.5 670.0L902.6 654.2M781.3 567.8L781.6 558.7M853.8 633.5L859.5 625.7M768.2 640.3L781.0 643.2M917.1 646.6L927.6 641.7M796.2 643.8L797.6 628.5M750.9 572.9L755.7 558.2M715.1 601.8L730.3 604.7M755.0 631.6L749.0 637.5M815.9 635.1L825.3 632.2M819.0 708.8L827.4 718.9M864.5 671.8L865.8 682.3M690.5 617.7L697.9 627.9M809.8 708.4L797.7 707.1M742.4 656.7L741.6 648.4M815.7 649.8L815.9 635.1M691.3 584.5L716.2 591.3M853.8 633.5L876.7 631.8M680.0 603.9L674.8 613.0M877.9 667.3L888.1 652.6M819.0 708.8L821.5 695.0M667.4 596.6L661.5 596.4M825.3 632.2L835.1 657.2M756.9 657.1L741.6 648.4M860.6 608.0L843.5 606.5M886.5 686.8L888.4 685.5M758.9 686.0L767.6 695.6M837.3 630.2L835.1 657.2M797.7 707.1L801.5 719.7M809.7 629.0L797.6 628.5M691.3 584.5L701.4 610.4M815.9 635.1L808.7 644.2M808.9 663.4L823.6 673.7M808.9 663.4L826.4 665.5M768.2 640.3L778.9 633.0M849.1 670.5L855.9 659.5M825.3 632.2L823.7 655.3M701.4 610.4L689.3 607.0M902.6 654.2L888.1 652.6M917.1 646.6L915.5 634.8M925.7 645.4L923.7 662.8M807.5 579.2L818.1 579.4M755.1 586.3L758.4 596.3M860.6 608.0L859.5 625.7M743.1 568.8L755.7 558.2M722.9 628.9L719.4 611.7M927.6 641.7L931.8 653.3M860.6 608.0L850.3 602.1M832.3 705.0L840.0 712.8M723.3 596.3L730.3 604.7M805.3 612.9L794.4 618.5M850.3 602.1L854.6 600.2M830.3 586.4L842.5 593.3M774.0 662.2L790.9 661.5M723.9 639.8L731.2 653.7M896.8 638.0L903.3 627.9M675.4 591.2L680.0 603.9M702.3 620.4L719.4 611.7M877.9 667.3L865.8 682.3M805.3 612.9L816.4 600.8M746.9 610.0L758.4 596.3M876.7 631.8L896.8 638.0M813.3 616.1L809.7 629.0M837.3 630.2L843.7 625.2M797.7 707.1L789.0 711.5M920.0 662.4L911.8 664.7M781.4 615.5L775.5 602.0M723.3 596.3L728.5 585.5M915.5 634.8L927.6 641.7M742.4 656.7L731.2 653.7M788.6 632.3L797.6 628.5M843.7 625.2L820.7 610.1M756.9 657.1L768.2 640.3M778.2 704.6L767.6 695.6M808.9 663.4L823.7 655.3M853.8 633.5L861.6 647.5M880.4 692.0L888.4 685.5M819.0 708.8L828.6 715.5M781.0 592.4L799.7 600.3M667.4 596.6L680.0 603.9M902.6 654.2L911.8 664.7M925.7 645.4L931.8 653.3M807.5 579.2L805.9 572.5M723.9 639.8L715.4 649.7M877.6 694.5L865.5 701.3M794.5 674.4L790.9 661.5M797.6 628.5L794.4 618.5M781.6 558.7L793.8 565.6M821.5 695.0L818.4 681.3M847.0 709.0L832.3 705.0M850.4 653.5L835.1 657.2M911.4 633.3L903.3 627.9M870.0 653.1L879.1 650.6M687.4 586.2L699.2 578.9M781.0 643.2L788.6 632.3M896.8 638.0L891.1 621.0M801.6 690.7L802.6 678.3M799.7 600.3L789.8 607.6M720.3 574.1L716.2 591.3M807.5 579.2L788.0 577.1M848.5 700.2L861.9 700.1M843.8 659.4L849.1 670.5M890.5 670.0L888.4 685.5M747.3 591.1L743.1 568.8M848.5 700.2L832.3 705.0M848.5 700.2L833.9 693.3M826.4 665.5L835.1 657.2M782.9 696.4L789.0 711.5M837.3 630.2L825.3 632.2M805.3 612.9L789.8 607.6M816.4 600.8L820.7 610.1M808.9 591.2L807.5 579.2M836.8 684.6L833.9 693.3M809.7 629.0L825.3 632.2M790.9 661.5L782.7 669.9M911.8 664.7L911.8 670.3M852.3 685.8L844.5 689.1M917.1 646.6L911.8 664.7M741.3 634.0L733.2 639.4M771.2 689.6L767.6 695.6M886.5 686.8L877.9 667.3M830.6 593.4L818.8 580.4M722.9 628.9L723.9 639.8M781.0 643.2L790.9 661.5M747.3 591.1L746.9 610.0M809.8 708.4L801.5 719.7M783.1 680.4L801.6 690.7M821.5 695.0L832.3 705.0M797.6 628.5L808.7 644.2M837.3 630.2L850.4 653.5M802.6 678.3L818.4 681.3M783.1 680.4L794.5 674.4M758.4 596.3L775.5 602.0M870.0 653.1L864.5 671.8M896.8 638.0L879.1 650.6M818.8 580.4L807.5 579.2M896.8 638.0L900.9 645.7M789.3 713.1L778.2 704.6M706.7 627.9L719.4 611.7M852.3 685.8L865.8 682.3M884.5 618.8L891.1 621.0M815.7 649.8L808.7 644.2M755.1 586.3L747.3 591.1M728.3 575.9L720.3 574.1M789.0 711.5L778.2 704.6M755.0 631.6L746.9 610.0M876.7 631.8L866.9 615.5M715.4 649.7L707.3 638.3M923.7 662.8L911.8 670.3M818.8 580.4L808.9 591.2M680.0 603.9L687.4 586.2M741.6 648.4L749.0 637.5M801.6 690.7L809.8 708.4M731.2 653.7L733.2 639.4M861.6 647.5L850.4 653.5M854.6 600.2L866.8 607.1M770.9 578.0L768.5 589.7M818.8 580.4L818.1 579.4M765.2 548.3L771.0 549.5M800.4 666.1L794.5 674.4M847.0 709.0L848.5 700.2M920.0 662.4L917.1 646.6M809.8 708.4L814.7 724.1M768.2 640.3L749.0 637.5M855.9 659.5L850.4 653.5M853.8 633.5L843.7 625.2M799.2 571.1L805.9 572.5M840.0 712.8L827.4 718.9M809.7 629.0L815.9 635.1M774.0 662.2L758.7 671.5M920.0 662.4L911.8 670.3M715.1 601.8L719.4 611.7M931.8 653.3L923.7 662.8M768.5 589.7L781.0 592.4M741.3 634.0L741.6 648.4M801.6 690.7L797.7 707.1M742.4 656.7L737.9 665.9M758.7 671.5L758.9 686.0M789.8 607.6L775.5 602.0M884.5 618.8L879.0 614.0M689.3 607.0L674.8 613.0M789.0 711.5L789.3 713.1M849.1 670.5L826.4 665.5M827.2 687.7L818.4 681.3M799.2 571.1L788.0 577.1M855.9 659.5L864.5 671.8M870.0 653.1L855.9 659.5M823.6 673.7L818.4 681.3M741.3 634.0L746.9 610.0M830.6 593.4L842.5 593.3M769.0 563.8L765.2 548.3M756.9 657.1L758.7 671.5M890.5 670.0L877.9 667.3M821.5 695.0L808.2 685.9M890.5 670.0L888.1 652.6M808.9 591.2L788.0 577.1M830.6 593.4L843.5 606.5M821.5 695.0L809.8 708.4M765.2 548.3L759.6 544.9M730.3 604.7L746.9 610.0M876.7 631.8L884.5 618.8M808.9 663.4L815.7 649.8M920.0 662.4L923.7 662.8M852.3 685.8L849.1 670.5M768.5 589.7L755.1 586.3M880.4 692.0L865.8 682.3M731.2 653.7L741.6 648.4M671.7 606.0L661.8 608.0M765.2 548.3L755.7 558.2M747.3 591.1L750.9 572.9M805.3 612.9L809.7 629.0M758.9 686.0L775.3 675.9M849.1 670.5L844.5 689.1M689.3 607.0L687.7 618.5M827.2 687.7L833.9 693.3M769.0 563.8L781.6 558.7M775.3 675.9L782.7 669.9M728.5 585.5L720.3 574.1M746.9 610.0L758.3 612.5M774.0 662.2L756.9 657.1M808.9 663.4L800.4 666.1M743.1 568.8L747.0 550.8M741.3 634.0L755.0 631.6M730.3 604.7L719.4 611.7M774.0 662.2L767.3 653.8M783.1 680.4L782.7 669.9M900.9 645.7L911.4 633.3M667.4 596.6L671.7 606.0M711.9 573.2L724.1 566.5M847.0 709.0L840.0 712.8M861.6 647.5L855.9 659.5M774.0 662.2L782.7 669.9M781.0 592.4L789.8 607.6M843.8 659.4L850.4 653.5M756.9 657.1L749.0 637.5M870.0 653.1L876.7 631.8M755.0 631.6L758.3 612.5M728.5 585.5L716.2 591.3M649.4 603.4L661.8 608.0M783.1 680.4L782.9 696.4M843.5 606.5L843.7 625.2M850.3 602.1L842.5 593.3M808.2 685.9L818.4 681.3M813.3 616.1L825.3 632.2M877.9 667.3L879.1 650.6M728.3 575.9L728.5 585.5M671.7 606.0L674.8 613.0M805.3 612.9L813.3 616.1M827.2 687.7L823.6 673.7M720.3 574.1L724.1 566.5M690.5 617.7L689.3 607.0M749.9 549.4L759.6 544.9M758.7 671.5L747.8 675.8M830.6 593.4L820.7 610.1M794.5 674.4L782.7 669.9M781.4 615.5L794.4 618.5M770.9 578.0L781.3 567.8M781.4 615.5L758.3 612.5M769.0 563.8L770.9 578.0M771.2 689.6L782.9 696.4M781.3 567.8L788.0 577.1M860.6 608.0L866.8 607.1M689.3 607.0L680.0 603.9M825.3 632.2L820.7 610.1M701.4 610.4L690.5 617.7M925.7 645.4L927.6 641.7M902.6 654.2L900.9 645.7M749.9 549.4L755.7 558.2M821.5 695.0L833.9 693.3M837.3 630.2L820.7 610.1M782.9 696.4L767.6 695.6M920.0 662.4L925.7 645.4M783.1 680.4L775.3 675.9M771.2 689.6L758.9 686.0M860.6 608.0L866.9 615.5M861.6 647.5L876.7 631.8M879.1 650.6L888.1 652.6M809.7 629.0L808.7 644.2M866.8 607.1L879.0 614.0" stroke="#d6d6d6" stroke-width="0.4" fill="none"/></g>
<path d="M748,550 C735,575 740,600 760,620 C790,640 840,655 883,672" fill="none" stroke="#888" stroke-width="0.6"/>
<path d="M775,630 C760,640 745,650 735,665 M800,632 C830,640 860,655 878,668 M795,712 C820,700 850,690 870,680 M852,695 L877,688" fill="none" stroke="#999" stroke-width="0.5"/>
<path d="M793,715 C820,700 850,690 875,683 L890,683" fill="none" stroke="#5a5aff" stroke-width="0.6"/>
<polygon points="780.6,558.1 931.8,644.1 931.8,657.7 890.8,683.5 883.7,670.6 792.3,623.7 790.0,617.9 785.3,610.9 776.0,607.3 764.2,600.3 757.2,594.4 758.4,588.6 757.2,580.4 761.9,576.9 773.6,575.7 779.4,569.8" fill="#d9d9d9" stroke="#5a5aff" stroke-width="0.5"/>
<path d="M931.8,644.1V700 M815.8,724.5V740" stroke="#999" stroke-width="0.5" stroke-dasharray="1,1.5"/>
<polygon points="857,660 883,672 876,695 850,685" fill="#fff" stroke="#666" stroke-width="0.5"/>
<polygon points="751,604 762,611 760,616 749,609" fill="#fff" stroke="#333" stroke-width="0.6"/>
<circle cx="810" cy="662" r="2" fill="none" stroke="#444" stroke-width="0.5"/>
<polygon points="883.7,677 875.5,697.6 890,690.5" fill="none" stroke="#e04040" stroke-width="1.1"/>
<polygon points="883.7,682 879,694 886,690" fill="none" stroke="#e04040" stroke-width="0.6"/>
<path d="M888,699 C930,712 980,710 1004,703" fill="none" stroke="#888" stroke-width="0.6" stroke-dasharray="2,2"/>
<path d="M1002,700 L1010,702 L1003,706Z" fill="#333"/>
<g>
<circle cx="948.9" cy="549.7" r="3.7" fill="#111"/>
<path d="M948.9,556V576" stroke="#c8c8c8" stroke-width="0.5" stroke-dasharray="1,2"/>
<circle cx="961.0" cy="549.7" r="3.7" fill="#111"/>
<path d="M961.0,556V583" stroke="#c8c8c8" stroke-width="0.5" stroke-dasharray="1,2"/>
<circle cx="973.0" cy="549.7" r="3.7" fill="#111"/>
<path d="M973.0,556V590" stroke="#c8c8c8" stroke-width="0.5" stroke-dasharray="1,2"/>
<circle cx="985.1" cy="549.7" r="3.7" fill="#111"/>
<path d="M985.1,556V597" stroke="#c8c8c8" stroke-width="0.5" stroke-dasharray="1,2"/>
<circle cx="997.1" cy="549.7" r="3.7" fill="#111"/>
<path d="M997.1,556V604" stroke="#c8c8c8" stroke-width="0.5" stroke-dasharray="1,2"/>
<circle cx="1009.2" cy="549.7" r="3.7" fill="#111"/>
<path d="M1009.2,556V611" stroke="#c8c8c8" stroke-width="0.5" stroke-dasharray="1,2"/>
<circle cx="1021.3" cy="549.7" r="3.7" fill="#111"/>
<path d="M1021.3,556V618" stroke="#c8c8c8" stroke-width="0.5" stroke-dasharray="1,2"/>
<circle cx="1033.3" cy="549.7" r="3.7" fill="#111"/>
<path d="M1033.3,556V625" stroke="#c8c8c8" stroke-width="0.5" stroke-dasharray="1,2"/>
<circle cx="1045.4" cy="549.7" r="3.7" fill="#111"/>
<path d="M1045.4,556V632" stroke="#c8c8c8" stroke-width="0.5" stroke-dasharray="1,2"/>
<circle cx="1057.4" cy="549.7" r="3.7" fill="#111"/>
<path d="M1057.4,556V639" stroke="#c8c8c8" stroke-width="0.5" stroke-dasharray="1,2"/>
<circle cx="1069.5" cy="549.7" r="3.7" fill="#111"/>
<path d="M1069.5,556V646" stroke="#c8c8c8" stroke-width="0.5" stroke-dasharray="1,2"/>
<circle cx="1081.6" cy="549.7" r="3.7" fill="#111"/>
<path d="M1081.6,556V653" stroke="#c8c8c8" stroke-width="0.5" stroke-dasharray="1,2"/>
<circle cx="1093.6" cy="549.7" r="3.7" fill="#111"/>
<path d="M1093.6,556V660" stroke="#c8c8c8" stroke-width="0.5" stroke-dasharray="1,2"/>
<circle cx="1105.7" cy="549.7" r="3.7" fill="#111"/>
<path d="M1105.7,556V667" stroke="#c8c8c8" stroke-width="0.5" stroke-dasharray="1,2"/>
<circle cx="1117.7" cy="549.7" r="3.7" fill="#111"/>
<path d="M1117.7,556V674" stroke="#c8c8c8" stroke-width="0.5" stroke-dasharray="1,2"/>
<circle cx="1129.8" cy="549.7" r="3.7" fill="#111"/>
<path d="M1129.8,556V681" stroke="#c8c8c8" stroke-width="0.5" stroke-dasharray="1,2"/>
<circle cx="1141.9" cy="549.7" r="3.7" fill="#111"/>
<path d="M1141.9,556V688" stroke="#c8c8c8" stroke-width="0.5" stroke-dasharray="1,2"/>
<circle cx="1153.9" cy="549.7" r="3.7" fill="#111"/>
<path d="M1153.9,556V695" stroke="#c8c8c8" stroke-width="0.5" stroke-dasharray="1,2"/>
<circle cx="1166.0" cy="549.7" r="3.7" fill="#111"/>
<path d="M1166.0,556V702" stroke="#c8c8c8" stroke-width="0.5" stroke-dasharray="1,2"/>
</g>
<g style="font-family:'Liberation Sans',sans-serif;font-size:3px;fill:#fff" text-anchor="middle">
<text x="948.9" y="550.8">1</text>
<text x="961.0" y="550.8">2</text>
<text x="973.0" y="550.8">3</text>
<text x="985.1" y="550.8">4</text>
<text x="997.1" y="550.8">5</text>
<text x="1009.2" y="550.8">6</text>
<text x="1021.3" y="550.8">7</text>
<text x="1033.3" y="550.8">8</text>
<text x="1045.4" y="550.8">9</text>
<text x="1057.4" y="550.8">10</text>
<text x="1069.5" y="550.8">11</text>
<text x="1081.6" y="550.8">12</text>
<text x="1093.6" y="550.8">13</text>
<text x="1105.7" y="550.8">14</text>
<text x="1117.7" y="550.8">15</text>
<text x="1129.8" y="550.8">16</text>
<text x="1141.9" y="550.8">17</text>
<text x="1153.9" y="550.8">18</text>
<text x="1166.0" y="550.8">19</text>
</g>
<g fill="#fff" stroke="#777" stroke-width="0.55" stroke-linejoin="round">
<path d="M1159.6,719.9 Q1162.6,714.9 1166.6,716.9 L1172.6,721.9 L1169.9,733.1 L1159.9,735.1 L1154.9,733.1 Z"/>
<path d="M1166.6,716.9 L1159.9,735.1" fill="none"/>
<path d="M1145.4,713.4 Q1148.4,708.4 1152.4,710.4 L1158.4,715.4 L1154.0,731.7 L1144.0,733.7 L1139.0,731.7 Z"/>
<path d="M1152.4,710.4 L1144.0,733.7" fill="none"/>
<path d="M1133.2,706.7 Q1136.2,701.7 1140.2,703.7 L1146.2,708.7 L1139.8,731.1 L1129.8,733.1 L1124.8,731.1 Z"/>
<path d="M1140.2,703.7 L1129.8,733.1" fill="none"/>
<path d="M1122.0,699.6 Q1125.0,694.6 1129.0,696.6 L1135.0,701.6 L1127.7,727.0 L1117.7,729.0 L1112.7,727.0 Z"/>
<path d="M1129.0,696.6 L1117.7,729.0" fill="none"/>
<path d="M1110.9,693.1 Q1113.9,688.1 1117.9,690.1 L1123.9,695.1 L1112.1,733.7 L1102.1,735.7 L1097.1,733.7 Z"/>
<path d="M1117.9,690.1 L1102.1,735.7" fill="none"/>
<path d="M1098.7,686.4 Q1101.7,681.4 1105.7,683.4 L1111.7,688.4 L1097.3,735.1 L1087.3,737.1 L1082.3,735.1 Z"/>
<path d="M1105.7,683.4 L1087.3,737.1" fill="none"/>
<path d="M1087.5,679.3 Q1090.5,674.3 1094.5,676.3 L1100.5,681.3 L1085.8,729.0 L1075.8,731.0 L1070.8,729.0 Z"/>
<path d="M1094.5,676.3 L1075.8,731.0" fill="none"/>
<path d="M1075.3,672.8 Q1078.3,667.8 1082.3,669.8 L1088.3,674.8 L1073.9,721.5 L1063.9,723.5 L1058.9,721.5 Z"/>
<path d="M1082.3,669.8 L1063.9,723.5" fill="none"/>
<path d="M1064.2,666.1 Q1067.2,661.1 1071.2,663.1 L1077.2,668.1 L1062.7,714.8 L1052.7,716.8 L1047.7,714.8 Z"/>
<path d="M1071.2,663.1 L1052.7,716.8" fill="none"/>
<path d="M1053.0,659.0 Q1056.0,654.0 1060.0,656.0 L1066.0,661.0 L1051.2,708.7 L1041.2,710.7 L1036.2,708.7 Z"/>
<path d="M1060.0,656.0 L1041.2,710.7" fill="none"/>
<path d="M1040.8,652.9 Q1043.8,647.9 1047.8,649.9 L1053.8,654.9 L1039.4,701.6 L1029.4,703.6 L1024.4,701.6 Z"/>
<path d="M1047.8,649.9 L1029.4,703.6" fill="none"/>
<path d="M1029.6,645.8 Q1032.6,640.8 1036.6,642.8 L1042.6,647.8 L1028.2,694.5 L1018.2,696.5 L1013.2,694.5 Z"/>
<path d="M1036.6,642.8 L1018.2,696.5" fill="none"/>
<path d="M1017.4,638.6 Q1020.4,633.6 1024.4,635.6 L1030.4,640.6 L1016.0,687.4 L1006.0,689.4 L1001.0,687.4 Z"/>
<path d="M1024.4,635.6 L1006.0,689.4" fill="none"/>
<path d="M1006.3,632.1 Q1009.3,627.1 1013.3,629.1 L1019.3,634.1 L1007.9,671.8 L997.9,673.8 L992.9,671.8 Z"/>
<path d="M1013.3,629.1 L997.9,673.8" fill="none"/>
<path d="M995.1,625.4 Q998.1,620.4 1002.1,622.4 L1008.1,627.4 L998.7,659.0 L988.7,661.0 L983.7,659.0 Z"/>
<path d="M1002.1,622.4 L988.7,661.0" fill="none"/>
<path d="M983.9,618.3 Q986.9,613.3 990.9,615.3 L996.9,620.3 L988.9,647.8 L978.9,649.8 L973.9,647.8 Z"/>
<path d="M990.9,615.3 L978.9,649.8" fill="none"/>
<path d="M971.7,611.6 Q974.7,606.6 978.7,608.6 L984.7,613.6 L978.0,637.0 L968.0,639.0 L963.0,637.0 Z"/>
<path d="M978.7,608.6 L968.0,639.0" fill="none"/>
<path d="M960.6,604.7 Q963.6,599.7 967.6,601.7 L973.6,606.7 L966.8,630.1 L956.8,632.1 L951.8,630.1 Z"/>
<path d="M967.6,601.7 L956.8,632.1" fill="none"/>
<path d="M948.4,598.0 Q951.4,593.0 955.4,595.0 L961.4,600.0 L958.3,612.3 L948.3,614.3 L943.3,612.3 Z"/>
<path d="M955.4,595.0 L948.3,614.3" fill="none"/>
</g>
<defs>
<pattern id="trees" width="30" height="30" patternUnits="userSpaceOnUse"><path d="M9.7,-1.0L13.0,6.9Q9.7,8.5 6.4,6.9ZM9.7,29.0L13.0,36.9Q9.7,38.5 6.4,36.9ZM19.5,-3.3L22.8,4.6Q19.5,6.2 16.2,4.6ZM19.5,26.7L22.8,34.6Q19.5,36.2 16.2,34.6ZM16.1,5.5L19.4,13.4Q16.1,15.0 12.8,13.4ZM1.7,9.7L5.0,17.6Q1.7,19.2 -1.6,17.6ZM31.7,9.7L35.0,17.6Q31.7,19.2 28.4,17.6ZM2.1,-2.8L5.4,5.1Q2.1,6.7 -1.2,5.1ZM2.1,27.2L5.4,35.1Q2.1,36.7 -1.2,35.1ZM32.1,-2.8L35.4,5.1Q32.1,6.7 28.8,5.1ZM32.1,27.2L35.4,35.1Q32.1,36.7 28.8,35.1ZM12.7,-10.7L16.0,-2.8Q12.7,-1.2 9.4,-2.8ZM12.7,19.3L16.0,27.2Q12.7,28.8 9.4,27.2ZM3.7,1.2L7.0,9.1Q3.7,10.7 0.4,9.1ZM33.7,1.2L37.0,9.1Q33.7,10.7 30.4,9.1ZM18.8,-7.1L22.1,0.8Q18.8,2.4 15.5,0.8ZM18.8,22.9L22.1,30.8Q18.8,32.4 15.5,30.8ZM-0.7,-4.1L2.6,3.8Q-0.7,5.4 -4.0,3.8ZM-0.7,25.9L2.6,33.8Q-0.7,35.4 -4.0,33.8ZM29.3,-4.1L32.6,3.8Q29.3,5.4 26.0,3.8ZM29.3,25.9L32.6,33.8Q29.3,35.4 26.0,33.8ZM25.8,3.2L29.1,11.1Q25.8,12.7 22.5,11.1ZM5.4,11.9L8.7,19.8Q5.4,21.4 2.1,19.8Z" fill="#8fc2cf"/></pattern>
<clipPath id="ax1clip"><polygon points="643.0,197.5 665.0,185.0 690.0,172.5 710.0,162.5 727.5,156.2 740.0,150.0 757.5,137.5 772.5,127.5 790.0,118.8 803.8,114.5 815.0,122.5 825.0,133.0 1137.5,310.0 1145.0,315.5 1177.5,326.0 1150.0,340.0 1125.0,360.0 1100.0,382.5 1075.0,400.0 1050.0,417.5 1018.8,436.0 900.0,378.0 883.8,373.0 863.4,366.9 845.2,358.8 831.0,348.6 818.8,338.4 810.6,322.2 802.5,314.0 784.2,301.9 770.0,291.7 753.8,279.5 739.5,269.4 729.4,257.2 717.2,245.0 701.0,228.8 680.6,215.5 664.4,206.4"/></clipPath>
<mask id="forest1" maskUnits="userSpaceOnUse" x="600" y="100" width="640" height="360">
<polygon points="643.0,197.5 665.0,185.0 690.0,172.5 710.0,162.5 727.5,156.2 740.0,150.0 757.5,137.5 772.5,127.5 790.0,118.8 803.8,114.5 815.0,122.5 825.0,133.0 1137.5,310.0 1145.0,315.5 1177.5,326.0 1150.0,340.0 1125.0,360.0 1100.0,382.5 1075.0,400.0 1050.0,417.5 1018.8,436.0 900.0,378.0 883.8,373.0 863.4,366.9 845.2,358.8 831.0,348.6 818.8,338.4 810.6,322.2 802.5,314.0 784.2,301.9 770.0,291.7 753.8,279.5 739.5,269.4 729.4,257.2 717.2,245.0 701.0,228.8 680.6,215.5 664.4,206.4" fill="#fff"/>
<polygon points="825.0,134.0 1137.5,310.0 1112.0,317.5 1075.0,332.5 1052.0,336.0 900.0,248.0 860.0,229.0 847.5,228.8 841.2,225.0 840.0,217.5 830.0,205.0 810.0,193.8 793.8,182.5 793.8,166.2 802.5,162.5 820.0,158.8 826.2,150.0" fill="#000"/>
<polygon points="820.0,232.0 845.0,236.0 880.0,243.0 1050.0,336.0 1055.0,352.0 1040.0,362.0 960.0,345.0 935.0,334.0 922.0,316.0 905.0,290.0 887.0,260.0 845.0,242.0" fill="#000"/>
<polygon points="843.0,236.0 880.0,243.0 898.0,265.0 918.0,292.0 935.0,314.0 913.0,323.0 870.0,310.0 845.0,290.0 832.0,268.0 836.0,250.0" fill="#000"/>
<polygon points="913.8,322.8 931.2,314.0 951.0,325.0 934.5,333.8" fill="#000"/>
<polygon points="841.0,222.0 900.0,244.0 1052.0,332.0 1050.0,340.0 880.0,247.0 843.0,238.0" fill="#000"/>
<polyline points="767.0,137.0 765.0,160.0 772.0,183.0 790.0,205.0 815.0,225.0 843.0,236.0" fill="none" stroke="#000" stroke-width="6"/>
<polyline points="800.0,305.0 860.0,300.0 931.0,312.0" fill="none" stroke="#000" stroke-width="7"/>
<polyline points="830.0,275.0 800.0,290.0 775.0,300.0" fill="none" stroke="#000" stroke-width="5"/>
<polyline points="1047.0,339.0 1054.0,351.0 1040.0,362.0 1025.0,378.0 1019.0,400.0 1022.0,430.0" fill="none" stroke="#000" stroke-width="8"/>
<polyline points="843.0,359.0 870.0,349.0 898.0,334.0 914.0,323.0" fill="none" stroke="#000" stroke-width="6"/>
<polyline points="935.0,334.0 1000.0,342.0 1047.0,340.0" fill="none" stroke="#000" stroke-width="8"/>
</mask></defs>
<polygon points="643.0,197.5 665.0,185.0 690.0,172.5 710.0,162.5 727.5,156.2 740.0,150.0 757.5,137.5 772.5,127.5 790.0,118.8 803.8,114.5 815.0,122.5 825.0,133.0 1137.5,310.0 1145.0,315.5 1177.5,326.0 1150.0,340.0 1125.0,360.0 1100.0,382.5 1075.0,400.0 1050.0,417.5 1018.8,436.0 900.0,378.0 883.8,373.0 863.4,366.9 845.2,358.8 831.0,348.6 818.8,338.4 810.6,322.2 802.5,314.0 784.2,301.9 770.0,291.7 753.8,279.5 739.5,269.4 729.4,257.2 717.2,245.0 701.0,228.8 680.6,215.5 664.4,206.4" fill="#000"/>
<rect x="600" y="100" width="640" height="360" fill="url(#trees)" mask="url(#forest1)"/>
<g clip-path="url(#ax1clip)"><path d="M841.0 176.3L861.6 153.7M871.9 288.5L892.4 294.1M964.8 248.4L965.8 220.8M906.4 259.5L894.6 247.3M916.5 222.7L934.2 221.1M884.7 212.4L894.1 209.3M894.9 363.1L907.7 366.5M795.9 300.2L798.4 285.6M859.6 199.7L868.5 213.3M1041.7 334.2L1053.5 313.6M870.2 318.2L868.1 335.3M938.6 388.0L938.3 396.7M754.2 270.6L753.4 279.3M1143.4 336.1L1135.3 330.2M1037.5 259.6L1032.1 250.3M1056.2 405.3L1061.6 409.4M787.5 237.4L777.0 234.8M996.0 414.0L1001.2 427.4M710.8 209.9L704.9 218.9M931.6 381.7L913.1 384.4M1037.5 259.6L1048.8 273.9M722.9 250.7L713.1 240.8M900.0 286.9L889.3 273.1M865.7 265.5L869.0 253.5M742.1 236.5L735.3 220.4M1021.4 246.5L995.0 250.7M906.4 259.5L921.3 269.6M983.4 308.3L971.3 317.8M973.7 375.1L959.9 356.0M1024.4 273.6L1037.2 274.9M1024.7 357.9L1051.0 361.0M963.8 270.5L995.0 250.7M1145.8 323.2L1162.0 333.9M1021.4 246.5L1024.4 273.6M983.3 350.4L1000.6 356.7M721.7 172.4L706.5 177.6M900.6 224.7L916.5 222.7M840.5 283.4L845.8 256.7M815.3 147.2L825.0 133.0M804.4 152.7L787.7 162.3M841.0 176.3L855.0 152.5M785.2 178.3L792.4 206.3M710.8 209.9L735.3 220.4M836.9 237.2L834.2 253.0M1026.0 431.7L1013.7 433.6M796.5 166.2L787.7 162.3M896.1 335.2L885.0 319.6M900.0 286.9L914.6 277.7M743.2 162.2L752.8 173.0M783.1 135.8L766.1 131.8M708.9 192.5L706.5 177.6M965.8 220.8L959.0 208.9M827.4 337.6L825.0 343.6M829.5 226.4L836.9 237.2M859.6 199.7L862.3 185.4M731.2 157.8L730.9 154.5M840.5 283.4L834.2 253.0M889.3 273.1L892.4 294.1M842.6 329.4L855.2 338.0M961.5 386.7L973.7 375.1M868.5 213.3L875.0 195.1M864.7 343.8L847.7 359.9M961.5 386.7L938.6 388.0M968.8 294.9L965.5 285.7M906.4 259.5L882.3 259.3M1119.6 302.6L1117.4 298.6M984.3 329.6L987.4 319.0M817.7 158.2L815.3 147.2M1101.4 320.3L1082.3 303.1M1070.5 396.7L1073.0 401.4M1032.1 250.3L1044.3 257.2M688.8 190.6L704.9 218.9M1031.6 252.0L1032.1 250.3M841.4 199.8L817.2 203.0M743.2 162.2L730.9 154.5M1000.6 282.7L965.5 285.7M947.5 209.5L959.0 208.9M705.0 165.0L717.9 159.7M777.0 234.8L782.3 219.9M1024.7 357.9L1046.3 352.0M758.2 205.7L758.3 232.4M949.4 305.3L965.5 285.7M798.4 285.6L801.9 275.9M894.6 247.3L888.6 223.5M855.2 338.0L847.7 359.9M754.2 270.6L764.6 287.6M1117.4 298.6L1129.6 305.5M1000.8 312.2L984.3 329.6M758.2 205.7L752.8 173.0M943.3 243.0L965.8 220.8M931.6 381.7L925.7 390.5M1048.8 273.9L1037.2 274.9M847.7 359.9L836.1 352.2M758.2 205.7L773.6 200.4M731.3 248.3L735.3 220.4M880.4 229.5L868.9 235.7M963.8 270.5L941.6 252.7M1054.1 335.1L1051.0 361.0M820.9 177.9L807.3 184.2M706.5 177.6L705.0 165.0M836.1 352.2L825.0 343.6M819.4 262.9L812.7 295.9M804.0 114.7L815.4 122.9M762.2 148.2L770.5 154.9M943.9 353.7L926.2 366.6M688.4 176.7L677.3 182.8M886.9 196.0L894.6 190.6M743.2 162.2L749.6 153.6M1063.7 368.5L1056.1 383.0M995.0 250.7L998.8 264.2M1101.4 320.3L1104.1 308.5M756.3 248.0L777.0 234.8M1149.6 340.4L1138.6 349.1M989.9 420.9L988.6 421.3M812.7 295.9L831.8 292.4M1101.4 320.3L1121.3 321.4M1006.2 296.9L1020.6 308.9M909.7 199.1L922.5 188.2M757.5 139.1L766.1 131.8M668.6 193.1L667.9 208.3M941.6 252.7L921.3 269.6M721.6 204.5L735.3 220.4M731.2 157.8L717.9 159.7M721.6 204.5L734.7 207.0M1084.5 393.4L1061.6 409.4M911.1 342.8L902.1 351.6M824.0 249.7L801.7 254.4M943.9 353.7L959.9 356.0M961.5 386.7L959.9 356.0M812.9 313.4L828.3 304.6M828.8 147.8L837.2 139.9M1040.7 375.9L1029.3 402.0M900.6 224.7L894.1 209.3M1000.6 282.7L1006.2 296.9M913.6 252.8L894.6 247.3M1099.8 293.6L1093.0 284.8M787.2 286.1L791.5 259.8M1008.0 378.2L1020.3 367.8M877.4 184.3L894.6 190.6M829.5 226.4L813.2 235.2M996.0 414.0L989.9 420.9M762.2 148.2L774.9 145.3M894.4 315.6L892.4 294.1M840.5 283.4L852.6 263.2M804.4 152.7L796.5 166.2M855.2 338.0L868.1 335.3M1154.1 318.4L1162.0 333.9M947.5 209.5L946.8 202.0M1020.6 308.9L1022.8 285.1M817.7 158.2L830.3 178.3M1082.3 303.1L1099.8 293.6M873.2 303.2L844.7 298.0M906.4 259.5L913.6 252.8M961.5 386.7L950.8 402.8M801.7 254.4L798.3 238.2M1145.8 323.2L1143.4 336.1M815.3 147.2L828.8 147.8M868.5 213.3L884.7 212.4M994.6 364.5L983.3 350.4M845.8 256.7L869.0 253.5M817.7 158.2L804.4 152.7M790.7 118.5L804.0 114.7M983.4 308.3L980.7 299.3M798.3 238.2L813.2 235.2M1034.6 316.5L1024.7 357.9M783.1 135.8L787.7 162.3M862.3 185.4L877.4 184.3M943.3 243.0L921.9 257.5M787.5 237.4L776.9 255.1M1024.4 273.6L1013.4 272.8M894.6 247.3L882.3 259.3M787.2 286.1L770.5 262.0M706.5 177.6L692.5 171.3M931.9 336.1L933.4 348.7M894.9 363.1L902.1 351.6M894.4 315.6L882.8 298.7M787.5 237.4L791.5 259.8M885.0 319.6L868.1 335.3M743.2 162.2L760.0 164.4M1074.2 334.4L1063.6 331.8M749.6 153.6L754.5 139.6M819.9 212.7L817.2 203.0M903.4 326.7L894.4 315.6M886.9 196.0L875.0 195.1M887.9 169.6L898.1 174.4M775.9 295.9L764.6 287.6M865.7 265.5L852.6 263.2M760.0 164.4L770.5 154.9M1051.0 361.0L1046.3 352.0M795.9 300.2L787.2 286.1M824.0 249.7L836.9 237.2M801.2 225.2L813.2 235.2M812.9 313.4L832.9 313.8M873.8 160.6L885.9 167.5M1086.1 384.6L1083.5 368.5M900.6 224.7L888.6 223.5M1082.3 303.1L1080.8 277.9M731.3 248.3L713.1 240.8M868.5 213.3L880.4 229.5M968.8 294.9L949.4 305.3M868.9 235.7L869.0 253.5M984.3 329.6L1000.6 356.7M916.5 222.7L935.8 211.4M782.9 298.3L787.3 304.0M995.0 250.7L1019.9 243.4M833.6 345.6L827.4 337.6M828.8 147.8L825.0 133.0M688.8 190.6L668.6 193.1M1008.1 417.6L1029.3 402.0M1143.4 336.1L1138.6 349.1M731.3 248.3L742.1 236.5M921.9 257.5L921.3 269.6M926.2 366.6L934.4 373.1M877.4 184.3L875.0 195.1M1008.0 378.2L1000.6 356.7M704.9 218.9L691.8 222.8M812.9 313.4L802.4 308.1M959.0 208.9L971.2 215.8M836.9 237.2L813.2 235.2M833.6 345.6L842.6 329.4M829.5 226.4L841.4 199.8M795.9 300.2L812.7 295.9M1021.4 246.5L1032.1 250.3M1086.6 325.9L1111.3 346.8M996.0 414.0L1000.1 398.9M1033.5 305.0L1022.8 285.1M903.4 326.7L906.2 299.1M873.2 303.2L871.9 288.5M926.2 366.6L913.1 384.4M1086.3 354.6L1098.3 375.3M812.9 313.4L831.7 324.1M805.4 197.6L817.2 203.0M909.7 199.1L926.6 195.8M943.9 353.7L934.4 373.1M1000.6 282.7L963.8 270.5M894.9 363.1L887.2 374.1M1060.2 303.7L1053.5 313.6M688.8 190.6L677.3 182.8M1006.2 296.9L980.7 299.3M688.8 190.6L708.9 192.5M894.6 190.6L910.3 181.3M655.2 190.6L667.4 183.8M859.6 199.7L851.1 189.8M938.6 388.0L931.6 381.7M916.5 222.7L926.6 195.8M739.9 196.6L734.7 207.0M850.8 236.8L845.8 256.7M1086.6 325.9L1082.3 303.1M855.7 224.2L868.9 235.7M909.7 199.1L894.6 190.6M887.9 169.6L885.9 167.5M958.2 329.8L971.3 317.8M840.5 283.4L831.8 292.4M1037.5 259.6L1037.2 274.9M1008.1 417.6L1001.2 427.4M704.9 218.9L735.3 220.4M906.4 259.5L921.9 257.5M731.3 248.3L747.0 263.9M819.4 262.9L801.9 275.9M907.7 366.5L902.1 351.6M963.8 270.5L965.5 285.7M982.8 406.1L976.0 415.1M1022.8 285.1L1037.2 274.9M752.8 173.0L773.6 200.4M787.5 237.4L782.3 219.9M995.0 250.7L1007.8 236.5M787.5 237.4L798.3 238.2M773.6 200.4L765.6 226.4M824.0 249.7L813.2 235.2M883.1 351.8L868.1 335.3M935.5 295.3L903.4 326.7M1143.4 336.1L1149.6 340.4M815.3 147.2L809.7 132.7M872.1 358.4L864.7 343.8M770.5 262.0L791.5 259.8M1040.7 375.9L1020.8 380.0M704.9 218.9L703.2 230.9M886.9 196.0L884.7 212.4M819.1 130.9L825.0 133.0M758.2 205.7L735.3 220.4M888.6 223.5L884.7 212.4M760.0 164.4L762.2 148.2M688.4 176.7L692.5 171.3M758.2 205.7L734.7 207.0M785.2 178.3L787.7 162.3M787.5 237.4L801.2 225.2M986.9 240.2L1007.8 236.5M852.1 280.6L840.5 283.4M859.6 199.7L855.7 224.2M1037.4 421.9L1026.0 431.7M1056.2 405.3L1070.5 396.7M812.7 295.9L802.4 308.1M1000.6 282.7L998.8 264.2M828.3 304.6L831.8 292.4M906.2 299.1L892.4 294.1M1111.5 334.3L1126.2 339.9M911.1 342.8L896.1 335.2M979.9 394.9L963.4 409.0M986.9 240.2L964.8 248.4M1029.3 402.0L1050.1 417.4M1040.7 375.9L1024.7 357.9M1111.3 346.8L1117.2 367.1M774.9 145.3L766.1 131.8M1145.8 323.2L1135.3 330.2M894.9 363.1L900.5 378.3M865.7 265.5L882.3 259.3M1060.2 303.7L1066.5 310.5M756.3 248.0L770.5 262.0M857.4 311.8L843.4 310.5M1037.5 259.6L1031.6 252.0M877.4 184.3L887.9 169.6M1020.3 367.8L1020.8 380.0M855.7 224.2L836.9 237.2M787.7 162.3L767.2 171.4M869.0 253.5L882.3 259.3M1000.6 356.7L1024.7 357.9M879.5 239.8L894.6 247.3M913.1 384.4L900.5 378.3M1048.8 273.9L1056.5 264.1M888.6 223.5L880.4 229.5M843.0 143.7L842.5 154.9M845.8 256.7L836.9 237.2M934.4 373.1L931.6 381.7M865.7 265.5L871.9 288.5M871.9 288.5L882.8 298.7M704.9 218.9L679.4 212.8M892.4 294.1L882.8 298.7M804.4 152.7L806.9 173.4M935.5 295.3L931.9 336.1M983.4 308.3L987.4 319.0M1086.3 354.6L1106.5 367.7M1008.1 417.6L1013.7 433.6M906.2 299.1L894.4 315.6M796.5 166.2L806.9 173.4M1129.6 305.5L1141.4 312.9M911.1 342.8L926.2 366.6M801.7 254.4L791.5 259.8M792.4 206.3L782.3 219.9M1104.1 308.5L1105.2 291.7M982.8 406.1L988.6 421.3M864.7 343.8L883.1 351.8M825.0 343.6L816.1 333.2M820.9 177.9L817.7 158.2M747.0 263.9L742.0 271.2M802.5 215.4L819.9 212.7M947.5 209.5L935.8 211.4M809.7 132.7L804.0 114.7M760.0 164.4L749.6 153.6M1063.7 368.5L1051.0 361.0M958.2 329.8L960.4 314.2M643.0 197.5L655.1 202.6M872.1 165.7L861.6 153.7M896.1 335.2L883.1 351.8M843.0 143.7L828.8 147.8M721.7 172.4L705.0 165.0M795.9 300.2L799.0 311.7M942.8 327.9L935.5 295.3M934.4 373.1L938.6 388.0M819.1 130.9L815.4 122.9M879.5 239.8L869.0 253.5M688.4 176.7L679.9 177.5M1138.6 349.1L1127.7 357.8M819.4 262.9L801.7 254.4M1054.1 335.1L1063.6 331.8M785.2 178.3L773.6 200.4M805.4 197.6L807.3 184.2M873.2 303.2L857.4 311.8M941.6 252.7L921.9 257.5M859.3 328.4L855.2 338.0M1074.0 382.0L1086.1 384.6M873.2 303.2L870.2 318.2M879.5 239.8L882.3 259.3M883.1 351.8L873.8 370.0M843.4 310.5L844.7 298.0M938.6 388.0L950.8 402.8M1063.7 368.5L1074.8 372.4M1006.2 296.9L983.4 308.3M753.4 279.3L742.0 271.2M1033.5 305.0L1020.6 308.9M1034.6 316.5L1020.6 308.9M782.3 219.9L765.6 226.4M841.0 176.3L862.3 185.4M942.8 327.9L960.4 314.2M898.1 174.4L910.3 181.3M1111.3 346.8L1127.7 357.8M1054.1 335.1L1041.7 334.2M842.6 329.4L827.4 337.6M974.1 411.1L963.4 409.0M935.8 211.4L946.8 202.0M1098.3 375.3L1096.0 385.3M782.9 298.3L787.2 286.1M801.9 275.9L791.5 259.8M1000.8 312.2L1020.6 308.9M1061.6 409.4L1050.1 417.4M817.7 158.2L842.5 154.9M989.9 420.9L982.8 406.1M1040.7 375.9L1056.1 383.0M966.2 349.5L959.9 356.0M926.6 195.8L935.8 211.4M1033.5 305.0L1053.5 313.6M1034.6 316.5L1053.5 313.6M1048.8 273.9L1044.3 257.2M913.6 252.8L921.9 257.5M785.2 178.3L796.5 166.2M864.7 343.8L868.1 335.3M935.5 295.3L965.5 285.7M721.6 204.5L739.9 196.6M871.9 288.5L889.3 273.1M1098.3 375.3L1086.1 384.6M805.4 197.6L792.4 206.3M896.1 335.2L868.1 335.3M803.2 140.7L809.7 132.7M1000.1 398.9L1029.3 402.0M864.7 343.8L860.5 365.6M1022.8 285.1L1013.4 272.8M688.8 190.6L710.8 209.9M812.7 295.9L801.9 275.9M951.6 338.7L959.9 356.0M843.0 143.7L849.4 146.8M1070.5 396.7L1084.5 393.4M968.8 294.9L960.4 314.2M809.7 132.7L790.7 118.5M817.7 158.2L828.8 147.8M1082.3 303.1L1104.1 308.5M828.3 304.6L812.7 295.9M1121.3 321.4L1135.3 330.2M934.4 373.1L959.9 356.0M833.6 345.6L825.0 343.6M792.4 206.3L773.6 200.4M735.3 220.4L734.7 207.0M1037.5 259.6L1024.4 273.6M943.3 243.0L913.7 241.8M1029.3 402.0L1020.8 380.0M882.3 259.3L889.3 273.1M831.7 324.1L827.4 337.6M1000.1 398.9L1008.1 417.6M883.1 351.8L887.2 374.1M801.7 254.4L813.2 235.2M896.1 335.2L894.4 315.6M1099.8 293.6L1104.1 308.5M894.6 247.3L880.4 229.5M949.4 305.3L960.4 314.2M1022.8 285.1L1024.4 273.6M914.6 277.7L889.3 273.1M842.6 329.4L843.4 310.5M1008.0 378.2L1020.8 380.0M773.6 200.4L782.3 219.9M973.9 334.4L971.3 317.8M960.4 314.2L971.3 317.8M935.8 211.4L934.7 195.1M783.1 135.8L774.9 145.3M831.7 324.1L842.6 329.4M850.8 236.8L855.7 224.2M1053.5 313.6L1063.6 331.8M1063.7 368.5L1074.0 382.0M721.7 172.4L739.5 184.0M1167.4 322.8L1162.0 333.9M855.7 224.2L868.5 213.3M1071.3 301.7L1066.5 310.5M862.3 185.4L875.0 195.1M994.6 364.5L976.0 359.4M879.5 239.8L868.9 235.7M906.2 299.1L910.6 287.0M1051.0 361.0L1074.2 334.4M668.6 193.1L667.4 183.8M983.4 222.7L995.6 229.6M708.9 192.5L739.5 184.0M989.9 420.9L1001.2 427.4M907.7 366.5L926.2 366.6M909.7 199.1L910.3 181.3M757.5 139.1L754.5 139.6M958.2 329.8L942.8 327.9M710.8 209.9L708.9 192.5M840.5 283.4L844.7 298.0M756.3 248.0L742.1 236.5M1074.8 372.4L1074.0 382.0M688.8 190.6L688.4 176.7M1031.6 252.0L1024.4 273.6M913.7 241.8L934.2 221.1M721.6 204.5L739.5 184.0M1106.5 367.7L1098.3 375.3M1126.2 339.9L1111.3 346.8M1061.2 392.4L1056.1 383.0M934.2 221.1L935.8 211.4M1045.1 296.8L1060.2 303.7M782.9 298.3L795.9 300.2M987.4 319.0L971.3 317.8M1086.6 325.9L1111.5 334.3M1021.4 246.5L998.8 264.2M1000.6 282.7L1022.8 285.1M802.4 308.1L799.0 311.7M857.4 311.8L844.7 298.0M958.2 329.8L973.9 334.4M906.2 299.1L927.9 285.1M963.8 270.5L998.8 264.2M1068.7 271.0L1080.8 277.9M765.6 226.4L758.3 232.4M842.5 154.9L855.0 152.5M802.5 215.4L782.3 219.9M688.4 176.7L706.5 177.6M961.5 386.7L963.4 409.0M885.0 319.6L894.4 315.6M855.0 152.5L861.6 153.7M1119.6 302.6L1120.9 312.2M885.0 319.6L882.8 298.7M982.8 406.1L974.1 411.1M877.4 184.3L885.9 167.5M900.6 224.7L894.6 247.3M998.8 264.2L1013.4 272.8M783.1 135.8L790.7 118.5M872.1 358.4L883.1 351.8M680.1 215.2L667.9 208.3M965.8 220.8L983.4 222.7M770.5 262.0L764.6 287.6M886.9 196.0L894.1 209.3M754.5 139.6L766.1 131.8M888.6 223.5L894.1 209.3M956.1 255.5L964.8 248.4M802.5 215.4L801.2 225.2M883.1 351.8L902.1 351.6M961.5 386.7L934.4 373.1M828.3 304.6L844.7 298.0M677.3 182.8L679.9 177.5M824.6 186.9L830.3 178.3M1120.9 312.2L1104.1 308.5M880.4 229.5L884.7 212.4M906.4 259.5L889.3 273.1M831.7 324.1L809.4 321.0M979.9 394.9L961.5 386.7M735.3 220.4L713.1 240.8M1086.6 325.9L1101.4 320.3M1145.8 323.2L1154.1 318.4M1063.1 268.9L1068.7 271.0M935.5 295.3L949.4 305.3M1120.9 312.2L1141.4 312.9M819.1 130.9L809.7 132.7M747.0 263.9L754.2 270.6M804.4 152.7L815.3 147.2M976.0 359.4L973.7 375.1M749.6 153.6L743.1 147.8M841.0 176.3L872.1 165.7M951.6 338.7L966.2 349.5M824.6 186.9L805.4 197.6M1008.0 378.2L979.9 394.9M926.6 195.8L934.7 195.1M842.5 154.9L849.4 146.8M1029.3 402.0L1056.1 383.0M906.4 259.5L914.6 277.7M756.3 248.0L747.0 263.9M857.4 311.8L842.6 329.4M870.2 318.2L885.0 319.6M1031.6 252.0L1021.4 246.5M907.7 366.5L911.1 342.8M795.9 300.2L802.4 308.1M907.7 366.5L900.5 378.3M756.3 248.0L754.2 270.6M731.3 248.3L722.9 250.7M802.5 215.4L805.4 197.6M903.4 326.7L896.1 335.2M1037.5 259.6L1044.3 257.2M1086.3 354.6L1111.3 346.8M986.9 240.2L995.0 250.7M1056.2 405.3L1050.1 417.4M758.2 205.7L739.9 196.6M963.8 270.5L927.9 285.1M914.6 277.7L921.3 269.6M708.9 192.5L721.7 172.4M994.6 364.5L1000.6 356.7M935.5 295.3L963.8 270.5M1000.1 398.9L1020.8 380.0M721.7 172.4L731.2 157.8M787.2 286.1L801.9 275.9M980.7 299.3L971.3 317.8M802.4 308.1L809.4 321.0M721.6 204.5L708.9 192.5M752.8 173.0L767.2 171.4M935.5 295.3L906.2 299.1M1145.8 323.2L1149.6 340.4M804.4 152.7L803.2 140.7M841.0 176.3L851.1 189.8M884.7 212.4L875.0 195.1M1126.2 339.9L1121.3 321.4M877.4 184.3L872.1 165.7M828.8 147.8L842.5 154.9M872.1 358.4L860.5 365.6M1021.4 246.5L1019.9 243.4M855.0 152.5L849.4 146.8M760.0 164.4L767.2 171.4M785.2 178.3L806.9 173.4M783.1 135.8L778.1 124.7M1098.3 375.3L1083.5 368.5M965.8 220.8L971.2 215.8M829.5 226.4L819.9 212.7M827.4 337.6L816.1 333.2M749.6 153.6L762.2 148.2M677.3 182.8L667.4 183.8M841.4 199.8L819.9 212.7M894.6 190.6L898.1 174.4M926.2 366.6L933.4 348.7M1061.2 392.4L1070.5 396.7M1119.6 302.6L1129.6 305.5M743.2 162.2L739.5 184.0M831.7 324.1L816.1 333.2M831.8 292.4L844.7 298.0M983.3 350.4L966.2 349.5M943.9 353.7L951.6 338.7M785.2 178.3L805.4 197.6M804.4 152.7L783.1 135.8M1120.9 312.2L1129.6 305.5M996.0 414.0L1008.1 417.6M900.0 286.9L906.2 299.1M926.2 366.6L931.6 381.7M968.8 294.9L971.3 317.8M873.2 303.2L882.8 298.7M739.9 196.6L739.5 184.0M1111.5 334.3L1121.3 321.4M679.4 212.8L667.9 208.3M926.6 195.8L922.5 188.2M979.9 394.9L974.1 411.1M710.8 209.9L721.6 204.5M770.5 154.9L767.2 171.4M1020.3 367.8L1024.7 357.9M815.3 147.2L819.1 130.9M831.7 324.1L832.9 313.8M852.1 280.6L852.6 263.2M828.3 304.6L843.4 310.5M1045.1 296.8L1022.8 285.1M907.7 366.5L913.1 384.4M731.3 248.3L732.5 261.0M762.2 148.2L766.1 131.8M934.2 221.1L965.8 220.8M943.9 353.7L933.4 348.7M1106.5 367.7L1106.7 376.4M943.3 243.0L964.8 248.4M1074.0 382.0L1056.1 383.0M688.8 190.6L706.5 177.6M855.2 338.0L836.1 352.2M913.7 241.8L894.6 247.3M868.5 213.3L868.9 235.7M951.6 338.7L933.4 348.7M1040.7 375.9L1051.0 361.0M911.1 342.8L931.9 336.1M966.2 349.5L973.9 334.4M841.0 176.3L830.3 178.3M801.2 225.2L819.9 212.7M894.9 363.1L883.1 351.8M852.6 263.2L845.8 256.7M879.5 239.8L880.4 229.5M1000.8 312.2L983.4 308.3M704.9 218.9L713.1 240.8M896.1 335.2L902.1 351.6M850.8 236.8L836.9 237.2M986.9 240.2L995.6 229.6M984.3 329.6L971.3 317.8M859.6 199.7L841.4 199.8M1037.4 421.9L1038.0 424.6M787.2 286.1L764.6 287.6M758.2 205.7L739.5 184.0M872.1 358.4L873.8 370.0M994.6 364.5L973.7 375.1M1000.1 398.9L979.9 394.9M837.2 139.9L849.4 146.8M909.7 199.1L894.1 209.3M812.7 295.9L798.4 285.6M903.4 326.7L911.1 342.8M785.2 178.3L767.2 171.4M958.2 329.8L966.2 349.5M819.4 262.9L834.2 253.0M803.2 140.7L790.7 118.5M668.6 193.1L655.1 202.6M742.0 271.2L732.5 261.0M943.3 243.0L934.2 221.1M1000.1 398.9L982.8 406.1M986.9 240.2L965.8 220.8M916.5 222.7L894.1 209.3M943.3 243.0L941.6 252.7M668.6 193.1L679.4 212.8M963.8 270.5L964.8 248.4M1099.8 293.6L1105.2 291.7M916.5 222.7L913.7 241.8M852.1 280.6L844.7 298.0M1074.8 372.4L1083.5 368.5M1066.5 310.5L1053.5 313.6M1045.1 296.8L1037.2 274.9M1000.8 312.2L987.4 319.0M922.5 188.2L934.7 195.1M1063.7 368.5L1074.2 334.4M1050.1 417.4L1038.0 424.6M1041.7 334.2L1024.7 357.9M820.9 177.9L806.9 173.4M679.4 212.8L680.1 215.2M935.5 295.3L927.9 285.1M1051.0 361.0L1063.6 331.8M743.2 162.2L721.7 172.4M1071.3 301.7L1080.8 277.9M774.9 145.3L770.5 154.9M820.9 177.9L830.3 178.3M1008.1 417.6L1026.0 431.7M1038.0 424.6L1026.0 431.7M900.0 286.9L910.6 287.0M841.0 176.3L841.4 199.8M984.3 329.6L983.3 350.4M1000.6 282.7L1013.4 272.8M951.6 338.7L931.9 336.1M943.3 243.0L956.1 255.5M762.2 148.2L754.5 139.6M894.6 190.6L894.1 209.3M1106.5 367.7L1117.2 367.1M824.6 186.9L817.2 203.0M783.1 135.8L803.2 140.7M1037.4 421.9L1029.3 402.0M787.5 237.4L801.7 254.4M819.4 262.9L840.5 283.4M1071.3 301.7L1060.2 303.7M743.2 162.2L731.2 157.8M1007.8 236.5L1019.9 243.4M1063.1 268.9L1048.8 273.9M824.0 249.7L834.2 253.0M859.3 328.4L842.6 329.4M812.9 313.4L809.4 321.0M742.1 236.5L758.3 232.4M916.5 222.7L909.7 199.1M927.9 285.1L941.6 252.7M802.5 215.4L817.2 203.0M965.8 220.8L947.5 209.5M950.8 402.8L938.3 396.7M758.2 205.7L765.6 226.4M857.4 311.8L870.2 318.2M986.9 240.2L983.4 222.7M655.2 190.6L655.1 202.6M983.3 350.4L973.9 334.4M979.9 394.9L982.8 406.1M1037.4 421.9L1050.1 417.4M787.2 286.1L775.9 295.9M1101.4 320.3L1120.9 312.2M841.4 199.8L851.1 189.8M1045.1 296.8L1048.8 273.9M692.5 171.3L705.0 165.0M1121.3 321.4L1141.4 312.9M958.2 329.8L951.6 338.7M1126.2 339.9L1127.7 357.8M828.3 304.6L832.9 313.8M1082.3 303.1L1093.0 284.8M1037.4 421.9L1008.1 417.6M1074.0 382.0L1070.5 396.7M1086.6 325.9L1066.5 310.5M974.1 411.1L976.0 415.1M1098.3 375.3L1106.7 376.4M782.9 298.3L775.9 295.9M966.2 349.5L976.0 359.4M963.8 270.5L956.1 255.5M859.6 199.7L875.0 195.1M1126.2 339.9L1143.4 336.1M968.8 294.9L980.7 299.3M979.9 394.9L973.7 375.1M817.7 158.2L806.9 173.4M900.6 224.7L913.7 241.8M942.8 327.9L951.6 338.7M1066.5 310.5L1063.6 331.8M965.5 285.7L980.7 299.3M1045.1 296.8L1033.5 305.0M679.4 212.8L691.8 222.8M829.5 226.4L855.7 224.2M1054.1 335.1L1046.3 352.0M871.9 288.5L844.7 298.0M852.1 280.6L871.9 288.5M688.8 190.6L679.4 212.8M1071.3 301.7L1068.7 271.0M1000.6 282.7L980.7 299.3M942.8 327.9L949.4 305.3M913.7 241.8L913.6 252.8M850.8 236.8L869.0 253.5M777.0 234.8L758.3 232.4M1063.7 368.5L1086.3 354.6M801.7 254.4L801.9 275.9M833.6 345.6L855.2 338.0M1034.6 316.5L1041.7 334.2M841.4 199.8L855.7 224.2M1041.7 334.2L1046.3 352.0M843.0 143.7L837.2 139.9M1074.8 372.4L1086.1 384.6M1000.8 312.2L1006.2 296.9M865.7 265.5L889.3 273.1M756.3 248.0L758.3 232.4M1008.0 378.2L994.6 364.5M887.9 169.6L894.6 190.6M812.9 313.4L812.7 295.9M1045.1 296.8L1053.5 313.6M886.9 196.0L877.4 184.3M841.4 199.8L830.3 178.3M801.2 225.2L782.3 219.9M1074.2 334.4L1066.5 310.5M1074.8 372.4L1086.3 354.6M754.2 270.6L770.5 262.0M777.0 234.8L765.6 226.4M801.2 225.2L798.3 238.2M833.6 345.6L836.1 352.2M964.8 248.4L995.0 250.7M859.3 328.4L868.1 335.3M1051.0 361.0L1056.1 383.0M762.2 148.2L757.5 139.1M1056.2 405.3L1056.1 383.0M1119.6 302.6L1104.1 308.5M1093.0 284.8L1105.2 291.7M873.8 370.0L860.5 365.6M1126.2 339.9L1138.6 349.1M1048.8 273.9L1060.2 303.7M766.1 131.8L778.1 124.7M1086.6 325.9L1074.2 334.4M787.2 286.1L798.4 285.6M1120.9 312.2L1121.3 321.4M900.0 286.9L892.4 294.1M1111.5 334.3L1111.3 346.8M819.4 262.9L824.0 249.7M873.2 303.2L885.0 319.6M1086.1 384.6L1084.5 393.4M1000.8 312.2L1000.6 356.7M778.1 124.7L790.7 118.5M787.7 162.3L770.5 154.9M1106.5 367.7L1111.3 346.8M1167.4 322.8L1174.4 327.6M842.5 154.9L830.3 178.3M803.2 140.7L815.3 147.2M1056.2 405.3L1029.3 402.0M872.1 165.7L885.9 167.5M852.1 280.6L865.7 265.5M752.8 173.0L739.5 184.0M1174.4 327.6L1162.0 333.9M668.6 193.1L655.2 190.6M862.3 185.4L872.1 165.7M983.3 350.4L976.0 359.4M1086.3 354.6L1083.5 368.5M824.6 186.9L807.3 184.2M996.0 414.0L982.8 406.1M914.6 277.7L910.6 287.0M1033.5 305.0L1034.6 316.5M1111.5 334.3L1101.4 320.3M1061.2 392.4L1074.0 382.0M787.3 304.0L775.9 295.9M938.6 388.0L925.7 390.5M735.3 220.4L758.3 232.4M754.2 270.6L742.0 271.2M956.1 255.5L941.6 252.7M1135.3 330.2L1141.4 312.9M942.8 327.9L931.9 336.1M1106.7 376.4L1096.0 385.3M842.6 329.4L832.9 313.8M1008.0 378.2L1000.1 398.9M773.6 200.4L767.2 171.4M787.7 162.3L774.9 145.3M845.8 256.7L834.2 253.0M911.1 342.8L933.4 348.7M677.3 182.8L668.6 193.1M1096.0 385.3L1084.5 393.4M776.9 255.1L791.5 259.8M1086.3 354.6L1074.2 334.4M864.7 343.8L855.2 338.0M927.9 285.1L910.6 287.0M1048.8 273.9L1068.7 271.0M862.3 185.4L851.1 189.8M1082.3 303.1L1066.5 310.5M824.6 186.9L841.4 199.8M713.1 240.8L703.2 230.9M843.4 310.5L832.9 313.8M807.3 184.2L806.9 173.4M850.8 236.8L868.9 235.7M914.6 277.7L927.9 285.1M819.4 262.9L831.8 292.4M777.0 234.8L776.9 255.1M1040.7 375.9L1020.3 367.8M852.6 263.2L869.0 253.5M927.9 285.1L921.3 269.6M946.8 202.0L959.0 208.9M1071.3 301.7L1082.3 303.1M1006.2 296.9L1022.8 285.1M1061.2 392.4L1056.2 405.3M731.3 248.3L756.3 248.0M819.9 212.7L813.2 235.2M1000.6 356.7L1020.3 367.8M820.9 177.9L824.6 186.9M1104.1 308.5L1117.4 298.6M756.3 248.0L776.9 255.1M934.2 221.1L947.5 209.5M841.0 176.3L842.5 154.9M802.5 215.4L792.4 206.3M859.3 328.4L857.4 311.8M859.3 328.4L870.2 318.2M903.4 326.7L931.9 336.1M913.7 241.8L921.9 257.5M1070.5 396.7L1061.6 409.4M747.0 263.9L732.5 261.0M984.3 329.6L973.9 334.4M1086.1 384.6L1096.0 385.3M1145.8 323.2L1141.4 312.9M776.9 255.1L770.5 262.0M1063.1 268.9L1056.5 264.1M1021.4 246.5L1013.4 272.8M1074.0 382.0L1084.5 393.4M994.6 364.5L979.9 394.9M743.2 162.2L743.1 147.8M1086.6 325.9L1086.3 354.6M809.7 132.7L815.4 122.9M976.0 359.4L959.9 356.0M872.1 165.7L873.8 160.6M760.0 164.4L752.8 173.0M785.2 178.3L807.3 184.2M1060.2 303.7L1068.7 271.0M721.7 172.4L717.9 159.7M1126.2 339.9L1135.3 330.2M1054.1 335.1L1053.5 313.6M795.9 300.2L787.3 304.0" stroke="#e6e6e6" stroke-width="0.6" fill="none" opacity="0.8"/></g>
<polygon points="825.0,134.0 1137.5,310.0 1112.0,317.5 1075.0,332.5 1052.0,336.0 900.0,248.0 860.0,229.0 847.5,228.8 841.2,225.0 840.0,217.5 830.0,205.0 810.0,193.8 793.8,182.5 793.8,166.2 802.5,162.5 820.0,158.8 826.2,150.0" fill="#d9d9d9" stroke="#d9d9d9" stroke-width="1.6"/>
<polygon points="887,252 1047,337 1045,341 922,316 905,290" fill="#000"/>
<path d="M887.0 253.0L877.1 287.0M896.4 258.0L887.1 290.2M905.8 263.0L897.0 293.5M915.2 268.0L906.9 296.7M924.6 273.0L916.8 299.9M934.1 278.0L926.7 303.2M943.5 283.0L936.7 306.4M952.9 288.0L946.6 309.6M962.3 293.0L956.5 312.9M971.7 298.0L966.4 316.1M981.1 303.0L976.4 319.4M990.5 308.0L986.3 322.6M999.9 313.0L996.2 325.8M1009.4 318.0L1006.1 329.1M1018.8 323.0L1016.1 332.3M1028.2 328.0L1026.0 335.5M1037.6 333.0L1035.9 338.8M1047.0 338.0L1045.8 342.0" stroke="#fff" stroke-width="0.6" stroke-dasharray="2,1.5" fill="none"/>
<path d="M817.5,238.6 C835,234 860,235 880,244 L1047,339" stroke="#fff" stroke-width="1.6" fill="none"/>
<path d="M843.75,359 C860,352 885,340 913.75,322.8" stroke="#fff" stroke-width="2.2" fill="none"/>
<path d="M936,305 L945,283 M955,313 L963,292" stroke="#fff" stroke-width="1.2"/>
<path d="M1050,336 C1058,342 1056,352 1045,360 C1036,366 1030,370 1025,378 C1019,388 1016,396 1017.5,405 C1018,412 1020,418 1022.5,425" stroke="#ddd" stroke-width="7" fill="none"/><path d="M1050,336 C1058,342 1056,352 1045,360 C1036,366 1030,370 1025,378 C1019,388 1016,396 1017.5,405 C1018,412 1020,418 1022.5,425" stroke="#000" stroke-width="5.4" fill="none"/>
<path d="M767,137 C762,150 763,170 772,183 C778,193 785,200 790,205 C800,215 810,222 843,236" stroke="#ddd" stroke-width="6.5" fill="none"/><path d="M767,137 C762,150 763,170 772,183 C778,193 785,200 790,205 C800,215 810,222 843,236" stroke="#000" stroke-width="5" fill="none"/>
<polygon points="913.8,322.8 931.2,314.0 951.0,325.0 934.5,333.8" fill="#e6e6e6"/>
<circle cx="893" cy="275.3" r="2.8" fill="#e00"/><circle cx="963" cy="333.1" r="2.8" fill="#e00"/>
<path d="M826,134 C930,150 1080,200 1135,290 C1145,310 1150,335 1152,356" stroke="#f5b324" stroke-width="1.4" fill="none" stroke-dasharray="5,3.5"/>
<path d="M1146,356 L1158,356 L1152,372 Z" fill="#f5b324"/>
<circle cx="1092.5" cy="200" r="5.5" stroke="#f5b324" stroke-width="1" fill="none"/><circle cx="1092.5" cy="200" r="8" stroke="#f5b324" stroke-width="1.6" fill="none" stroke-dasharray="0.8,1.2"/>
<g stroke="#cfcfcf" stroke-width="0.6" stroke-dasharray="1.5,2" fill="none">
<path d="M897.5,170V250"/>
<path d="M965,180V290"/>
<path d="M1010,175V310"/>
<path d="M1035,170V310"/>
<path d="M1150,175V350"/>
<path d="M740,250V355"/>
<path d="M761.5,270V372"/>
<path d="M775,285V372"/>
<path d="M787.5,295V372"/>
<path d="M801,305V372"/>
<path d="M865,370V405"/>
</g>
<g style="font-family:'Liberation Sans',sans-serif;font-size:4.2px;fill:#777">
<text transform="translate(899,162) rotate(-90)">Nástřešní</text>
<text transform="translate(967,165) rotate(-90)">Nástřešní východ</text>
<text transform="translate(1012,160) rotate(-90)">Nástřešní východ</text>
<text transform="translate(1037,162) rotate(-90)">směr Český Jiřetín</text>
<text transform="translate(1152,160) rotate(-90)">směr Klíny</text>
<text transform="translate(742,425) rotate(-90)">areál bývalé lesnické školy</text>
<text transform="translate(763,425) rotate(-90)">směr Český Jiřetín</text>
<text transform="translate(777,425) rotate(-90)">směr Hrob</text>
<text transform="translate(789,425) rotate(-90)">dům správce přehrady</text>
<text transform="translate(803,425) rotate(-90)">parkovací stání – 2x místa</text>
<text transform="translate(867,425) rotate(-90)">trafo stanice</text>
</g>
<path d="M738.5,354 h3 l-1.5,3z M760,372 h3 l-1.5,3z M1148.5,172 h3 l-1.5,-3z" fill="#222"/>
<g transform="translate(0,709)">
<defs><clipPath id="ax2clip"><polygon points="643.0,197.5 665.0,185.0 690.0,172.5 710.0,162.5 727.5,156.2 740.0,150.0 757.5,137.5 772.5,127.5 790.0,118.8 803.8,114.5 815.0,122.5 825.0,133.0 1137.5,310.0 1145.0,315.5 1177.5,326.0 1150.0,340.0 1125.0,360.0 1100.0,382.5 1075.0,400.0 1050.0,417.5 1018.8,436.0 900.0,378.0 883.8,373.0 863.4,366.9 845.2,358.8 831.0,348.6 818.8,338.4 810.6,322.2 802.5,314.0 784.2,301.9 770.0,291.7 753.8,279.5 739.5,269.4 729.4,257.2 717.2,245.0 701.0,228.8 680.6,215.5 664.4,206.4"/></clipPath></defs>
<polygon points="643.0,197.5 665.0,185.0 690.0,172.5 710.0,162.5 727.5,156.2 740.0,150.0 757.5,137.5 772.5,127.5 790.0,118.8 803.8,114.5 815.0,122.5 825.0,133.0 1137.5,310.0 1145.0,315.5 1177.5,326.0 1150.0,340.0 1125.0,360.0 1100.0,382.5 1075.0,400.0 1050.0,417.5 1018.8,436.0 900.0,378.0 883.8,373.0 863.4,366.9 845.2,358.8 831.0,348.6 818.8,338.4 810.6,322.2 802.5,314.0 784.2,301.9 770.0,291.7 753.8,279.5 739.5,269.4 729.4,257.2 717.2,245.0 701.0,228.8 680.6,215.5 664.4,206.4" fill="#000"/>
<g clip-path="url(#ax2clip)"><path d="M1004.1 424.3L1013.7 433.6M762.4 268.7L753.4 279.3M655.2 190.6L655.1 202.6M939.7 376.4L954.9 379.6M907.5 292.2L919.1 298.7M1029.1 258.7L1009.2 266.2M859.7 351.6L851.7 335.2M898.1 174.4L910.3 181.3M1111.5 336.5L1098.5 332.3M877.4 279.5L882.4 259.7M867.3 199.1L861.4 226.7M1014.4 425.8L1004.1 424.3M1074.0 334.2L1061.6 349.0M806.8 201.0L824.9 190.8M862.2 278.2L839.6 265.0M1093.7 370.5L1106.7 376.4M1054.9 267.2L1044.3 257.2M1061.6 409.4L1050.1 417.4M848.7 163.8L856.2 155.4M966.8 308.2L947.5 300.4M902.5 332.9L908.3 314.7M781.5 241.3L797.5 225.1M1167.4 322.8L1162.0 333.9M660.7 198.9L655.1 202.6M682.5 198.4L680.1 215.2M940.0 363.6L965.0 358.9M680.1 215.2L667.9 208.3M983.1 350.4L989.7 368.9M1102.5 294.6L1093.0 284.8M1027.1 373.2L1007.0 370.8M1160.6 330.1L1154.1 318.4M983.4 222.7L995.6 229.6M947.5 300.4L937.5 303.9M826.1 172.3L819.5 179.9M1079.5 291.0L1072.1 324.1M984.6 410.8L982.9 388.3M699.6 179.5L705.0 165.0M759.1 215.8L740.9 208.3M1041.7 408.4L1038.6 386.2M809.4 146.1L803.3 117.1M932.4 207.1L932.8 226.0M918.9 374.5L940.0 363.6M847.7 286.6L862.2 278.2M969.6 227.4L971.2 215.8M918.9 374.5L907.2 372.0M932.6 195.6L922.5 188.2M1063.3 402.1L1053.3 402.8M816.4 299.4L797.3 277.2M1027.1 373.2L1026.7 351.7M711.0 224.6L703.2 230.9M1072.1 324.1L1087.9 318.5M760.9 166.8L743.1 147.8M769.8 172.6L771.1 160.7M939.8 319.3L947.5 300.4M876.0 215.6L876.1 231.6M1068.7 271.0L1080.8 277.9M808.0 216.5L806.8 201.0M859.2 309.8L850.3 318.6M879.9 309.6L859.2 309.8M745.7 233.6L722.9 250.7M685.4 176.1L686.7 188.3M1040.2 373.7L1051.4 382.6M1104.8 371.3L1106.7 376.4M786.6 144.0L780.1 154.3M1160.6 330.1L1149.6 340.4M892.7 203.6L904.2 221.2M762.4 268.7L764.6 287.6M954.1 211.4L947.8 225.4M892.7 203.6L879.3 183.6M780.1 154.3L766.1 131.8M754.5 139.6L766.1 131.8M716.7 240.0L711.0 224.6M863.3 335.6L859.2 309.8M1048.1 341.7L1061.6 349.0M831.2 156.5L841.4 143.7M811.5 241.6L781.5 241.3M876.0 215.6L900.2 233.8M771.1 160.7L754.5 139.6M954.1 367.4L975.7 366.7M778.4 219.5L797.5 225.1M942.9 237.5L947.8 225.4M766.1 131.8L778.1 124.7M954.1 367.4L940.0 363.6M899.7 265.1L907.5 292.2M887.9 372.8L873.8 370.0M1079.5 291.0L1061.9 319.3M761.3 254.9L777.0 257.7M709.8 210.0L699.6 179.5M1040.2 373.7L1051.8 371.5M879.9 309.6L896.6 303.0M876.0 215.6L904.2 221.2M1167.4 322.8L1174.4 327.6M775.6 267.9L762.4 268.7M1031.3 335.1L1026.7 351.7M932.4 207.1L946.8 202.0M849.3 352.2L851.7 335.2M1029.1 258.7L1021.3 248.1M1095.1 303.5L1087.9 318.5M996.6 337.1L983.1 350.4M1039.5 290.0L1007.4 289.2M728.0 231.0L740.9 208.3M695.1 206.3L682.5 198.4M759.1 215.8L745.7 233.6M954.9 379.6L938.3 396.7M984.6 410.8L1004.1 424.3M827.8 265.3L796.5 266.1M1008.1 244.8L989.2 231.5M772.7 281.3L791.2 290.2M820.9 219.6L806.8 201.0M1095.5 343.2L1093.7 370.5M781.2 196.1L778.4 219.5M1051.4 382.6L1069.6 383.9M866.1 171.1L867.3 199.1M1061.9 319.3L1048.1 341.7M902.5 332.9L919.6 346.0M864.9 292.4L862.2 278.2M783.6 169.4L776.0 182.4M1039.5 290.0L1068.7 271.0M942.4 216.5L946.8 202.0M896.6 303.0L892.9 313.8M1029.1 258.7L1031.8 269.6M1038.6 386.2L1014.4 405.5M843.3 222.9L831.5 216.9M1095.1 303.5L1102.5 294.6M972.9 316.8L962.7 335.9M1074.0 334.2L1081.9 342.4M855.4 243.0L843.3 222.9M834.0 350.7L825.0 343.6M831.8 304.7L850.3 318.6M671.6 185.1L679.9 177.5M695.1 206.3L680.1 215.2M830.5 241.4L839.6 265.0M1032.1 422.4L1026.0 431.7M982.6 301.0L978.5 291.5M848.7 163.8L849.4 146.8M859.7 351.6L865.3 367.2M808.0 216.5L820.9 219.6M1021.9 415.5L1014.4 425.8M781.2 196.1L806.8 201.0M1014.4 425.8L1013.7 433.6M1006.5 324.3L992.8 327.1M1053.3 402.8L1061.6 409.4M1006.5 324.3L1026.7 351.7M816.6 321.4L816.1 333.2M902.5 332.9L892.9 313.8M1074.0 334.2L1048.1 341.7M1125.0 357.4L1127.7 357.8M759.1 215.8L781.2 196.1M837.2 139.9L849.4 146.8M888.7 336.7L875.9 335.6M1002.9 234.5L1008.1 244.8M831.8 304.7L847.7 286.6M900.1 245.6L900.2 233.8M919.6 346.0L907.2 372.0M753.6 201.0L754.4 179.3M989.2 231.5L995.6 229.6M835.1 166.9L848.7 163.8M1038.6 386.2L1053.3 402.8M859.7 351.6L875.9 335.6M983.1 350.4L965.0 358.9M1074.0 334.2L1087.9 318.5M786.6 144.0L766.1 131.8M932.8 226.0L947.8 225.4M835.1 166.9L826.1 172.3M954.9 379.6L950.8 402.8M739.9 159.5L743.1 147.8M694.3 219.0L691.8 222.8M890.6 170.4L898.1 174.4M904.2 221.2L900.2 233.8M922.5 188.2L934.7 195.1M859.7 351.6L863.3 335.6M728.0 231.0L709.8 210.0M939.0 270.0L925.9 290.8M1095.1 303.5L1093.0 284.8M1006.5 324.3L988.7 316.6M722.9 250.7L713.1 240.8M863.3 335.6L851.7 335.2M671.6 185.1L682.5 198.4M940.0 363.6L919.6 346.0M759.9 235.2L781.5 241.3M1107.1 305.7L1105.6 318.2M864.9 292.4L859.2 309.8M900.1 245.6L942.9 237.5M1038.0 424.6L1026.0 431.7M671.6 185.1L686.7 188.3M811.5 241.6L820.9 219.6M1098.5 332.3L1115.5 325.7M966.8 308.2L961.6 325.0M1063.3 402.1L1073.0 401.4M1060.9 378.4L1069.6 383.9M892.7 203.6L909.1 206.4M809.4 146.1L798.2 157.1M866.1 171.1L885.9 167.5M811.5 241.6L830.5 241.4M1026.0 431.7L1013.7 433.6M1061.9 319.3L1045.9 323.2M803.3 117.1L815.4 122.9M937.5 303.9L919.1 298.7M832.6 325.5L850.3 318.6M775.6 267.9L777.0 257.7M831.2 156.5L825.0 133.0M840.2 278.9L839.6 265.0M760.9 166.8L739.9 159.5M1007.8 236.5L1019.9 243.4M1115.5 325.7L1135.2 312.8M671.6 185.1L667.4 183.8M909.1 206.4L932.8 226.0M820.9 219.6L830.5 241.4M809.4 146.1L815.4 122.9M771.1 160.7L780.1 154.3M966.8 308.2L968.0 279.2M966.6 239.9L969.6 227.4M1032.1 422.4L1038.0 424.6M859.7 351.6L849.3 352.2M879.3 183.6L867.3 199.1M840.2 278.9L816.6 276.5M831.5 205.5L824.9 190.8M950.8 402.8L938.3 396.7M1014.4 425.8L1026.0 431.7M825.3 333.8L825.0 343.6M1079.5 291.0L1093.0 284.8M1105.6 318.2L1115.5 325.7M879.3 183.6L898.1 174.4M841.4 143.7L849.4 146.8M856.2 155.4L849.4 146.8M809.4 146.1L826.1 172.3M939.8 319.3L961.6 325.0M796.5 266.1L797.3 277.2M1127.3 338.7L1125.0 357.4M978.5 291.5L993.0 302.2M685.4 176.1L699.6 179.5M1001.3 279.2L993.0 302.2M772.7 281.3L762.4 268.7M1039.5 290.0L1014.8 312.5M694.3 219.0L695.1 206.3M806.6 302.6L816.4 299.4M694.3 219.0L703.2 230.9M900.1 245.6L882.4 259.7M992.8 327.1L988.7 316.6M738.7 172.6L739.9 159.5M1001.3 279.2L974.0 260.7M974.0 260.7L1008.1 244.8M682.5 198.4L686.7 188.3M1021.9 415.5L1026.0 431.7M939.7 376.4L925.7 390.5M831.8 304.7L859.2 309.8M939.0 270.0L943.1 256.9M775.6 267.9L797.3 277.2M899.7 265.1L900.1 245.6M1068.8 359.2L1061.6 349.0M972.9 316.8L982.6 301.0M966.6 239.9L942.9 237.5M962.7 335.9L965.0 358.9M855.4 243.0L876.1 231.6M760.9 166.8L771.1 160.7M769.8 172.6L760.9 166.8M789.9 124.5L809.4 146.1M1029.1 258.7L1044.3 257.2M877.4 279.5L865.8 267.4M843.3 222.9L831.5 205.5M892.9 313.8L908.3 314.7M939.8 319.3L951.1 333.7M831.8 304.7L816.6 321.4M816.6 276.5L833.0 291.2M692.5 171.3L705.0 165.0M909.1 206.4L910.2 193.1M1084.5 393.4L1061.6 409.4M907.2 372.0L913.1 384.4M850.3 318.6L851.7 335.2M1095.1 303.5L1107.1 305.7M740.9 208.3L731.2 187.9M1014.4 405.5L1014.4 425.8M954.1 367.4L965.0 358.9M984.6 410.8L963.4 409.0M942.4 216.5L947.8 225.4M667.4 207.1L682.5 198.4M1093.0 284.8L1105.2 291.7M848.7 163.8L866.1 171.1M855.4 243.0L861.4 226.7M879.3 183.6L885.9 167.5M939.8 319.3L937.5 303.9M769.8 172.6L754.4 179.3M841.4 143.7L837.2 139.9M773.6 229.3L797.5 225.1M975.7 366.7L965.0 358.9M887.9 372.8L907.2 372.0M1007.0 370.8L1014.4 405.5M830.5 241.4L840.9 241.1M1008.1 244.8L1019.9 243.4M1107.1 305.7L1115.5 325.7M1001.3 279.2L1007.4 289.2M872.8 162.0L885.9 167.5M778.1 124.7L790.7 118.5M1135.2 312.8L1141.4 312.9M1127.3 338.7L1127.7 357.8M783.6 169.4L771.1 160.7M908.3 314.7L929.5 318.7M806.6 302.6L799.0 311.7M1174.4 327.6L1162.0 333.9M1032.1 422.4L1041.7 408.4M1060.9 378.4L1051.4 382.6M736.2 259.2L722.9 250.7M1014.4 405.5L996.7 379.3M1007.0 370.8L989.7 368.9M787.3 304.0L775.9 295.9M951.1 333.7L919.6 346.0M876.1 231.6L900.1 245.6M1095.5 343.2L1117.2 367.1M832.6 325.5L825.3 333.8M939.0 270.0L950.6 269.7M1048.1 341.7L1031.3 335.1M879.9 309.6L875.9 335.6M728.0 231.0L745.7 233.6M909.1 206.4L932.4 207.1M1068.8 359.2L1079.9 360.3M1068.8 359.2L1069.6 383.9M879.3 183.6L866.1 171.1M954.1 211.4L971.2 215.8M1031.8 269.6L1009.2 266.2M783.6 169.4L819.5 179.9M877.4 279.5L862.2 278.2M1096.0 385.3L1084.5 393.4M863.3 335.6L875.9 335.6M864.9 292.4L847.7 286.6M1029.1 258.7L1032.1 250.3M925.9 290.8L919.1 298.7M731.2 187.9L717.9 159.7M864.9 292.4L879.9 309.6M789.9 124.5L803.3 117.1M872.8 162.0L866.1 171.1M1060.9 378.4L1068.8 359.2M713.1 240.8L703.2 230.9M840.9 241.1L839.6 265.0M1115.5 325.7L1129.6 305.5M898.3 282.9L907.5 292.2M1031.3 335.1L1045.9 323.2M984.6 410.8L976.0 415.1M1095.1 303.5L1105.6 318.2M682.5 198.4L660.7 198.9M1087.9 318.5L1081.9 342.4M759.1 215.8L778.4 219.5M806.6 302.6L797.3 277.2M880.8 352.6L873.8 370.0M865.3 367.2L880.8 352.6M954.7 281.3L925.9 290.8M831.8 304.7L833.0 291.2M1008.1 244.8L1007.8 236.5M699.6 179.5L692.5 171.3M783.6 169.4L806.8 201.0M843.3 222.9L861.4 226.7M856.2 155.4L866.1 171.1M791.2 290.2L797.3 277.2M1111.5 336.5L1115.5 325.7M1081.9 342.4L1061.6 349.0M947.5 300.4L925.9 290.8M847.7 286.6L859.2 309.8M1127.3 338.7L1138.6 349.1M695.1 206.3L686.7 188.3M964.9 384.3L950.8 402.8M1039.5 290.0L1031.8 269.6M686.7 188.3L699.6 179.5M855.4 243.0L882.4 259.7M711.0 224.6L713.1 240.8M806.6 302.6L809.4 321.0M1107.1 305.7L1129.6 305.5M996.6 337.1L1006.5 324.3M899.7 265.1L925.9 290.8M1014.4 405.5L993.3 388.7M1045.9 323.2L1014.8 312.5M835.1 166.9L824.9 190.8M840.2 278.9L862.2 278.2M1039.5 290.0L1012.7 275.9M759.1 215.8L759.9 235.2M951.1 333.7L961.6 325.0M667.4 207.1L660.7 198.9M939.7 376.4L954.1 367.4M1104.8 371.3L1117.2 367.1M982.9 388.3L963.4 409.0M1160.6 330.1L1162.0 333.9M1068.8 359.2L1081.9 342.4M909.1 206.4L904.2 221.2M1007.4 289.2L1014.8 312.5M1079.5 291.0L1087.9 318.5M889.7 267.3L899.7 265.1M1079.9 360.3L1069.6 383.9M1069.6 383.9L1073.0 401.4M954.1 211.4L959.0 208.9M918.9 374.5L919.6 346.0M864.9 292.4L877.4 279.5M943.1 256.9L900.1 245.6M909.1 206.4L921.4 194.1M731.2 187.9L754.4 179.3M728.0 231.0L722.9 250.7M887.9 372.8L887.2 374.1M982.6 301.0L993.0 302.2M946.8 202.0L959.0 208.9M783.6 169.4L780.1 154.3M694.3 219.0L709.8 210.0M819.5 179.9L798.2 157.1M939.8 319.3L919.3 335.8M772.7 281.3L797.3 277.2M761.3 254.9L745.7 233.6M1039.5 290.0L1061.9 319.3M1045.6 352.8L1026.7 351.7M761.3 254.9L736.2 259.2M984.6 410.8L988.6 421.3M775.6 267.9L796.5 266.1M993.0 302.2L1014.8 312.5M1040.2 373.7L1038.6 386.2M932.4 207.1L934.7 195.1M1004.1 424.3L988.6 421.3M954.1 211.4L942.4 216.5M738.7 172.6L730.9 154.5M780.1 129.7L778.1 124.7M1021.9 415.5L1041.7 408.4M867.3 199.1L857.2 197.1M962.7 335.9L992.8 327.1M1081.9 342.4L1079.9 360.3M1106.7 376.4L1096.0 385.3M840.2 278.9L827.8 265.3M1095.5 343.2L1104.8 371.3M877.4 279.5L896.6 303.0M832.6 325.5L851.7 335.2M1032.1 250.3L1044.3 257.2M761.3 254.9L759.9 235.2M1039.5 290.0L1054.9 267.2M964.9 384.3L963.4 409.0M695.1 206.3L709.8 210.0M781.5 241.3L777.0 257.7M866.1 171.1L857.2 197.1M1093.7 370.5L1084.5 393.4M879.3 183.6L890.6 170.4M966.8 308.2L978.5 291.5M1001.3 279.2L1009.2 266.2M1107.1 305.7L1117.4 298.6M1054.9 267.2L1068.7 271.0M865.3 367.2L860.5 365.6M1063.3 402.1L1069.6 383.9M1051.8 371.5L1045.6 352.8M932.8 226.0L900.1 245.6M1051.8 371.5L1060.9 378.4M786.6 144.0L798.2 157.1M964.9 384.3L982.9 388.3M1111.5 336.5L1117.2 367.1M859.2 309.8L875.9 335.6M754.4 179.3L776.0 182.4M1045.6 352.8L1061.6 349.0M1007.4 289.2L993.0 302.2M1008.1 244.8L1009.2 266.2M1002.9 234.5L989.2 231.5M1117.4 298.6L1129.6 305.5M919.3 335.8L902.5 332.9M1012.7 275.9L1007.4 289.2M834.0 350.7L836.1 352.2M1069.6 383.9L1084.5 393.4M968.0 279.2L978.5 291.5M731.2 187.9L699.6 179.5M898.3 282.9L896.6 303.0M772.7 281.3L764.6 287.6M902.5 332.9L880.8 352.6M773.6 229.3L778.4 219.5M887.9 372.8L900.5 378.3M882.4 259.7L865.8 267.4M804.0 114.7L815.4 122.9M966.8 308.2L982.6 301.0M993.3 388.7L996.7 379.3M716.7 240.0L728.0 231.0M786.6 144.0L809.4 146.1M993.0 302.2L1006.5 324.3M773.6 229.3L781.5 241.3M806.4 229.9L797.5 225.1M888.7 336.7L892.9 313.8M1021.3 248.1L1032.1 250.3M667.4 207.1L655.1 202.6M1041.7 408.4L1038.0 424.6M728.0 231.0L711.0 224.6M705.0 165.0L717.9 159.7M830.5 241.4L831.5 216.9M989.2 231.5L983.4 222.7M887.9 372.8L880.8 352.6M907.5 292.2L908.3 314.7M1021.9 415.5L1032.1 422.4M989.7 368.9L996.7 379.3M1004.1 424.3L1001.2 427.4M848.7 163.8L857.2 197.1M762.4 268.7L742.0 271.2M929.5 318.7L919.1 298.7M738.7 172.6L717.9 159.7M826.1 172.3L798.2 157.1M907.5 292.2L925.9 290.8M816.6 276.5L816.4 299.4M1154.1 318.4L1149.6 340.4M738.7 172.6L731.2 187.9M939.7 376.4L940.0 363.6M773.6 229.3L759.9 235.2M1132.9 324.9L1154.1 318.4M739.9 159.5L730.9 154.5M685.4 176.1L692.5 171.3M890.6 170.4L885.9 167.5M806.8 201.0L797.5 225.1M781.2 196.1L753.6 201.0M816.6 321.4L806.6 302.6M760.9 166.8L754.4 179.3M1054.9 267.2L1056.5 264.1M1125.0 357.4L1111.5 336.5M892.7 203.6L910.2 193.1M808.0 216.5L806.4 229.9M816.6 321.4L816.4 299.4M682.5 198.4L667.9 208.3M896.6 303.0L907.5 292.2M939.7 376.4L918.9 374.5M740.9 208.3L753.6 201.0M1102.5 294.6L1105.2 291.7M1027.1 373.2L1040.2 373.7M855.4 243.0L839.6 265.0M803.3 117.1L804.0 114.7M1160.6 330.1L1167.4 322.8M811.5 241.6L796.5 266.1M834.0 350.7L832.6 325.5M932.8 226.0L942.4 216.5M816.4 299.4L833.0 291.2M831.2 156.5L848.7 163.8M966.8 308.2L972.9 316.8M1051.4 382.6L1053.3 402.8M1132.9 324.9L1149.6 340.4M1079.5 291.0L1095.1 303.5M738.7 172.6L760.9 166.8M1027.1 373.2L1014.4 405.5M969.6 227.4L983.4 222.7M806.8 201.0L831.5 205.5M1074.9 275.8L1080.8 277.9M709.8 210.0L711.0 224.6M951.1 333.7L962.7 335.9M932.6 195.6L934.7 195.1M966.6 239.9L947.8 225.4M1079.5 291.0L1080.8 277.9M964.9 384.3L954.9 379.6M831.2 156.5L809.4 146.1M983.1 350.4L962.7 335.9M671.6 185.1L660.7 198.9M888.7 336.7L880.8 352.6M831.2 156.5L826.1 172.3M921.4 194.1L910.2 193.1M695.1 206.3L699.6 179.5M921.4 194.1L932.6 195.6M918.9 374.5L913.1 384.4M740.9 208.3L709.8 210.0M1021.3 248.1L1019.9 243.4M1040.2 373.7L1045.6 352.8M954.1 211.4L969.6 227.4M1008.1 244.8L1021.3 248.1M1001.3 279.2L968.0 279.2M843.3 222.9L830.5 241.4M1048.1 341.7L1045.9 323.2M811.5 241.6L806.4 229.9M753.6 201.0L776.0 182.4M859.7 351.6L880.8 352.6M974.0 260.7L989.2 231.5M738.7 172.6L754.4 179.3M974.0 260.7L966.6 239.9M831.5 216.9L831.5 205.5M877.4 279.5L879.9 309.6M876.1 231.6L861.4 226.7M904.2 221.2L932.8 226.0M847.7 359.9L836.1 352.2M876.1 231.6L900.2 233.8M984.6 410.8L993.3 388.7M820.9 219.6L806.4 229.9M1063.3 402.1L1051.4 382.6M771.1 160.7L766.1 131.8M790.7 118.5L804.0 114.7M1132.9 324.9L1141.4 312.9M685.4 176.1L679.9 177.5M880.8 352.6L907.2 372.0M1079.5 291.0L1039.5 290.0M859.7 351.6L847.7 359.9M951.1 333.7L919.3 335.8M1001.3 279.2L1012.7 275.9M831.8 304.7L816.4 299.4M1079.5 291.0L1074.9 275.8M950.6 269.7L943.1 256.9M939.7 376.4L938.3 396.7M1111.5 336.5L1095.5 343.2M983.1 350.4L992.8 327.1M731.2 187.9L753.6 201.0M1149.6 340.4L1138.6 349.1M866.1 171.1L861.6 153.7M1061.9 319.3L1072.1 324.1M775.9 295.9L764.6 287.6M851.7 335.2L836.1 352.2M939.8 319.3L929.5 318.7M1051.8 371.5L1061.6 349.0M803.3 117.1L790.7 118.5M873.8 160.6L885.9 167.5M899.7 265.1L882.4 259.7M996.6 337.1L1007.0 370.8M966.8 308.2L954.7 281.3M969.6 227.4L947.8 225.4M849.3 352.2L836.1 352.2M827.8 265.3L830.5 241.4M820.9 219.6L831.5 216.9M1031.8 269.6L1044.3 257.2M954.7 281.3L947.5 300.4M1012.7 275.9L1009.2 266.2M982.9 388.3L996.7 379.3M840.2 278.9L847.7 286.6M1021.9 415.5L1014.4 405.5M835.1 166.9L857.2 197.1M816.6 321.4L832.6 325.5M1074.9 275.8L1068.7 271.0M1095.5 343.2L1079.9 360.3M1079.5 291.0L1068.7 271.0M910.2 193.1L922.5 188.2M816.6 276.5L797.3 277.2M996.6 337.1L992.8 327.1M806.6 302.6L791.2 290.2M996.6 337.1L1026.7 351.7M1031.3 335.1L1014.8 312.5M932.4 207.1L942.4 216.5M989.7 368.9L975.7 366.7M918.9 374.5L925.7 390.5M731.2 187.9L709.8 210.0M959.0 208.9L971.2 215.8M835.1 166.9L831.2 156.5M1098.5 332.3L1081.9 342.4M954.1 367.4L964.9 384.3M921.4 194.1L922.5 188.2M1074.0 334.2L1072.1 324.1M762.4 268.7L761.3 254.9M1007.0 370.8L1026.7 351.7M1093.7 370.5L1079.9 360.3M872.8 162.0L873.8 160.6M1027.1 373.2L1038.6 386.2M831.2 156.5L849.4 146.8M1135.2 312.8L1129.6 305.5M898.3 282.9L899.7 265.1M761.3 254.9L742.0 271.2M889.7 267.3L882.4 259.7M1093.7 370.5L1069.6 383.9M769.8 172.6L783.6 169.4M880.8 352.6L875.9 335.6M876.0 215.6L861.4 226.7M759.1 215.8L773.6 229.3M736.2 259.2L732.5 261.0M974.0 260.7L1009.2 266.2M859.7 351.6L860.5 365.6M1053.3 402.8L1050.1 417.4M655.2 190.6L667.4 183.8M855.4 243.0L865.8 267.4M816.6 321.4L809.4 321.0M1125.0 357.4L1117.2 367.1M789.9 124.5L790.7 118.5M876.1 231.6L882.4 259.7M827.8 265.3L839.6 265.0M1098.5 332.3L1087.9 318.5M819.5 179.9L824.9 190.8M879.9 309.6L892.9 313.8M937.5 303.9L929.5 318.7M974.0 260.7L943.1 256.9M898.3 282.9L877.4 279.5M786.6 144.0L780.1 129.7M877.4 279.5L889.7 267.3M954.1 367.4L954.9 379.6M808.0 216.5L797.5 225.1M1040.2 373.7L1026.7 351.7M827.8 265.3L816.6 276.5M1127.3 338.7L1111.5 336.5M984.6 410.8L1014.4 405.5M789.9 124.5L786.6 144.0M660.7 198.9L667.4 183.8M989.2 231.5L966.6 239.9M919.3 335.8L929.5 318.7M781.2 196.1L783.6 169.4M731.2 187.9L705.0 165.0M849.3 352.2L847.7 359.9M880.8 352.6L919.6 346.0M834.0 350.7L825.3 333.8M1095.5 343.2L1081.9 342.4M1074.0 334.2L1061.9 319.3M761.3 254.9L781.5 241.3M694.3 219.0L680.1 215.2M806.4 229.9L781.5 241.3M1006.5 324.3L1014.8 312.5M1031.3 335.1L1006.5 324.3M982.9 388.3L993.3 388.7M1105.6 318.2L1098.5 332.3M908.3 314.7L919.1 298.7M943.1 256.9L942.9 237.5M888.7 336.7L902.5 332.9M1007.0 370.8L983.1 350.4M932.4 207.1L932.6 195.6M910.2 193.1L910.3 181.3M855.4 243.0L840.9 241.1M831.8 304.7L832.6 325.5M1105.6 318.2L1087.9 318.5M950.6 269.7L968.0 279.2M982.6 301.0L988.7 316.6M1038.6 386.2L1051.4 382.6M769.8 172.6L776.0 182.4M1063.3 402.1L1061.6 409.4M1007.0 370.8L996.7 379.3M937.5 303.9L925.9 290.8M932.8 226.0L900.2 233.8M1054.9 267.2L1031.8 269.6M898.3 282.9L889.7 267.3M862.2 278.2L865.8 267.4M806.8 201.0L819.5 179.9M872.8 162.0L861.6 153.7M831.2 156.5L837.2 139.9M740.9 208.3L745.7 233.6M1127.3 338.7L1149.6 340.4M1095.5 343.2L1098.5 332.3M919.3 335.8L908.3 314.7M857.2 197.1L831.5 205.5M809.4 146.1L825.0 133.0M1045.6 352.8L1031.3 335.1M875.9 335.6L892.9 313.8M892.7 203.6L867.3 199.1M736.2 259.2L742.0 271.2M825.3 333.8L816.1 333.2M686.7 188.3L679.9 177.5M1021.3 248.1L1009.2 266.2M789.9 124.5L780.1 129.7M1002.9 234.5L1007.8 236.5M913.1 384.4L900.5 378.3M789.9 124.5L778.1 124.7M1127.3 338.7L1115.5 325.7M974.0 260.7L950.6 269.7M856.2 155.4L861.6 153.7M932.8 226.0L942.9 237.5M694.3 219.0L711.0 224.6M781.2 196.1L776.0 182.4M892.7 203.6L876.0 215.6M892.7 203.6L898.1 174.4M939.0 270.0L899.7 265.1M899.7 265.1L943.1 256.9M951.1 333.7L965.0 358.9M796.5 266.1L777.0 257.7M954.1 211.4L946.8 202.0M1129.6 305.5L1141.4 312.9M847.7 286.6L833.0 291.2M876.0 215.6L867.3 199.1M1012.7 275.9L1031.8 269.6M982.9 388.3L975.7 366.7M660.7 198.9L655.2 190.6M826.1 172.3L824.9 190.8M857.2 197.1L824.9 190.8M825.0 343.6L816.1 333.2M972.9 316.8L992.8 327.1M1104.8 371.3L1093.7 370.5M910.2 193.1L898.1 174.4M716.7 240.0L713.1 240.8M939.0 270.0L954.7 281.3M993.0 302.2L988.7 316.6M820.9 219.6L831.5 205.5M1014.4 405.5L1004.1 424.3M1048.1 341.7L1045.6 352.8M791.2 290.2L775.9 295.9M781.2 196.1L797.5 225.1M759.9 235.2L745.7 233.6M974.0 260.7L968.0 279.2M796.5 266.1L781.5 241.3M816.6 321.4L825.3 333.8M1138.6 349.1L1127.7 357.8M1132.9 324.9L1135.2 312.8M780.1 129.7L766.1 131.8M759.1 215.8L753.6 201.0M962.7 335.9L961.6 325.0M843.3 222.9L840.9 241.1M954.7 281.3L950.6 269.7M753.4 279.3L742.0 271.2M943.1 256.9L966.6 239.9M772.7 281.3L775.6 267.9M863.3 335.6L850.3 318.6M762.4 268.7L777.0 257.7M816.6 276.5L796.5 266.1M1041.7 408.4L1014.4 405.5M1093.7 370.5L1096.0 385.3M742.0 271.2L732.5 261.0M1107.1 305.7L1105.2 291.7M865.3 367.2L873.8 370.0M972.9 316.8L988.7 316.6M907.2 372.0L900.5 378.3M989.2 231.5L969.6 227.4M1002.9 234.5L995.6 229.6M1051.8 371.5L1051.4 382.6M951.1 333.7L940.0 363.6M983.1 350.4L975.7 366.7M1127.3 338.7L1132.9 324.9M964.9 384.3L975.7 366.7M834.0 350.7L851.7 335.2M827.8 265.3L811.5 241.6M1050.1 417.4L1038.0 424.6M1107.1 305.7L1102.5 294.6M843.3 222.9L857.2 197.1M1001.3 279.2L978.5 291.5M947.5 300.4L961.6 325.0M857.2 197.1L861.4 226.7M954.7 281.3L968.0 279.2M772.7 281.3L775.9 295.9M865.8 267.4L839.6 265.0M783.6 169.4L798.2 157.1M932.4 207.1L921.4 194.1M982.9 388.3L989.7 368.9M1039.5 290.0L1045.9 323.2M919.3 335.8L919.6 346.0M1041.7 408.4L1053.3 402.8M745.7 233.6L736.2 259.2M972.9 316.8L961.6 325.0M643.0 197.5L655.1 202.6M806.6 302.6L787.3 304.0M760.9 166.8L754.5 139.6M798.2 157.1L780.1 154.3M1051.8 371.5L1068.8 359.2M667.4 207.1L667.9 208.3M1041.7 408.4L1050.1 417.4M840.2 278.9L833.0 291.2M716.7 240.0L722.9 250.7M896.6 303.0L908.3 314.7M791.2 290.2L787.3 304.0M1132.9 324.9L1115.5 325.7" stroke="#fff" stroke-width="0.4" fill="none" opacity="0.7"/></g>
<polygon points="825.0,134.0 1137.5,310.0 1112.0,317.5 1075.0,332.5 1052.0,336.0 900.0,248.0 860.0,229.0 847.5,228.8 841.2,225.0 840.0,217.5 830.0,205.0 810.0,193.8 793.8,182.5 793.8,166.2 802.5,162.5 820.0,158.8 826.2,150.0" fill="#d9d9d9" stroke="#d9d9d9" stroke-width="1.6"/>
<polyline points="767.0,137.0 765.0,160.0 772.0,183.0 790.0,205.0 815.0,225.0 843.0,236.0" fill="none" stroke="#000" stroke-width="4.800000000000001"/>
<polyline points="800.0,305.0 860.0,300.0 931.0,312.0" fill="none" stroke="#000" stroke-width="5.6000000000000005"/>
<polyline points="830.0,275.0 800.0,290.0 775.0,300.0" fill="none" stroke="#000" stroke-width="4.0"/>
<polyline points="1047.0,339.0 1054.0,351.0 1040.0,362.0 1025.0,378.0 1019.0,400.0 1022.0,430.0" fill="none" stroke="#000" stroke-width="6.4"/>
<polyline points="843.0,359.0 870.0,349.0 898.0,334.0 914.0,323.0" fill="none" stroke="#000" stroke-width="4.800000000000001"/>
<polyline points="935.0,334.0 1000.0,342.0 1047.0,340.0" fill="none" stroke="#000" stroke-width="6.4"/>
<polygon points="887,252 1047,337 1045,341 922,316 905,290" fill="#000"/>
<path d="M887.0 253.0L877.1 287.0M896.4 258.0L887.1 290.2M905.8 263.0L897.0 293.5M915.2 268.0L906.9 296.7M924.6 273.0L916.8 299.9M934.1 278.0L926.7 303.2M943.5 283.0L936.7 306.4M952.9 288.0L946.6 309.6M962.3 293.0L956.5 312.9M971.7 298.0L966.4 316.1M981.1 303.0L976.4 319.4M990.5 308.0L986.3 322.6M999.9 313.0L996.2 325.8M1009.4 318.0L1006.1 329.1M1018.8 323.0L1016.1 332.3M1028.2 328.0L1026.0 335.5M1037.6 333.0L1035.9 338.8M1047.0 338.0L1045.8 342.0" stroke="#ddd" stroke-width="0.5" stroke-dasharray="2,1.5" fill="none"/>
<path d="M905.8 263.0L897.0 293.5M915.2 268.0L906.9 296.7M924.6 273.0L916.8 299.9M934.1 278.0L926.7 303.2M943.5 283.0L936.7 306.4M952.9 288.0L946.6 309.6M962.3 293.0L956.5 312.9" stroke="#c00" stroke-width="0.9" stroke-dasharray="1,2.5" fill="none"/>
<path d="M817.5,238.6 C835,234 860,235 880,244 L1047,339" stroke="#fff" stroke-width="1.4" fill="none"/>
<path d="M843.75,359 C860,352 885,340 913.75,322.8" stroke="#e8e8e8" stroke-width="2.2" fill="none"/>
<polygon points="913.8,322.8 931.2,314.0 951.0,325.0 934.5,333.8" fill="#e6e6e6"/>
<path d="M950,327 L975,338" stroke="#c00" stroke-width="2.5"/>
<path d="M785,195 L800,202 L798,207 L783,200Z M790,190 l3,-3" fill="none" stroke="#b00" stroke-width="0.8"/><circle cx="867.5" cy="278.5" r="3" fill="none" stroke="#b00" stroke-width="0.8"/><path d="M830,253 L845,258" stroke="#b00" stroke-width="1"/>
</g>
<g class="t">
<g transform="translate(98.8,0) scale(0.87,1)">
<text x="31.49" y="508.20" transform="translate(31.49,0) scale(0.877,1) translate(-31.49,0)">POPIS KONCEPTU PROJEKTU</text>
<text x="31.49" y="525.28">V Krušných horách nenajdeme pouze lesy a hory. Klidná horská</text>
<text x="0.00" y="533.82">krajina ukrývá technický skvost. Zdejší přehrada Fláje má něco, co jen tak ve</text>
<text x="0.00" y="542.36">střední Evropě nenajdeme, a sice hrázní těleso pilířového typu. Betonový obr</text>
<text x="0.00" y="550.90">zadržující ohromnou masu vody nenápadně vsazen mezi lesní porost. Óda</text>
<text x="0.00" y="559.44">betonových konstrukcí. Surová konstrukce stvořená jedinému úkolu.</text>
<text x="31.49" y="576.52">Izolovanost území dána topografií i historickým vývojem – tak by</text>
<text x="0.00" y="585.06">se dalo charakterizovat její okolí. Izolovanost, horské podmínky, prostupnost</text>
<text x="0.00" y="593.60">územím apod., to vše se může stát i předností návrhu. Nevšední stavba</text>
<text x="0.00" y="602.14">vsazená do krásné přírody láká, nejen turisty, ze všech koutů republiky.</text>
<text x="31.49" y="619.22">Na první pohled obrovská jednolitá betonová plocha pouze klame</text>
<text x="0.00" y="627.76">tělem. Ve skutečnosti uvnitř najdeme velkorysý prázdný uzavřený prostor.</text>
<text x="0.00" y="636.30">Práce je snahou o nalezení řešení nezvyklým prostorům nacházející se uvnitř</text>
<text x="0.00" y="644.84">flájské hráze a vdechnout tak dílu nový život. Zároveň snahou o propojení</text>
<text x="0.00" y="653.38">stávající funkce zadržovací, s náplní novou. Monumentalita a surovost</text>
<text x="0.00" y="661.92">materiálů zde hrají prim před vším ostatním. Impozantní kolos sám poutá</text>
<text x="0.00" y="670.46">pozornost a byla by tedy škoda přebít jeho sílu. V tomhle případě není nutné</text>
<text x="0.00" y="679.00">přikládat architektonickým prvkům nepřiměřený význam, protože samotná</text>
<text x="0.00" y="687.54">přehrada je velmi silnou strukturou. Její obraz by měl dominovat prostředí, do</text>
<text x="0.00" y="696.08">kterého je vsazen.</text>
<text x="31.49" y="713.16">Hledání nové funkce vnitřních dutin, kde by se protínala minulost</text>
<text x="0.00" y="721.70">s přítomností. Naplnění objemu novým obsahem a transformace čistě</text>
<text x="0.00" y="730.24">technického díla v nekonvenční objekt.</text>
<text x="31.49" y="747.32">Vnitřní prostor dýchá jakoby jinak, zdá se světem uvnitř světa jiného,</text>
<text x="0.00" y="755.86">a přitom rozrušující to venku. Prostor, jehož umístění je vlastně bezmístné,</text>
<text x="0.00" y="764.40">existující samo o sobě nezávisle na okolní krajině či lokalitě. Je prostorem</text>
<text x="0.00" y="772.94">svým, v sobě uzavřeným, a zároveň vydán nekonečnu okolo. Prostor, který</text>
<text x="0.00" y="781.48">je nějakým způsobem „jiný“. Jiný ve významu rušivého, nekompatibilního,</text>
<text x="0.00" y="790.02">protichůdného přístupu nebo transformujícího se v čase. Reálné místo,</text>
<text x="0.00" y="798.56">situované mimo společenskou normalitu, třebaže jednoznačně lokalizované.</text>
</g>
<g transform="translate(384.6,0) scale(0.87,1)">
<text x="0.00" y="512.60">Samo těleso vytváří jakési napětí, vytváří neklid související s prostorem, nikoli</text>
<text x="0.00" y="521.14">časem.</text>
<text x="31.72" y="529.68">Voda je původem veškerého života na Zemi, hráz je potom jakousi</text>
<text x="0.00" y="538.22">hranicí, předělem mezi lidským duchem a světskou společností. Bájnou řekou</text>
<text x="0.00" y="546.76">Styx. Jde o nalezení rovnováhy mezi tím uvnitř a tím venku.</text>
<text x="31.72" y="563.84">Monumentalita díla, nejenom že dává, ale také bere. Stavbám</text>
<text x="0.00" y="572.38">vodních přehrad ve většině případů ustupuje existující zástavba, a tím i lidská</text>
<text x="0.00" y="580.92">stopa, která je vlastně nahrazena stopou novou. Voda se stává překrývkou</text>
<text x="0.00" y="589.46">konzervující vše, co pohltila. Sama přehrada stává schránkou do budoucna</text>
<text x="0.00" y="598.00">nesoucí důkaz lidského zásahu. Jen to není patrné okamžitě, je potřeba je</text>
<text x="0.00" y="606.54">nalézt. Co kdyby ona hráz mohla také uchovávat? Stát se připomínkou,</text>
<text x="0.00" y="615.08">připomínkou toho, co zde kdysi bylo – my lidé. Schránkou nezávislou času a</text>
<text x="0.00" y="623.62">prostoru, shromaždištěm vzpomínek.</text>
<text x="31.72" y="640.70">Vycházím z myšlenky konzervace a uchovávání. Vzhledem k okolní</text>
<text x="0.00" y="649.24">klidné krajině pokryté hustými lesy a víceméně žádnou existující zástavbou v</text>
<text x="0.00" y="657.78">blízkém sousedství, vyzařuje místo zvláštní klid, a díky vodnímu dílu, napětí</text>
<text x="0.00" y="666.32">současně. Při vnitřním prozkoumání dutin vzniklých uvnitř, zase jako první</text>
<text x="0.00" y="674.86">člověku vyvstane na mysl gotický chrám s útlými prostory a vysokými stropy.</text>
<text x="0.00" y="683.40">Kombinace sakrálního charakteru prázdných „nádob“ s panenskou přírodou</text>
<text x="0.00" y="691.94">okolo a konzervací mě tak přivedla k ideji vytvoření hřbitovního prostoru, jako</text>
<text x="0.00" y="700.48">alternativě k těm běžným hřbitovům nebo kolumbáriím.</text>
<text x="31.72" y="726.10" transform="translate(31.72,0) scale(0.877,1) translate(-31.72,0)">PROJECT DESCRIPTION</text>
<text x="31.72" y="743.18">The subject of this thesis is the concept of rebuilding the water dam</text>
<text x="0.00" y="751.72">Fláje, the only one buttress dam in the Czech Republic and also in Central</text>
<text x="0.00" y="760.26">Europe. The main goal of my thesis is to demonstrate the possibility how to</text>
<text x="0.00" y="768.80">newly use the space inside the dam – a characteristic feature of this unique</text>
<text x="0.00" y="777.34">work of the water engeneering. Material solution and interior volumes are the</text>
<text x="0.00" y="785.88">main characteristic mark of whole architectural design.</text>
</g>
</g>
<g class="cap">
<g transform="translate(99,0) scale(0.867,1)"><text x="0" y="472.5">Situace širšího okolí vodní nádrže</text></g>
<g transform="translate(1181,0) scale(0.867,1)"><text x="0" y="451" text-anchor="end">Axonometrie stávajícího stavu</text></g>
<g transform="translate(1181.5,0) scale(0.867,1)"><text x="0" y="816" text-anchor="end">Axonometrický řez hrází a axonometrie vnitřních dutin mezi pilíři</text></g>
<g transform="translate(98,0) scale(0.867,1)"><text x="0" y="1158.6">Situace bližšího okolí hráze</text></g>
<g transform="translate(1181,0) scale(0.867,1)"><text x="0" y="1160" text-anchor="end">Axonometrie navrhovaného stavu</text></g>
<g transform="translate(1181,0) scale(0.867,1)"><text x="0" y="1367.5" text-anchor="end">Pohled na vzdušní líc hráze – navrhovaný stav</text></g>
<g transform="translate(1181,0) scale(0.867,1)"><text x="0" y="1615.3" text-anchor="end">Podélný řez hrází</text></g>
</g>
<g>
<rect x="32" y="1690.25" width="1215.6" height="1.5" fill="#6e6e6e"/>
<rect x="32" y="1739.25" width="1215.6" height="1.5" fill="#6e6e6e"/>
<rect x="32" y="1788.25" width="1215.6" height="1.5" fill="#6e6e6e"/>
<text class="lab" x="32" y="1656.25">Název diplomního projektu:</text>
<text class="val" x="32" y="1677.9">Vodní dílo Fláje</text>
<text class="lab" x="32" y="1704.9">Autor:</text>
<text class="val" x="32" y="1725.7">Tomáš Pevný</text>
<text class="lab" x="32" y="1753.4">Vedoucí diplomové práce:</text>
<text class="val" x="32" y="1774.2">prof. Ing. Mgr. Akad. arch. Petr Hájek</text>
<text class="lab" x="770.4" y="1704.9">Škola:</text>
<text class="val" x="770.4" y="1725.7">ČVUT - Fakulta architektury</text>
<text class="lab" x="770.4" y="1753.4">Akademický rok:</text>
<text class="val" x="770.4" y="1774.2">2019 / 2020</text>
</g>
</svg></body></html>
